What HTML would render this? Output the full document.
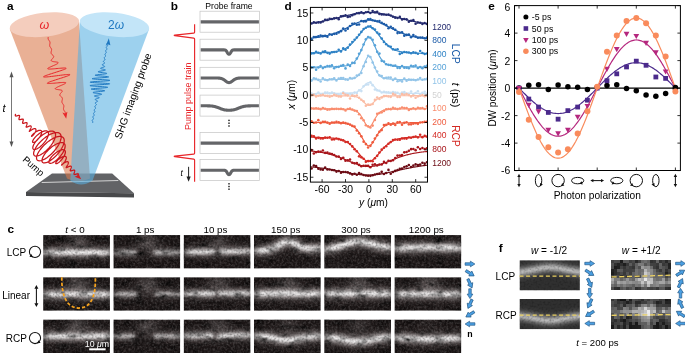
<!DOCTYPE html>
<html><head><meta charset="utf-8"><title>figure</title>
<style>html,body{margin:0;padding:0;background:#fff;font-family:"Liberation Sans",sans-serif;overflow:hidden;}svg{display:block;will-change:transform;}</style></head>
<body>
<svg width="685" height="356" viewBox="0 0 685 356" font-family="Liberation Sans, sans-serif">
<defs>
<filter id="blur2" filterUnits="userSpaceOnUse" x="0" y="200" width="685" height="156"><feGaussianBlur stdDeviation="2.2"/></filter>
<filter id="blur3" filterUnits="userSpaceOnUse" x="0" y="200" width="685" height="156"><feGaussianBlur stdDeviation="3.2"/></filter>
<filter id="blur17" filterUnits="userSpaceOnUse" x="0" y="200" width="685" height="156"><feGaussianBlur stdDeviation="1.7"/></filter>
<filter id="blur1" filterUnits="userSpaceOnUse" x="0" y="200" width="685" height="156"><feGaussianBlur stdDeviation="1.1"/></filter>
<linearGradient id="edgeg" x1="0" x2="1" y1="0" y2="0"><stop offset="0" stop-color="#120e0e" stop-opacity="0.45"/><stop offset="0.12" stop-color="#120e0e" stop-opacity="0"/><stop offset="0.9" stop-color="#120e0e" stop-opacity="0"/><stop offset="1" stop-color="#120e0e" stop-opacity="0.3"/></linearGradient>
<filter id="blur5" filterUnits="userSpaceOnUse" x="0" y="200" width="685" height="156"><feGaussianBlur stdDeviation="5"/></filter>
<filter id="noise" x="0" y="0" width="100%" height="100%">
  <feTurbulence type="fractalNoise" baseFrequency="0.45" numOctaves="2" seed="3" result="t"/>
  <feColorMatrix type="matrix" values="0 0 0 0 1  0 0 0 0 0.97  0 0 0 0 0.97  2.2 0 0 0 -0.85"/>
</filter>
<filter id="noisel" x="0" y="0" width="100%" height="100%">
  <feTurbulence type="fractalNoise" baseFrequency="0.09 0.16" numOctaves="2" seed="5" result="t"/>
  <feColorMatrix type="matrix" values="2.4 0 0 0 -0.35  2.4 0 0 0 -0.35  2.4 0 0 0 -0.35  0 0 0 0 1"/>
</filter>
<filter id="noisem" x="0" y="0" width="100%" height="100%">
  <feTurbulence type="fractalNoise" baseFrequency="0.5" numOctaves="2" seed="11" result="t"/>
  <feColorMatrix type="matrix" values="0 1.5 0 0 0.1  0 1.5 0 0 0.1  0 1.5 0 0 0.1  0 0 0 0 1"/>
</filter>
<marker id="arrR" markerWidth="6" markerHeight="6" refX="4" refY="3" orient="auto"><path d="M0,0.5 L5,3 L0,5.5 L1.2,3 Z" fill="#d7191c"/></marker>
<marker id="arrB" markerWidth="6" markerHeight="6" refX="4" refY="3" orient="auto"><path d="M0,0.5 L5,3 L0,5.5 L1.2,3 Z" fill="#1f78c1"/></marker>
</defs>
<rect width="685" height="356" fill="#fff"/>
<g id="pa">
<polygon points="52,173.6 112.2,173.6 134,193.3 26,192" fill="#626366"/>
<polygon points="26,192 134,193.3 134,197.4 26,196" fill="#48494b"/>
<line x1="41.7" y1="182.5" x2="118.3" y2="180.5" stroke="#e0e0e0" stroke-width="0.9"/>
<path d="M9.8,29.2 L67,178.5 Q78,184 90,178.5 L79,21.5 Z" fill="rgb(218,121,74)" fill-opacity="0.59"/>
<ellipse cx="44.4" cy="24.7" rx="34.9" ry="11.9" transform="rotate(-6.3 44.4 24.7)" fill="#f4cdbd"/>
<path d="M79.9,21.5 L70.3,180.5 Q81,188.5 92.6,180.5 L149,29.2 Z" fill="rgb(89,177,226)" fill-opacity="0.59"/>
<ellipse cx="114.5" cy="24.7" rx="34.9" ry="11.9" transform="rotate(6.3 114.5 24.7)" fill="#c3e5f8"/>
<path d="M48.30,37.00 L48.27,37.17 L48.23,37.34 L48.20,37.51 L48.18,37.68 L48.16,37.84 L48.14,38.01 L48.13,38.17 L48.13,38.34 L48.14,38.50 L48.16,38.65 L48.18,38.81 L48.22,38.97 L48.26,39.12 L48.32,39.27 L48.38,39.42 L48.45,39.57 L48.53,39.71 L48.61,39.85 L48.70,40.00 L48.80,40.14 L48.89,40.28 L48.99,40.42 L49.10,40.56 L49.20,40.70 L49.30,40.84 L49.39,40.98 L49.48,41.13 L49.57,41.27 L49.65,41.41 L49.73,41.56 L49.79,41.71 L49.85,41.86 L49.90,42.01 L49.94,42.16 L49.97,42.32 L49.99,42.48 L50.00,42.64 L50.00,42.80 L50.00,42.96 L49.99,43.13 L49.97,43.29 L49.95,43.46 L49.92,43.63 L49.89,43.80 L49.85,43.97 L49.82,44.14 L49.78,44.31 L49.75,44.48 L49.72,44.65 L49.70,44.81 L49.68,44.98 L49.67,45.14 L49.66,45.31 L49.67,45.47 L49.68,45.63 L49.70,45.79 L49.73,45.94 L49.77,46.10 L49.82,46.25 L49.88,46.40 L49.94,46.55 L50.02,46.69 L50.10,46.84 L50.19,46.98 L50.28,47.12 L50.38,47.26 L50.48,47.40 L50.59,47.54 L50.69,47.68 L50.79,47.82 L50.89,47.96 L50.99,48.10 L51.08,48.25 L51.17,48.39 L51.25,48.53 L51.33,48.68 L51.39,48.83 L51.45,48.98 L51.49,49.13 L51.53,49.29 L51.56,49.44 L51.57,49.60 L51.58,49.76 L51.58,49.92 L51.57,50.09 L51.55,50.26 L51.52,50.42 L51.49,50.59 L51.45,50.76 L51.41,50.93 L51.37,51.11 L51.32,51.28 L51.28,51.45 L51.23,51.62 L51.19,51.79 L51.16,51.96 L51.13,52.13 L51.10,52.30 L51.09,52.47 L51.08,52.63 L51.09,52.79 L51.10,52.95 L51.13,53.11 L51.17,53.26 L51.22,53.41 L51.28,53.56 L51.36,53.71 L51.45,53.85 L51.55,53.99 L51.66,54.13 L51.78,54.26 L51.91,54.40 L52.05,54.53 L52.19,54.66 L52.34,54.79 L52.49,54.92 L52.64,55.05 L52.79,55.18 L52.93,55.31 L53.07,55.45 L53.19,55.58 L53.31,55.72 L53.41,55.86 L53.50,56.00 L53.57,56.15 L53.62,56.30 L53.66,56.45 L53.67,56.61 L53.65,56.78 L53.62,56.95 L53.56,57.12 L53.48,57.30 L53.38,57.49 L53.26,57.68 L53.12,57.87 L52.97,58.06 L52.80,58.26 L52.62,58.46 L52.44,58.67 L52.25,58.87 L52.07,59.07 L51.89,59.27 L51.72,59.47 L51.57,59.67 L51.44,59.86 L51.34,60.04 L51.27,60.22 L51.23,60.39 L51.23,60.55 L51.27,60.71 L51.36,60.85 L51.49,60.99 L51.66,61.11 L51.89,61.22 L52.16,61.33 L52.47,61.42 L52.83,61.51 L53.22,61.58 L53.64,61.65 L54.08,61.72 L54.55,61.78 L55.02,61.84 L55.50,61.90 L55.97,61.96 L56.42,62.02 L56.84,62.09 L57.22,62.17 L57.56,62.26 L57.84,62.36 L58.06,62.48 L58.20,62.61 L58.27,62.75 L58.25,62.92 L58.14,63.11 L57.95,63.31 L57.66,63.54 L57.29,63.78 L56.83,64.04 L56.30,64.32 L55.69,64.61 L55.03,64.92 L54.31,65.24 L53.56,65.57 L52.80,65.90 L52.02,66.23 L51.26,66.56 L50.53,66.88 L49.84,67.19 L49.22,67.49 L48.69,67.77 L48.24,68.03 L47.91,68.26 L47.71,68.47 L47.63,68.65 L47.70,68.79 L47.92,68.91 L48.28,68.99 L48.79,69.04 L49.45,69.06 L50.24,69.05 L51.17,69.01 L52.20,68.95 L53.33,68.87 L54.53,68.76 L55.79,68.65 L57.08,68.53 L58.38,68.41 L59.66,68.30 L60.89,68.19 L62.05,68.10 L63.11,68.03 L64.04,67.99 L64.84,67.98 L65.47,68.00 L65.91,68.07 L66.17,68.18 L66.22,68.33 L66.06,68.52 L65.69,68.77 L65.11,69.06 L64.33,69.39 L63.36,69.76 L62.22,70.17 L60.93,70.62 L59.52,71.09 L58.01,71.58 L56.42,72.09 L54.80,72.60 L53.17,73.12 L51.58,73.63 L50.04,74.13 L48.61,74.60 L47.30,75.05 L46.14,75.46 L45.17,75.84 L44.41,76.17 L43.87,76.45 L43.56,76.68 L43.51,76.85 L43.70,76.97 L44.15,77.04 L44.83,77.05 L45.75,77.01 L46.89,76.93 L48.21,76.80 L49.71,76.64 L51.34,76.44 L53.08,76.22 L54.90,75.99 L56.75,75.75 L58.60,75.51 L60.42,75.28 L62.16,75.06 L63.79,74.86 L65.29,74.70 L66.61,74.57 L67.75,74.49 L68.67,74.45 L69.35,74.46 L69.80,74.53 L69.99,74.65 L69.94,74.82 L69.63,75.05 L69.09,75.33 L68.33,75.66 L67.36,76.04 L66.20,76.45 L64.89,76.90 L63.46,77.37 L61.92,77.87 L60.33,78.38 L58.70,78.90 L57.08,79.41 L55.49,79.92 L53.98,80.41 L52.57,80.88 L51.28,81.33 L50.14,81.74 L49.17,82.11 L48.39,82.44 L47.81,82.73 L47.44,82.98 L47.28,83.17 L47.33,83.32 L47.59,83.43 L48.03,83.50 L48.66,83.52 L49.46,83.51 L50.39,83.47 L51.45,83.40 L52.61,83.31 L53.84,83.20 L55.12,83.09 L56.42,82.97 L57.71,82.85 L58.97,82.74 L60.17,82.63 L61.30,82.55 L62.33,82.49 L63.26,82.45 L64.05,82.44 L64.71,82.46 L65.22,82.51 L65.58,82.59 L65.80,82.71 L65.87,82.85 L65.79,83.03 L65.59,83.24 L65.26,83.47 L64.81,83.73 L64.28,84.01 L63.66,84.31 L62.97,84.62 L62.24,84.94 L61.48,85.27 L60.70,85.60 L59.94,85.93 L59.19,86.26 L58.47,86.58 L57.81,86.89 L57.20,87.18 L56.67,87.46 L56.21,87.72 L55.84,87.96 L55.55,88.19 L55.36,88.39 L55.25,88.58 L55.23,88.75 L55.30,88.89 L55.44,89.02 L55.66,89.14 L55.94,89.24 L56.28,89.33 L56.66,89.41 L57.08,89.48 L57.53,89.54 L58.00,89.60 L58.48,89.66 L58.95,89.72 L59.42,89.78 L59.86,89.85 L60.28,89.92 L60.67,89.99 L61.03,90.08 L61.34,90.17 L61.61,90.28 L61.84,90.39 L62.01,90.51 L62.14,90.65 L62.23,90.79 L62.27,90.95 L62.27,91.11 L62.23,91.28 L62.16,91.46 L62.06,91.64 L61.93,91.83 L61.78,92.03 L61.61,92.23 L61.43,92.43 L61.25,92.63 L61.06,92.83 L60.88,93.04 L60.70,93.24 L60.53,93.44 L60.38,93.63 L60.24,93.82 L60.12,94.01 L60.02,94.20 L59.94,94.38 L59.88,94.55 L59.85,94.72 L59.83,94.89 L59.84,95.05 L59.88,95.20 L59.93,95.35 L60.00,95.50 L60.09,95.64 L60.19,95.78 L60.31,95.92 L60.43,96.05 L60.57,96.19 L60.71,96.32 L60.86,96.45 L61.01,96.58 L61.16,96.71 L61.31,96.84 L61.45,96.97 L61.59,97.10 L61.72,97.24 L61.84,97.37 L61.95,97.51 L62.05,97.65 L62.14,97.79 L62.22,97.94 L62.28,98.09 L62.33,98.24 L62.37,98.39 L62.40,98.55 L62.41,98.71 L62.42,98.87 L62.41,99.03 L62.40,99.20 L62.37,99.37 L62.34,99.54 L62.31,99.71 L62.27,99.88 L62.22,100.05 L62.18,100.22 L62.13,100.39 L62.09,100.57 L62.05,100.74 L62.01,100.91 L61.98,101.08 L61.95,101.24 L61.93,101.41 L61.92,101.58 L61.92,101.74 L61.93,101.90 L61.94,102.06 L61.97,102.21 L62.01,102.37 L62.05,102.52 L62.11,102.67 L62.17,102.82 L62.25,102.97 L62.33,103.11 L62.42,103.25 L62.51,103.40 L62.61,103.54 L62.71,103.68 L62.81,103.82 L62.91,103.96 L63.02,104.10 L63.12,104.24 L63.22,104.38 L63.31,104.52 L63.40,104.66 L63.48,104.81 L63.56,104.95 L63.62,105.10 L63.68,105.25 L63.73,105.40 L63.77,105.56 L63.80,105.71 L63.82,105.87 L63.83,106.03 L63.84,106.19 L63.83,106.36 L63.82,106.52 L63.80,106.69 L63.78,106.85 L63.75,107.02 L63.72,107.19 L63.68,107.36 L63.65,107.53 L63.61,107.70 L63.58,107.87 L63.55,108.04 L63.53,108.21 L63.51,108.37 L63.50,108.54 L63.50,108.70 L63.50,108.86 L63.51,109.02 L63.53,109.18 L63.56,109.34 L63.60,109.49 L63.65,109.64 L63.71,109.79 L63.77,109.94 L63.85,110.09 L63.93,110.23 L64.02,110.37 L64.11,110.52 L64.20,110.66 L64.30,110.80 L64.40,110.94 L64.51,111.08 L64.61,111.22 L64.70,111.36 L64.80,111.50 L64.89,111.65 L64.97,111.79 L65.05,111.93 L65.12,112.08 L65.18,112.23 L65.24,112.38 L65.28,112.53 L65.32,112.69 L65.34,112.85 L65.36,113.00 L65.37,113.16 L65.37,113.33 L65.36,113.49 L65.34,113.66 L65.32,113.82 L65.30,113.99 L65.27,114.16 L65.23,114.33 L65.20,114.50" fill="none" stroke="#e8262a" stroke-width="1.0" stroke-linejoin="round"/>
<path d="M66.2,118.8 L62.4,112.6 L65,113.6 L67.4,111.8 Z" fill="#e8262a"/>
<path d="M92.20,123.00 L92.36,122.84 L92.51,122.68 L92.64,122.52 L92.74,122.36 L92.80,122.20 L92.83,122.04 L92.82,121.88 L92.78,121.72 L92.71,121.56 L92.62,121.40 L92.52,121.24 L92.43,121.08 L92.34,120.92 L92.28,120.76 L92.24,120.60 L92.24,120.44 L92.28,120.28 L92.36,120.12 L92.46,119.96 L92.60,119.80 L92.75,119.64 L92.91,119.48 L93.07,119.32 L93.21,119.16 L93.33,119.00 L93.43,118.84 L93.48,118.68 L93.50,118.52 L93.48,118.36 L93.43,118.20 L93.36,118.04 L93.26,117.88 L93.17,117.72 L93.07,117.56 L92.99,117.40 L92.93,117.24 L92.91,117.08 L92.92,116.92 L92.97,116.76 L93.05,116.60 L93.17,116.44 L93.31,116.28 L93.46,116.12 L93.62,115.96 L93.78,115.80 L93.92,115.64 L94.03,115.48 L94.12,115.32 L94.16,115.16 L94.17,115.00 L94.14,114.84 L94.09,114.68 L94.00,114.52 L93.91,114.36 L93.81,114.20 L93.72,114.04 L93.64,113.88 L93.59,113.72 L93.57,113.56 L93.59,113.40 L93.65,113.24 L93.74,113.08 L93.87,112.92 L94.01,112.76 L94.17,112.60 L94.34,112.44 L94.49,112.28 L94.63,112.12 L94.74,111.96 L94.81,111.80 L94.85,111.64 L94.85,111.48 L94.81,111.32 L94.75,111.16 L94.66,111.00 L94.55,110.84 L94.45,110.68 L94.35,110.52 L94.28,110.36 L94.23,110.20 L94.22,110.04 L94.25,109.88 L94.31,109.72 L94.42,109.56 L94.55,109.40 L94.71,109.24 L94.89,109.08 L95.06,108.92 L95.22,108.76 L95.36,108.60 L95.47,108.44 L95.55,108.28 L95.58,108.12 L95.56,107.96 L95.51,107.80 L95.43,107.64 L95.31,107.48 L95.19,107.32 L95.07,107.16 L94.95,107.00 L94.86,106.84 L94.81,106.68 L94.80,106.52 L94.83,106.36 L94.91,106.20 L95.04,106.04 L95.21,105.88 L95.40,105.72 L95.61,105.56 L95.82,105.40 L96.02,105.24 L96.19,105.08 L96.32,104.92 L96.40,104.76 L96.42,104.60 L96.38,104.44 L96.30,104.28 L96.16,104.12 L95.99,103.96 L95.80,103.80 L95.61,103.64 L95.43,103.48 L95.29,103.32 L95.21,103.16 L95.18,103.00 L95.23,102.84 L95.35,102.68 L95.54,102.52 L95.79,102.36 L96.08,102.20 L96.40,102.04 L96.72,101.88 L97.02,101.72 L97.27,101.56 L97.45,101.40 L97.55,101.24 L97.55,101.08 L97.45,100.92 L97.26,100.76 L96.99,100.60 L96.66,100.44 L96.30,100.28 L95.94,100.12 L95.61,99.96 L95.35,99.80 L95.18,99.64 L95.14,99.48 L95.22,99.32 L95.45,99.16 L95.80,99.00 L96.25,98.84 L96.79,98.68 L97.36,98.52 L97.93,98.36 L98.45,98.20 L98.87,98.04 L99.15,97.88 L99.26,97.72 L99.19,97.56 L98.93,97.40 L98.50,97.24 L97.93,97.08 L97.25,96.92 L96.53,96.76 L95.83,96.60 L95.22,96.44 L94.74,96.28 L94.46,96.12 L94.42,95.96 L94.63,95.80 L95.09,95.64 L95.78,95.48 L96.65,95.32 L97.65,95.16 L98.69,95.00 L99.69,94.84 L100.56,94.68 L101.23,94.52 L101.63,94.36 L101.71,94.20 L101.45,94.04 L100.86,93.88 L99.98,93.72 L98.86,93.56 L97.61,93.40 L96.32,93.24 L95.11,93.08 L94.08,92.92 L93.34,92.76 L92.96,92.60 L93.01,92.44 L93.48,92.28 L94.37,92.12 L95.62,91.96 L97.14,91.80 L98.82,91.64 L100.51,91.48 L102.07,91.32 L103.37,91.16 L104.30,91.00 L104.75,90.84 L104.67,90.68 L104.06,90.52 L102.95,90.36 L101.42,90.20 L99.59,90.04 L97.60,89.88 L95.64,89.72 L93.86,89.56 L92.43,89.40 L91.49,89.24 L91.13,89.08 L91.40,88.92 L92.30,88.76 L93.77,88.60 L95.71,88.44 L97.97,88.28 L100.36,88.12 L102.68,87.96 L104.74,87.80 L106.37,87.64 L107.41,87.48 L107.76,87.32 L107.39,87.16 L106.31,87.00 L104.61,86.84 L102.41,86.68 L99.91,86.52 L97.30,86.36 L94.82,86.20 L92.67,86.04 L91.05,85.88 L90.10,85.72 L89.92,85.56 L90.53,85.40 L91.89,85.24 L93.91,85.08 L96.41,84.92 L99.19,84.76 L102.03,84.60 L104.69,84.44 L106.94,84.28 L108.59,84.12 L109.51,83.96 L109.62,83.80 L108.90,83.64 L107.42,83.48 L105.30,83.32 L102.72,83.16 L99.90,83.00 L97.08,82.84 L94.50,82.68 L92.38,82.52 L90.90,82.36 L90.18,82.20 L90.29,82.04 L91.21,81.88 L92.86,81.72 L95.11,81.56 L97.77,81.40 L100.61,81.24 L103.39,81.08 L105.89,80.92 L107.91,80.76 L109.27,80.60 L109.88,80.44 L109.70,80.28 L108.75,80.12 L107.13,79.96 L104.98,79.80 L102.50,79.64 L99.89,79.48 L97.39,79.32 L95.19,79.16 L93.49,79.00 L92.41,78.84 L92.04,78.68 L92.39,78.52 L93.43,78.36 L95.06,78.20 L97.12,78.04 L99.44,77.88 L101.83,77.72 L104.09,77.56 L106.03,77.40 L107.50,77.24 L108.40,77.08 L108.67,76.92 L108.31,76.76 L107.37,76.60 L105.94,76.44 L104.16,76.28 L102.20,76.12 L100.21,75.96 L98.38,75.80 L96.85,75.64 L95.74,75.48 L95.13,75.32 L95.05,75.16 L95.50,75.00 L96.43,74.84 L97.73,74.68 L99.29,74.52 L100.98,74.36 L102.66,74.20 L104.18,74.04 L105.43,73.88 L106.32,73.72 L106.79,73.56 L106.84,73.40 L106.46,73.24 L105.72,73.08 L104.69,72.92 L103.48,72.76 L102.19,72.60 L100.94,72.44 L99.82,72.28 L98.94,72.12 L98.35,71.96 L98.09,71.80 L98.17,71.64 L98.57,71.48 L99.24,71.32 L100.11,71.16 L101.11,71.00 L102.15,70.84 L103.15,70.68 L104.02,70.52 L104.71,70.36 L105.17,70.20 L105.38,70.04 L105.34,69.88 L105.06,69.72 L104.58,69.56 L103.97,69.40 L103.27,69.24 L102.55,69.08 L101.87,68.92 L101.30,68.76 L100.87,68.60 L100.61,68.44 L100.54,68.28 L100.65,68.12 L100.93,67.96 L101.35,67.80 L101.87,67.64 L102.44,67.48 L103.01,67.32 L103.55,67.16 L104.00,67.00 L104.35,66.84 L104.58,66.68 L104.66,66.52 L104.62,66.36 L104.45,66.20 L104.19,66.04 L103.86,65.88 L103.50,65.72 L103.14,65.56 L102.81,65.40 L102.54,65.24 L102.35,65.08 L102.25,64.92 L102.25,64.76 L102.35,64.60 L102.53,64.44 L102.78,64.28 L103.08,64.12 L103.40,63.96 L103.72,63.80 L104.01,63.64 L104.26,63.48 L104.45,63.32 L104.57,63.16 L104.62,63.00 L104.59,62.84 L104.51,62.68 L104.37,62.52 L104.19,62.36 L104.00,62.20 L103.81,62.04 L103.64,61.88 L103.50,61.72 L103.42,61.56 L103.38,61.40 L103.40,61.24 L103.48,61.08 L103.61,60.92 L103.78,60.76 L103.98,60.60 L104.19,60.44 L104.40,60.28 L104.59,60.12 L104.76,59.96 L104.89,59.80 L104.97,59.64 L105.00,59.48 L104.99,59.32 L104.94,59.16 L104.85,59.00 L104.73,58.84 L104.61,58.68 L104.49,58.52 L104.37,58.36 L104.29,58.20 L104.24,58.04 L104.22,57.88 L104.25,57.72 L104.33,57.56 L104.44,57.40 L104.58,57.24 L104.74,57.08 L104.91,56.92 L105.09,56.76 L105.25,56.60 L105.38,56.44 L105.49,56.28 L105.55,56.12 L105.58,55.96 L105.57,55.80 L105.52,55.64 L105.45,55.48 L105.35,55.32 L105.25,55.16 L105.14,55.00 L105.05,54.84 L104.99,54.68 L104.95,54.52 L104.95,54.36 L104.99,54.20 L105.06,54.04 L105.17,53.88 L105.31,53.72 L105.46,53.56 L105.63,53.40 L105.79,53.24 L105.93,53.08 L106.06,52.92 L106.15,52.76 L106.21,52.60 L106.23,52.44 L106.21,52.28 L106.16,52.12 L106.08,51.96 L105.99,51.80 L105.89,51.64 L105.80,51.48 L105.71,51.32 L105.66,51.16 L105.63,51.00 L105.64,50.84 L105.68,50.68 L105.77,50.52 L105.88,50.36 L106.02,50.20 L106.18,50.04 L106.34,49.88 L106.49,49.72 L106.63,49.56 L106.75,49.40 L106.83,49.24 L106.88,49.08 L106.89,48.92 L106.87,48.76 L106.81,48.60 L106.73,48.44 L106.63,48.28 L106.54,48.12 L106.44,47.96 L106.37,47.80 L106.32,47.64 L106.30,47.48 L106.32,47.32 L106.37,47.16 L106.47,47.00 L106.59,46.84 L106.73,46.68 L106.89,46.52 L107.05,46.36 L107.20,46.20 L107.34,46.04 L107.44,45.88 L107.52,45.72 L107.56,45.56 L107.56,45.40 L107.52,45.24 L107.46,45.08 L107.37,44.92 L107.28,44.76 L107.18,44.60 L107.09,44.44 L107.02,44.28 L106.98,44.12 L106.97,43.96 L107.00,43.80 L107.06,43.64 L107.16,43.48 L107.29,43.32 L107.44,43.16 L107.60,43.00" fill="none" stroke="#1f78c1" stroke-width="0.95" stroke-linejoin="round"/>
<path d="M108.8,38.2 L110.4,45.2 L107.6,44.2 L105.6,46.2 Z" fill="#1f78c1"/>
<path d="M15.60,113.90 L15.54,114.10 L15.49,114.29 L15.44,114.48 L15.39,114.66 L15.35,114.84 L15.32,115.01 L15.30,115.17 L15.29,115.32 L15.30,115.45 L15.31,115.58 L15.34,115.69 L15.38,115.78 L15.44,115.86 L15.51,115.93 L15.60,115.98 L15.71,116.01 L15.82,116.03 L15.95,116.04 L16.09,116.04 L16.25,116.02 L16.41,115.99 L16.59,115.96 L16.77,115.91 L16.96,115.86 L17.15,115.81 L17.34,115.75 L17.54,115.69 L17.73,115.64 L17.92,115.58 L18.11,115.53 L18.29,115.49 L18.47,115.46 L18.63,115.43 L18.78,115.41 L18.93,115.41 L19.06,115.42 L19.17,115.44 L19.28,115.48 L19.36,115.53 L19.44,115.59 L19.49,115.67 L19.54,115.77 L19.57,115.88 L19.58,116.00 L19.58,116.14 L19.57,116.29 L19.55,116.45 L19.52,116.62 L19.48,116.80 L19.43,116.99 L19.38,117.18 L19.33,117.37 L19.27,117.57 L19.21,117.76 L19.16,117.96 L19.11,118.15 L19.06,118.33 L19.02,118.51 L18.99,118.68 L18.97,118.84 L18.96,118.99 L18.96,119.13 L18.98,119.25 L19.00,119.36 L19.05,119.45 L19.11,119.53 L19.18,119.59 L19.27,119.64 L19.37,119.68 L19.49,119.70 L19.62,119.70 L19.76,119.69 L19.92,119.68 L20.08,119.65 L20.26,119.61 L20.44,119.56 L20.63,119.51 L20.82,119.45 L21.02,119.40 L21.21,119.34 L21.41,119.28 L21.60,119.22 L21.79,119.17 L21.98,119.13 L22.15,119.09 L22.32,119.06 L22.47,119.04 L22.62,119.04 L22.75,119.05 L22.87,119.07 L22.97,119.11 L23.06,119.16 L23.13,119.23 L23.19,119.31 L23.24,119.41 L23.27,119.52 L23.28,119.65 L23.28,119.79 L23.27,119.94 L23.25,120.11 L23.22,120.28 L23.17,120.46 L23.13,120.65 L23.07,120.85 L23.01,121.05 L22.95,121.25 L22.89,121.45 L22.83,121.65 L22.78,121.84 L22.73,122.03 L22.68,122.21 L22.65,122.38 L22.62,122.55 L22.60,122.70 L22.60,122.83 L22.61,122.96 L22.64,123.07 L22.68,123.16 L22.73,123.24 L22.80,123.30 L22.89,123.34 L22.99,123.37 L23.10,123.39 L23.23,123.39 L23.38,123.38 L23.53,123.35 L23.70,123.31 L23.88,123.27 L24.07,123.21 L24.26,123.15 L24.46,123.09 L24.66,123.02 L24.87,122.95 L25.07,122.88 L25.28,122.82 L25.48,122.76 L25.67,122.70 L25.85,122.66 L26.03,122.62 L26.20,122.60 L26.35,122.59 L26.50,122.60 L26.62,122.62 L26.74,122.66 L26.83,122.71 L26.91,122.78 L26.98,122.87 L27.03,122.97 L27.06,123.10 L27.08,123.23 L27.08,123.39 L27.06,123.55 L27.04,123.73 L27.00,123.92 L26.95,124.12 L26.89,124.33 L26.83,124.54 L26.75,124.76 L26.68,124.98 L26.60,125.20 L26.53,125.41 L26.45,125.62 L26.38,125.83 L26.32,126.03 L26.26,126.21 L26.21,126.38 L26.17,126.54 L26.15,126.69 L26.14,126.82 L26.15,126.93 L26.17,127.02 L26.21,127.09 L26.27,127.14 L26.34,127.18 L26.44,127.19 L26.55,127.19 L26.68,127.17 L26.83,127.13 L26.99,127.08 L27.16,127.02 L27.36,126.94 L27.56,126.86 L27.77,126.76 L27.99,126.66 L28.22,126.56 L28.46,126.46 L28.69,126.36 L28.93,126.26 L29.17,126.17 L29.40,126.09 L29.62,126.02 L29.84,125.97 L30.04,125.93 L30.23,125.90 L30.41,125.90 L30.57,125.92 L30.72,125.96 L30.84,126.01 L30.95,126.10 L31.03,126.20 L31.10,126.33 L31.14,126.48 L31.16,126.65 L31.16,126.84 L31.14,127.05 L31.10,127.28 L31.04,127.52 L30.97,127.77 L30.88,128.03 L30.77,128.30 L30.66,128.58 L30.53,128.86 L30.40,129.13 L30.27,129.40 L30.13,129.67 L30.00,129.92 L29.87,130.16 L29.75,130.39 L29.63,130.59 L29.53,130.78 L29.45,130.94 L29.38,131.08 L29.33,131.19 L29.31,131.27 L29.30,131.33 L29.32,131.36 L29.37,131.36 L29.44,131.33 L29.54,131.28 L29.67,131.20 L29.83,131.09 L30.01,130.97 L30.21,130.82 L30.44,130.66 L30.70,130.48 L30.97,130.30 L31.26,130.10 L31.56,129.91 L31.88,129.71 L32.21,129.52 L32.54,129.34 L32.88,129.17 L33.21,129.01 L33.54,128.88 L33.86,128.77 L34.17,128.68 L34.46,128.63 L34.73,128.60 L34.98,128.61 L35.21,128.66 L35.41,128.74 L35.57,128.85 L35.71,129.01 L35.81,129.20 L35.87,129.42 L35.90,129.68 L35.89,129.98 L35.85,130.30 L35.77,130.64 L35.65,131.01 L35.51,131.40 L35.33,131.81 L35.13,132.22 L34.90,132.64 L34.65,133.06 L34.39,133.47 L34.11,133.88 L33.83,134.27 L33.54,134.63 L33.25,134.98 L32.97,135.29 L32.70,135.57 L32.45,135.81 L32.22,136.01 L32.02,136.16 L31.85,136.27 L31.71,136.33 L31.61,136.35 L31.56,136.31 L31.54,136.22 L31.58,136.09 L31.66,135.91 L31.79,135.69 L31.98,135.43 L32.21,135.13 L32.49,134.80 L32.81,134.44 L33.18,134.07 L33.59,133.68 L34.04,133.28 L34.51,132.88 L35.02,132.49 L35.55,132.11 L36.09,131.74 L36.64,131.41 L37.19,131.10 L37.74,130.84 L38.28,130.62 L38.80,130.45 L39.30,130.33 L39.77,130.28 L40.19,130.28 L40.58,130.35 L40.91,130.48 L41.19,130.68 L41.41,130.94 L41.58,131.27 L41.67,131.66 L41.70,132.11 L41.67,132.61 L41.56,133.16 L41.39,133.75 L41.16,134.37 L40.86,135.03 L40.51,135.71 L40.11,136.39 L39.66,137.08 L39.16,137.77 L38.64,138.44 L38.09,139.08 L37.52,139.69 L36.94,140.27 L36.36,140.79 L35.80,141.25 L35.25,141.65 L34.73,141.97 L34.25,142.23 L33.81,142.40 L33.43,142.49 L33.10,142.49 L32.85,142.41 L32.67,142.24 L32.57,141.99 L32.56,141.66 L32.63,141.25 L32.78,140.77 L33.03,140.23 L33.37,139.63 L33.79,138.98 L34.29,138.30 L34.87,137.58 L35.52,136.85 L36.24,136.12 L37.01,135.39 L37.83,134.67 L38.69,133.99 L39.58,133.35 L40.48,132.76 L41.39,132.23 L42.29,131.77 L43.17,131.40 L44.02,131.12 L44.83,130.93 L45.58,130.84 L46.27,130.86 L46.88,130.98 L47.41,131.22 L47.84,131.56 L48.18,132.01 L48.41,132.56 L48.54,133.21 L48.55,133.95 L48.45,134.77 L48.23,135.67 L47.91,136.62 L47.48,137.63 L46.95,138.67 L46.33,139.74 L45.62,140.81 L44.84,141.89 L43.99,142.94 L43.09,143.95 L42.15,144.92 L41.19,145.83 L40.21,146.66 L39.24,147.40 L38.29,148.05 L37.37,148.59 L36.50,149.01 L35.69,149.30 L34.96,149.47 L34.32,149.50 L33.78,149.41 L33.34,149.18 L33.03,148.82 L32.84,148.33 L32.79,147.72 L32.87,147.01 L33.09,146.19 L33.44,145.28 L33.93,144.30 L34.55,143.25 L35.29,142.15 L36.15,141.03 L37.12,139.89 L38.18,138.75 L39.32,137.64 L40.52,136.56 L41.78,135.54 L43.08,134.58 L44.39,133.72 L45.70,132.96 L47.00,132.31 L48.26,131.79 L49.47,131.40 L50.61,131.16 L51.66,131.07 L52.61,131.13 L53.45,131.35 L54.16,131.73 L54.73,132.25 L55.16,132.93 L55.44,133.74 L55.56,134.69 L55.52,135.75 L55.32,136.93 L54.96,138.19 L54.45,139.53 L53.80,140.92 L53.01,142.36 L52.09,143.81 L51.06,145.27 L49.94,146.70 L48.73,148.10 L47.46,149.43 L46.15,150.69 L44.81,151.85 L43.46,152.90 L42.13,153.82 L40.83,154.60 L39.59,155.23 L38.42,155.70 L37.35,156.00 L36.38,156.13 L35.54,156.08 L34.83,155.86 L34.28,155.47 L33.89,154.92 L33.66,154.20 L33.61,153.34 L33.74,152.35 L34.04,151.23 L34.52,150.01 L35.16,148.70 L35.97,147.33 L36.93,145.91 L38.03,144.47 L39.26,143.02 L40.60,141.59 L42.03,140.20 L43.53,138.87 L45.09,137.62 L46.68,136.48 L48.29,135.45 L49.88,134.55 L51.43,133.80 L52.94,133.22 L54.37,132.80 L55.70,132.57 L56.92,132.51 L58.02,132.65 L58.96,132.96 L59.75,133.46 L60.37,134.14 L60.82,134.99 L61.08,135.99 L61.15,137.14 L61.04,138.41 L60.75,139.80 L60.27,141.29 L59.62,142.85 L58.82,144.46 L57.86,146.10 L56.76,147.74 L55.55,149.38 L54.24,150.98 L52.85,152.52 L51.39,153.97 L49.90,155.33 L48.39,156.58 L46.89,157.68 L45.42,158.64 L44.00,159.43 L42.65,160.05 L41.39,160.50 L40.25,160.75 L39.23,160.82 L38.36,160.70 L37.64,160.39 L37.10,159.90 L36.73,159.24 L36.54,158.43 L36.54,157.46 L36.73,156.36 L37.10,155.14 L37.66,153.83 L38.38,152.44 L39.28,150.99 L40.32,149.51 L41.50,148.01 L42.80,146.53 L44.20,145.07 L45.69,143.67 L47.24,142.35 L48.83,141.12 L50.44,140.00 L52.05,139.00 L53.64,138.16 L55.18,137.46 L56.65,136.94 L58.04,136.59 L59.32,136.41 L60.49,136.42 L61.51,136.61 L62.39,136.98 L63.10,137.52 L63.65,138.23 L64.02,139.10 L64.21,140.11 L64.22,141.25 L64.06,142.51 L63.72,143.86 L63.22,145.29 L62.56,146.78 L61.75,148.30 L60.82,149.84 L59.76,151.38 L58.60,152.89 L57.37,154.35 L56.07,155.75 L54.72,157.07 L53.36,158.29 L51.99,159.38 L50.64,160.35 L49.33,161.18 L48.08,161.86 L46.90,162.37 L45.82,162.72 L44.85,162.91 L44.00,162.93 L43.28,162.78 L42.71,162.47 L42.30,162.01 L42.05,161.40 L41.95,160.66 L42.02,159.80 L42.25,158.83 L42.64,157.77 L43.18,156.64 L43.87,155.45 L44.69,154.22 L45.63,152.97 L46.67,151.72 L47.81,150.49 L49.03,149.30 L50.31,148.16 L51.62,147.09 L52.96,146.10 L54.31,145.22 L55.64,144.45 L56.94,143.80 L58.20,143.28 L59.38,142.91 L60.49,142.67 L61.51,142.58 L62.41,142.64 L63.20,142.84 L63.87,143.19 L64.40,143.67 L64.79,144.27 L65.04,145.00 L65.15,145.83 L65.12,146.76 L64.96,147.78 L64.66,148.86 L64.23,149.99 L63.69,151.16 L63.04,152.35 L62.30,153.55 L61.48,154.73 L60.58,155.89 L59.64,157.01 L58.66,158.06 L57.65,159.06 L56.64,159.96 L55.64,160.78 L54.66,161.50 L53.72,162.10 L52.83,162.60 L52.01,162.97 L51.26,163.22 L50.60,163.35 L50.04,163.36 L49.58,163.25 L49.24,163.02 L49.01,162.69 L48.89,162.26 L48.89,161.73 L49.01,161.12 L49.25,160.44 L49.59,159.70 L50.04,158.92 L50.58,158.10 L51.22,157.25 L51.93,156.40 L52.72,155.56 L53.56,154.73 L54.44,153.93 L55.36,153.18 L56.30,152.47 L57.25,151.83 L58.19,151.26 L59.11,150.77 L60.01,150.37 L60.86,150.06 L61.66,149.84 L62.40,149.71 L63.08,149.69 L63.67,149.76 L64.18,149.93 L64.61,150.19 L64.94,150.54 L65.18,150.97 L65.33,151.48 L65.38,152.05 L65.34,152.68 L65.22,153.37 L65.01,154.09 L64.72,154.85 L64.36,155.63 L63.93,156.41 L63.45,157.20 L62.93,157.98 L62.36,158.74 L61.77,159.47 L61.17,160.16 L60.55,160.80 L59.94,161.40 L59.33,161.93 L58.76,162.40 L58.21,162.80 L57.70,163.13 L57.23,163.39 L56.82,163.57 L56.47,163.68 L56.18,163.71 L55.96,163.67 L55.81,163.56 L55.73,163.39 L55.72,163.16 L55.79,162.87 L55.93,162.53 L56.13,162.15 L56.40,161.74 L56.73,161.30 L57.12,160.84 L57.55,160.37 L58.03,159.89 L58.55,159.42 L59.10,158.96 L59.66,158.52 L60.25,158.10 L60.84,157.71 L61.42,157.36 L62.00,157.05 L62.57,156.79 L63.11,156.58 L63.63,156.42 L64.11,156.31 L64.55,156.26 L64.94,156.27 L65.29,156.33 L65.59,156.44 L65.84,156.61 L66.03,156.83 L66.17,157.09 L66.25,157.40 L66.28,157.75 L66.25,158.13 L66.18,158.54 L66.06,158.97 L65.90,159.42 L65.70,159.89 L65.47,160.36 L65.21,160.83 L64.92,161.30 L64.62,161.76 L64.31,162.20 L63.99,162.62 L63.67,163.02 L63.36,163.39 L63.05,163.73 L62.76,164.04 L62.50,164.30 L62.25,164.53 L62.04,164.72 L61.86,164.87 L61.71,164.98 L61.61,165.04 L61.54,165.07 L61.51,165.06 L61.52,165.01 L61.57,164.93 L61.67,164.82 L61.80,164.68 L61.97,164.51 L62.17,164.33 L62.41,164.12 L62.68,163.91 L62.97,163.69 L63.29,163.46 L63.62,163.23 L63.96,163.00 L64.32,162.79 L64.68,162.58 L65.04,162.39 L65.40,162.21 L65.75,162.06 L66.09,161.93 L66.42,161.83 L66.73,161.75 L67.01,161.70 L67.27,161.69 L67.51,161.70 L67.72,161.74 L67.90,161.81 L68.04,161.91 L68.16,162.04 L68.24,162.20 L68.30,162.38 L68.32,162.59 L68.32,162.82 L68.29,163.06 L68.23,163.32 L68.16,163.59 L68.06,163.88 L67.94,164.17 L67.81,164.46 L67.67,164.76 L67.52,165.05 L67.36,165.34 L67.20,165.61 L67.05,165.88 L66.90,166.14 L66.76,166.38 L66.63,166.60 L66.51,166.80 L66.41,166.98 L66.32,167.14 L66.26,167.28 L66.22,167.40 L66.20,167.49 L66.20,167.56 L66.23,167.60 L66.29,167.63 L66.36,167.63 L66.47,167.61 L66.59,167.57 L66.74,167.52 L66.90,167.45 L67.09,167.37 L67.29,167.28 L67.50,167.18 L67.73,167.07 L67.97,166.96 L68.22,166.85 L68.47,166.74 L68.72,166.64 L68.97,166.54 L69.22,166.44 L69.46,166.36 L69.69,166.29 L69.92,166.23 L70.13,166.19 L70.33,166.17 L70.51,166.16 L70.67,166.17 L70.82,166.20 L70.94,166.25 L71.05,166.31 L71.14,166.40 L71.20,166.51 L71.25,166.63 L71.28,166.77 L71.28,166.92 L71.28,167.09 L71.25,167.28 L71.21,167.47 L71.16,167.68 L71.10,167.89 L71.02,168.11 L70.94,168.33 L70.86,168.55 L70.77,168.77 L70.69,168.99 L70.60,169.21 L70.52,169.42 L70.45,169.62 L70.38,169.81 L70.32,169.98 L70.28,170.15 L70.25,170.30 L70.23,170.44 L70.23,170.56 L70.24,170.66 L70.28,170.75 L70.33,170.82 L70.39,170.87 L70.48,170.91 L70.58,170.93 L70.70,170.94 L70.83,170.93 L70.98,170.91 L71.15,170.87 L71.32,170.83 L71.51,170.77 L71.70,170.71 L71.90,170.65 L72.11,170.58 L72.32,170.51 L72.53,170.44 L72.74,170.37 L72.94,170.31 L73.15,170.25 L73.34,170.20 L73.53,170.16 L73.71,170.13 L73.87,170.11 L74.02,170.10 L74.16,170.11 L74.29,170.14 L74.40,170.17 L74.49,170.23 L74.57,170.30 L74.63,170.39 L74.67,170.49 L74.70,170.61 L74.71,170.74 L74.71,170.88 L74.70,171.04 L74.67,171.21 L74.64,171.38 L74.59,171.57 L74.54,171.76 L74.48,171.96 L74.42,172.16 L74.36,172.36 L74.29,172.56 L74.23,172.76 L74.18,172.95 L74.12,173.14 L74.08,173.32 L74.04,173.49 L74.01,173.65 L74.00,173.80 L74.00,173.94 L74.01,174.06 L74.03,174.17 L74.07,174.26 L74.13,174.34 L74.20,174.41 L74.29,174.45 L74.39,174.49 L74.51,174.50 L74.64,174.51 L74.78,174.50 L74.94,174.48 L75.11,174.45 L75.28,174.41 L75.47,174.36 L75.66,174.31 L75.85,174.25 L76.05,174.19 L76.25,174.13 L76.44,174.08 L76.64,174.02 L76.83,173.97 L77.01,173.92 L77.19,173.89 L77.36,173.86 L77.51,173.84 L77.66,173.84 L77.79,173.85 L77.91,173.87 L78.01,173.91 L78.10,173.96 L78.17,174.02 L78.23,174.10 L78.28,174.20 L78.30,174.31 L78.32,174.44 L78.32,174.58 L78.31,174.73 L78.29,174.89 L78.26,175.06 L78.22,175.24 L78.17,175.42 L78.12,175.61 L78.06,175.81 L78.00,176.00" fill="none" stroke="#c9161d" stroke-width="1.25" stroke-linejoin="round"/>
<path d="M81.2,179.2 L74.6,176.8 L77.4,175.6 L77.8,172.6 Z" fill="#cf1f25"/>
<line x1="11.5" y1="75" x2="11.5" y2="143.5" stroke="#555" stroke-width="0.8"/>
<path d="M11.5,71.6 L9.5,77.2 L13.5,77.2 Z" fill="#555"/><path d="M11.5,147 L9.5,141.4 L13.5,141.4 Z" fill="#555"/>
<text x="2.6" y="112.0" font-size="10.8" text-anchor="start" fill="#000" font-weight="normal" font-style="italic" >t</text>
<text x="7" y="9.9" font-size="11.8" text-anchor="start" fill="#000" font-weight="bold" font-style="normal" >a</text>
<text x="44.4" y="28.6" font-size="12.5" text-anchor="middle" fill="#e8262a" font-style="italic">ω</text>
<text x="116" y="28.8" font-size="12" text-anchor="middle" fill="#1f78c1">2<tspan font-style="italic">ω</tspan></text>
<text x="22.1" y="160.4" font-size="9.5" text-anchor="start" fill="#000" font-weight="normal" font-style="normal" transform="rotate(41.4 22.1 160.4)" >Pump</text>
<text x="120.9" y="139.8" font-size="10.3" text-anchor="start" fill="#000" font-weight="normal" font-style="normal" transform="rotate(-70 120.9 139.8)" >SHG imaging probe</text>
</g>
<g id="pb">
<text x="170.8" y="9.9" font-size="11.8" text-anchor="start" fill="#000" font-weight="bold" font-style="normal" >b</text>
<text x="229" y="9" font-size="8.6" text-anchor="middle" fill="#000" font-weight="normal" font-style="normal" >Probe frame</text>
<rect x="200" y="11.2" width="59.60000000000002" height="21" fill="#fff" stroke="#c4c4c4" stroke-width="0.7"/>
<path d="M200.70,21.90 L201.02,21.90 L201.35,21.90 L201.67,21.90 L201.99,21.90 L202.32,21.90 L202.64,21.90 L202.96,21.90 L203.29,21.90 L203.61,21.90 L203.93,21.90 L204.26,21.90 L204.58,21.90 L204.90,21.90 L205.23,21.90 L205.55,21.90 L205.87,21.90 L206.20,21.90 L206.52,21.90 L206.84,21.90 L207.17,21.90 L207.49,21.90 L207.81,21.90 L208.14,21.90 L208.46,21.90 L208.78,21.90 L209.11,21.90 L209.43,21.90 L209.75,21.90 L210.08,21.90 L210.40,21.90 L210.72,21.90 L211.05,21.90 L211.37,21.90 L211.69,21.90 L212.02,21.90 L212.34,21.90 L212.66,21.90 L212.99,21.90 L213.31,21.90 L213.63,21.90 L213.96,21.90 L214.28,21.90 L214.60,21.90 L214.93,21.90 L215.25,21.90 L215.57,21.90 L215.90,21.90 L216.22,21.90 L216.54,21.90 L216.87,21.90 L217.19,21.90 L217.51,21.90 L217.84,21.90 L218.16,21.90 L218.48,21.90 L218.81,21.90 L219.13,21.90 L219.45,21.90 L219.78,21.90 L220.10,21.90 L220.42,21.90 L220.75,21.90 L221.07,21.90 L221.39,21.90 L221.72,21.90 L222.04,21.90 L222.36,21.90 L222.69,21.90 L223.01,21.90 L223.33,21.90 L223.66,21.90 L223.98,21.90 L224.30,21.90 L224.63,21.90 L224.95,21.90 L225.27,21.90 L225.60,21.90 L225.92,21.90 L226.24,21.90 L226.57,21.90 L226.89,21.90 L227.21,21.90 L227.54,21.90 L227.86,21.90 L228.18,21.90 L228.51,21.90 L228.83,21.90 L229.15,21.90 L229.48,21.90 L229.80,21.90 L230.12,21.90 L230.45,21.90 L230.77,21.90 L231.09,21.90 L231.42,21.90 L231.74,21.90 L232.06,21.90 L232.39,21.90 L232.71,21.90 L233.03,21.90 L233.36,21.90 L233.68,21.90 L234.00,21.90 L234.33,21.90 L234.65,21.90 L234.97,21.90 L235.30,21.90 L235.62,21.90 L235.94,21.90 L236.27,21.90 L236.59,21.90 L236.91,21.90 L237.24,21.90 L237.56,21.90 L237.88,21.90 L238.21,21.90 L238.53,21.90 L238.85,21.90 L239.18,21.90 L239.50,21.90 L239.82,21.90 L240.15,21.90 L240.47,21.90 L240.79,21.90 L241.12,21.90 L241.44,21.90 L241.76,21.90 L242.09,21.90 L242.41,21.90 L242.73,21.90 L243.06,21.90 L243.38,21.90 L243.70,21.90 L244.03,21.90 L244.35,21.90 L244.67,21.90 L245.00,21.90 L245.32,21.90 L245.64,21.90 L245.97,21.90 L246.29,21.90 L246.61,21.90 L246.94,21.90 L247.26,21.90 L247.58,21.90 L247.91,21.90 L248.23,21.90 L248.55,21.90 L248.88,21.90 L249.20,21.90 L249.52,21.90 L249.85,21.90 L250.17,21.90 L250.49,21.90 L250.82,21.90 L251.14,21.90 L251.46,21.90 L251.79,21.90 L252.11,21.90 L252.43,21.90 L252.76,21.90 L253.08,21.90 L253.40,21.90 L253.73,21.90 L254.05,21.90 L254.37,21.90 L254.70,21.90 L255.02,21.90 L255.34,21.90 L255.67,21.90 L255.99,21.90 L256.31,21.90 L256.64,21.90 L256.96,21.90 L257.28,21.90 L257.61,21.90 L257.93,21.90 L258.25,21.90 L258.58,21.90 L258.90,21.90" fill="none" stroke="#646568" stroke-width="3.1" stroke-linejoin="round"/>
<rect x="200" y="39.2" width="59.60000000000002" height="21" fill="#fff" stroke="#c4c4c4" stroke-width="0.7"/>
<path d="M200.70,49.90 L201.02,49.90 L201.35,49.90 L201.67,49.90 L201.99,49.90 L202.32,49.90 L202.64,49.90 L202.96,49.90 L203.29,49.90 L203.61,49.90 L203.93,49.90 L204.26,49.90 L204.58,49.90 L204.90,49.90 L205.23,49.90 L205.55,49.90 L205.87,49.90 L206.20,49.90 L206.52,49.90 L206.84,49.90 L207.17,49.90 L207.49,49.90 L207.81,49.90 L208.14,49.90 L208.46,49.90 L208.78,49.90 L209.11,49.90 L209.43,49.90 L209.75,49.90 L210.08,49.90 L210.40,49.90 L210.72,49.90 L211.05,49.90 L211.37,49.90 L211.69,49.90 L212.02,49.90 L212.34,49.90 L212.66,49.90 L212.99,49.90 L213.31,49.90 L213.63,49.90 L213.96,49.90 L214.28,49.90 L214.60,49.90 L214.93,49.90 L215.25,49.90 L215.57,49.90 L215.90,49.90 L216.22,49.90 L216.54,49.90 L216.87,49.90 L217.19,49.90 L217.51,49.90 L217.84,49.90 L218.16,49.90 L218.48,49.90 L218.81,49.90 L219.13,49.90 L219.45,49.90 L219.78,49.90 L220.10,49.90 L220.42,49.90 L220.75,49.90 L221.07,49.90 L221.39,49.90 L221.72,49.90 L222.04,49.90 L222.36,49.90 L222.69,49.90 L223.01,49.90 L223.33,49.90 L223.66,49.90 L223.98,49.91 L224.30,49.92 L224.63,49.94 L224.95,49.99 L225.27,50.08 L225.60,50.23 L225.92,50.47 L226.24,50.82 L226.57,51.27 L226.89,51.81 L227.21,52.39 L227.54,52.97 L227.86,53.47 L228.18,53.86 L228.51,54.09 L228.83,54.19 L229.15,54.19 L229.48,54.10 L229.80,53.87 L230.12,53.49 L230.45,53.00 L230.77,52.42 L231.09,51.84 L231.42,51.29 L231.74,50.84 L232.06,50.49 L232.39,50.24 L232.71,50.08 L233.03,49.99 L233.36,49.94 L233.68,49.92 L234.00,49.91 L234.33,49.90 L234.65,49.90 L234.97,49.90 L235.30,49.90 L235.62,49.90 L235.94,49.90 L236.27,49.90 L236.59,49.90 L236.91,49.90 L237.24,49.90 L237.56,49.90 L237.88,49.90 L238.21,49.90 L238.53,49.90 L238.85,49.90 L239.18,49.90 L239.50,49.90 L239.82,49.90 L240.15,49.90 L240.47,49.90 L240.79,49.90 L241.12,49.90 L241.44,49.90 L241.76,49.90 L242.09,49.90 L242.41,49.90 L242.73,49.90 L243.06,49.90 L243.38,49.90 L243.70,49.90 L244.03,49.90 L244.35,49.90 L244.67,49.90 L245.00,49.90 L245.32,49.90 L245.64,49.90 L245.97,49.90 L246.29,49.90 L246.61,49.90 L246.94,49.90 L247.26,49.90 L247.58,49.90 L247.91,49.90 L248.23,49.90 L248.55,49.90 L248.88,49.90 L249.20,49.90 L249.52,49.90 L249.85,49.90 L250.17,49.90 L250.49,49.90 L250.82,49.90 L251.14,49.90 L251.46,49.90 L251.79,49.90 L252.11,49.90 L252.43,49.90 L252.76,49.90 L253.08,49.90 L253.40,49.90 L253.73,49.90 L254.05,49.90 L254.37,49.90 L254.70,49.90 L255.02,49.90 L255.34,49.90 L255.67,49.90 L255.99,49.90 L256.31,49.90 L256.64,49.90 L256.96,49.90 L257.28,49.90 L257.61,49.90 L257.93,49.90 L258.25,49.90 L258.58,49.90 L258.90,49.90" fill="none" stroke="#646568" stroke-width="3.1" stroke-linejoin="round"/>
<rect x="200" y="67.3" width="59.60000000000002" height="21" fill="#fff" stroke="#c4c4c4" stroke-width="0.7"/>
<path d="M200.70,78.00 L201.02,78.00 L201.35,78.00 L201.67,78.00 L201.99,78.00 L202.32,78.00 L202.64,78.00 L202.96,78.00 L203.29,78.00 L203.61,78.00 L203.93,78.00 L204.26,78.00 L204.58,78.00 L204.90,78.00 L205.23,78.00 L205.55,78.00 L205.87,78.00 L206.20,78.00 L206.52,78.00 L206.84,78.00 L207.17,78.00 L207.49,78.00 L207.81,78.00 L208.14,78.00 L208.46,78.00 L208.78,78.00 L209.11,78.00 L209.43,78.00 L209.75,78.00 L210.08,78.00 L210.40,78.00 L210.72,78.00 L211.05,78.00 L211.37,78.00 L211.69,78.00 L212.02,78.00 L212.34,78.00 L212.66,78.00 L212.99,78.00 L213.31,78.00 L213.63,78.00 L213.96,78.00 L214.28,78.00 L214.60,78.00 L214.93,78.00 L215.25,78.00 L215.57,78.01 L215.90,78.01 L216.22,78.01 L216.54,78.01 L216.87,78.02 L217.19,78.03 L217.51,78.03 L217.84,78.05 L218.16,78.06 L218.48,78.08 L218.81,78.10 L219.13,78.13 L219.45,78.16 L219.78,78.20 L220.10,78.25 L220.42,78.30 L220.75,78.37 L221.07,78.45 L221.39,78.54 L221.72,78.65 L222.04,78.77 L222.36,78.90 L222.69,79.05 L223.01,79.22 L223.33,79.40 L223.66,79.60 L223.98,79.81 L224.30,80.03 L224.63,80.27 L224.95,80.51 L225.27,80.75 L225.60,81.00 L225.92,81.24 L226.24,81.47 L226.57,81.70 L226.89,81.90 L227.21,82.09 L227.54,82.25 L227.86,82.38 L228.18,82.49 L228.51,82.56 L228.83,82.60 L229.15,82.60 L229.48,82.56 L229.80,82.49 L230.12,82.39 L230.45,82.26 L230.77,82.10 L231.09,81.91 L231.42,81.71 L231.74,81.48 L232.06,81.25 L232.39,81.01 L232.71,80.76 L233.03,80.52 L233.36,80.28 L233.68,80.05 L234.00,79.82 L234.33,79.61 L234.65,79.41 L234.97,79.23 L235.30,79.06 L235.62,78.91 L235.94,78.77 L236.27,78.65 L236.59,78.55 L236.91,78.45 L237.24,78.37 L237.56,78.31 L237.88,78.25 L238.21,78.20 L238.53,78.16 L238.85,78.13 L239.18,78.10 L239.50,78.08 L239.82,78.06 L240.15,78.05 L240.47,78.04 L240.79,78.03 L241.12,78.02 L241.44,78.02 L241.76,78.01 L242.09,78.01 L242.41,78.01 L242.73,78.00 L243.06,78.00 L243.38,78.00 L243.70,78.00 L244.03,78.00 L244.35,78.00 L244.67,78.00 L245.00,78.00 L245.32,78.00 L245.64,78.00 L245.97,78.00 L246.29,78.00 L246.61,78.00 L246.94,78.00 L247.26,78.00 L247.58,78.00 L247.91,78.00 L248.23,78.00 L248.55,78.00 L248.88,78.00 L249.20,78.00 L249.52,78.00 L249.85,78.00 L250.17,78.00 L250.49,78.00 L250.82,78.00 L251.14,78.00 L251.46,78.00 L251.79,78.00 L252.11,78.00 L252.43,78.00 L252.76,78.00 L253.08,78.00 L253.40,78.00 L253.73,78.00 L254.05,78.00 L254.37,78.00 L254.70,78.00 L255.02,78.00 L255.34,78.00 L255.67,78.00 L255.99,78.00 L256.31,78.00 L256.64,78.00 L256.96,78.00 L257.28,78.00 L257.61,78.00 L257.93,78.00 L258.25,78.00 L258.58,78.00 L258.90,78.00" fill="none" stroke="#646568" stroke-width="3.1" stroke-linejoin="round"/>
<rect x="200" y="95.1" width="59.60000000000002" height="21" fill="#fff" stroke="#c4c4c4" stroke-width="0.7"/>
<path d="M200.70,105.80 L201.02,105.80 L201.35,105.80 L201.67,105.80 L201.99,105.80 L202.32,105.80 L202.64,105.80 L202.96,105.80 L203.29,105.80 L203.61,105.80 L203.93,105.80 L204.26,105.80 L204.58,105.80 L204.90,105.80 L205.23,105.81 L205.55,105.81 L205.87,105.81 L206.20,105.81 L206.52,105.81 L206.84,105.82 L207.17,105.82 L207.49,105.83 L207.81,105.83 L208.14,105.84 L208.46,105.85 L208.78,105.86 L209.11,105.87 L209.43,105.88 L209.75,105.90 L210.08,105.91 L210.40,105.93 L210.72,105.96 L211.05,105.98 L211.37,106.01 L211.69,106.04 L212.02,106.08 L212.34,106.12 L212.66,106.16 L212.99,106.21 L213.31,106.27 L213.63,106.33 L213.96,106.39 L214.28,106.46 L214.60,106.53 L214.93,106.61 L215.25,106.70 L215.57,106.79 L215.90,106.88 L216.22,106.98 L216.54,107.08 L216.87,107.19 L217.19,107.31 L217.51,107.42 L217.84,107.54 L218.16,107.67 L218.48,107.79 L218.81,107.92 L219.13,108.05 L219.45,108.18 L219.78,108.30 L220.10,108.43 L220.42,108.56 L220.75,108.68 L221.07,108.81 L221.39,108.93 L221.72,109.04 L222.04,109.16 L222.36,109.26 L222.69,109.37 L223.01,109.46 L223.33,109.55 L223.66,109.64 L223.98,109.72 L224.30,109.79 L224.63,109.86 L224.95,109.92 L225.27,109.97 L225.60,110.02 L225.92,110.06 L226.24,110.09 L226.57,110.12 L226.89,110.15 L227.21,110.17 L227.54,110.18 L227.86,110.19 L228.18,110.20 L228.51,110.20 L228.83,110.20 L229.15,110.20 L229.48,110.20 L229.80,110.20 L230.12,110.19 L230.45,110.18 L230.77,110.17 L231.09,110.15 L231.42,110.12 L231.74,110.10 L232.06,110.06 L232.39,110.02 L232.71,109.97 L233.03,109.92 L233.36,109.86 L233.68,109.79 L234.00,109.72 L234.33,109.64 L234.65,109.56 L234.97,109.47 L235.30,109.37 L235.62,109.27 L235.94,109.16 L236.27,109.05 L236.59,108.93 L236.91,108.81 L237.24,108.69 L237.56,108.57 L237.88,108.44 L238.21,108.31 L238.53,108.18 L238.85,108.05 L239.18,107.93 L239.50,107.80 L239.82,107.67 L240.15,107.55 L240.47,107.43 L240.79,107.31 L241.12,107.20 L241.44,107.09 L241.76,106.99 L242.09,106.89 L242.41,106.79 L242.73,106.70 L243.06,106.62 L243.38,106.54 L243.70,106.46 L244.03,106.39 L244.35,106.33 L244.67,106.27 L245.00,106.22 L245.32,106.17 L245.64,106.12 L245.97,106.08 L246.29,106.05 L246.61,106.01 L246.94,105.98 L247.26,105.96 L247.58,105.94 L247.91,105.92 L248.23,105.90 L248.55,105.88 L248.88,105.87 L249.20,105.86 L249.52,105.85 L249.85,105.84 L250.17,105.83 L250.49,105.83 L250.82,105.82 L251.14,105.82 L251.46,105.81 L251.79,105.81 L252.11,105.81 L252.43,105.81 L252.76,105.81 L253.08,105.80 L253.40,105.80 L253.73,105.80 L254.05,105.80 L254.37,105.80 L254.70,105.80 L255.02,105.80 L255.34,105.80 L255.67,105.80 L255.99,105.80 L256.31,105.80 L256.64,105.80 L256.96,105.80 L257.28,105.80 L257.61,105.80 L257.93,105.80 L258.25,105.80 L258.58,105.80 L258.90,105.80" fill="none" stroke="#646568" stroke-width="3.1" stroke-linejoin="round"/>
<rect x="200" y="132.4" width="59.60000000000002" height="21" fill="#fff" stroke="#c4c4c4" stroke-width="0.7"/>
<path d="M200.70,143.10 L201.02,143.10 L201.35,143.10 L201.67,143.10 L201.99,143.10 L202.32,143.10 L202.64,143.10 L202.96,143.10 L203.29,143.10 L203.61,143.10 L203.93,143.10 L204.26,143.10 L204.58,143.10 L204.90,143.10 L205.23,143.10 L205.55,143.10 L205.87,143.10 L206.20,143.10 L206.52,143.10 L206.84,143.10 L207.17,143.10 L207.49,143.10 L207.81,143.10 L208.14,143.10 L208.46,143.10 L208.78,143.10 L209.11,143.10 L209.43,143.10 L209.75,143.10 L210.08,143.10 L210.40,143.10 L210.72,143.10 L211.05,143.10 L211.37,143.10 L211.69,143.10 L212.02,143.10 L212.34,143.10 L212.66,143.10 L212.99,143.10 L213.31,143.10 L213.63,143.10 L213.96,143.10 L214.28,143.10 L214.60,143.10 L214.93,143.10 L215.25,143.10 L215.57,143.10 L215.90,143.10 L216.22,143.10 L216.54,143.10 L216.87,143.10 L217.19,143.10 L217.51,143.10 L217.84,143.10 L218.16,143.10 L218.48,143.10 L218.81,143.10 L219.13,143.10 L219.45,143.10 L219.78,143.10 L220.10,143.10 L220.42,143.10 L220.75,143.10 L221.07,143.10 L221.39,143.10 L221.72,143.10 L222.04,143.10 L222.36,143.10 L222.69,143.10 L223.01,143.10 L223.33,143.10 L223.66,143.10 L223.98,143.10 L224.30,143.10 L224.63,143.10 L224.95,143.10 L225.27,143.10 L225.60,143.10 L225.92,143.10 L226.24,143.10 L226.57,143.10 L226.89,143.10 L227.21,143.10 L227.54,143.10 L227.86,143.10 L228.18,143.10 L228.51,143.10 L228.83,143.10 L229.15,143.10 L229.48,143.10 L229.80,143.10 L230.12,143.10 L230.45,143.10 L230.77,143.10 L231.09,143.10 L231.42,143.10 L231.74,143.10 L232.06,143.10 L232.39,143.10 L232.71,143.10 L233.03,143.10 L233.36,143.10 L233.68,143.10 L234.00,143.10 L234.33,143.10 L234.65,143.10 L234.97,143.10 L235.30,143.10 L235.62,143.10 L235.94,143.10 L236.27,143.10 L236.59,143.10 L236.91,143.10 L237.24,143.10 L237.56,143.10 L237.88,143.10 L238.21,143.10 L238.53,143.10 L238.85,143.10 L239.18,143.10 L239.50,143.10 L239.82,143.10 L240.15,143.10 L240.47,143.10 L240.79,143.10 L241.12,143.10 L241.44,143.10 L241.76,143.10 L242.09,143.10 L242.41,143.10 L242.73,143.10 L243.06,143.10 L243.38,143.10 L243.70,143.10 L244.03,143.10 L244.35,143.10 L244.67,143.10 L245.00,143.10 L245.32,143.10 L245.64,143.10 L245.97,143.10 L246.29,143.10 L246.61,143.10 L246.94,143.10 L247.26,143.10 L247.58,143.10 L247.91,143.10 L248.23,143.10 L248.55,143.10 L248.88,143.10 L249.20,143.10 L249.52,143.10 L249.85,143.10 L250.17,143.10 L250.49,143.10 L250.82,143.10 L251.14,143.10 L251.46,143.10 L251.79,143.10 L252.11,143.10 L252.43,143.10 L252.76,143.10 L253.08,143.10 L253.40,143.10 L253.73,143.10 L254.05,143.10 L254.37,143.10 L254.70,143.10 L255.02,143.10 L255.34,143.10 L255.67,143.10 L255.99,143.10 L256.31,143.10 L256.64,143.10 L256.96,143.10 L257.28,143.10 L257.61,143.10 L257.93,143.10 L258.25,143.10 L258.58,143.10 L258.90,143.10" fill="none" stroke="#646568" stroke-width="3.1" stroke-linejoin="round"/>
<rect x="200" y="159.6" width="59.60000000000002" height="21" fill="#fff" stroke="#c4c4c4" stroke-width="0.7"/>
<path d="M200.70,170.30 L201.02,170.30 L201.35,170.30 L201.67,170.30 L201.99,170.30 L202.32,170.30 L202.64,170.30 L202.96,170.30 L203.29,170.30 L203.61,170.30 L203.93,170.30 L204.26,170.30 L204.58,170.30 L204.90,170.30 L205.23,170.30 L205.55,170.30 L205.87,170.30 L206.20,170.30 L206.52,170.30 L206.84,170.30 L207.17,170.30 L207.49,170.30 L207.81,170.30 L208.14,170.30 L208.46,170.30 L208.78,170.30 L209.11,170.30 L209.43,170.30 L209.75,170.30 L210.08,170.30 L210.40,170.30 L210.72,170.30 L211.05,170.30 L211.37,170.30 L211.69,170.30 L212.02,170.30 L212.34,170.30 L212.66,170.30 L212.99,170.30 L213.31,170.30 L213.63,170.30 L213.96,170.30 L214.28,170.30 L214.60,170.30 L214.93,170.30 L215.25,170.30 L215.57,170.30 L215.90,170.30 L216.22,170.30 L216.54,170.30 L216.87,170.30 L217.19,170.30 L217.51,170.30 L217.84,170.30 L218.16,170.30 L218.48,170.30 L218.81,170.30 L219.13,170.30 L219.45,170.30 L219.78,170.30 L220.10,170.30 L220.42,170.30 L220.75,170.30 L221.07,170.30 L221.39,170.30 L221.72,170.30 L222.04,170.30 L222.36,170.30 L222.69,170.30 L223.01,170.30 L223.33,170.30 L223.66,170.30 L223.98,170.31 L224.30,170.32 L224.63,170.34 L224.95,170.39 L225.27,170.48 L225.60,170.63 L225.92,170.87 L226.24,171.22 L226.57,171.67 L226.89,172.21 L227.21,172.79 L227.54,173.37 L227.86,173.87 L228.18,174.26 L228.51,174.49 L228.83,174.59 L229.15,174.59 L229.48,174.50 L229.80,174.27 L230.12,173.89 L230.45,173.40 L230.77,172.82 L231.09,172.24 L231.42,171.69 L231.74,171.24 L232.06,170.89 L232.39,170.64 L232.71,170.48 L233.03,170.39 L233.36,170.34 L233.68,170.32 L234.00,170.31 L234.33,170.30 L234.65,170.30 L234.97,170.30 L235.30,170.30 L235.62,170.30 L235.94,170.30 L236.27,170.30 L236.59,170.30 L236.91,170.30 L237.24,170.30 L237.56,170.30 L237.88,170.30 L238.21,170.30 L238.53,170.30 L238.85,170.30 L239.18,170.30 L239.50,170.30 L239.82,170.30 L240.15,170.30 L240.47,170.30 L240.79,170.30 L241.12,170.30 L241.44,170.30 L241.76,170.30 L242.09,170.30 L242.41,170.30 L242.73,170.30 L243.06,170.30 L243.38,170.30 L243.70,170.30 L244.03,170.30 L244.35,170.30 L244.67,170.30 L245.00,170.30 L245.32,170.30 L245.64,170.30 L245.97,170.30 L246.29,170.30 L246.61,170.30 L246.94,170.30 L247.26,170.30 L247.58,170.30 L247.91,170.30 L248.23,170.30 L248.55,170.30 L248.88,170.30 L249.20,170.30 L249.52,170.30 L249.85,170.30 L250.17,170.30 L250.49,170.30 L250.82,170.30 L251.14,170.30 L251.46,170.30 L251.79,170.30 L252.11,170.30 L252.43,170.30 L252.76,170.30 L253.08,170.30 L253.40,170.30 L253.73,170.30 L254.05,170.30 L254.37,170.30 L254.70,170.30 L255.02,170.30 L255.34,170.30 L255.67,170.30 L255.99,170.30 L256.31,170.30 L256.64,170.30 L256.96,170.30 L257.28,170.30 L257.61,170.30 L257.93,170.30 L258.25,170.30 L258.58,170.30 L258.90,170.30" fill="none" stroke="#646568" stroke-width="3.1" stroke-linejoin="round"/>
<rect x="228.3" y="119.7" width="1.4" height="1.4" fill="#111"/>
<rect x="228.3" y="122.5" width="1.4" height="1.4" fill="#111"/>
<rect x="228.3" y="125.3" width="1.4" height="1.4" fill="#111"/>
<rect x="228.3" y="183.10000000000002" width="1.4" height="1.4" fill="#111"/>
<rect x="228.3" y="185.8" width="1.4" height="1.4" fill="#111"/>
<rect x="228.3" y="188.5" width="1.4" height="1.4" fill="#111"/>
<path d="M194.6,24.2 L194.6,32.3 Q194.6,33.0 193.7,33.1 L174.8,35.15 Q173.6,35.4 174.8,35.65 L193.7,38.1 Q194.6,38.199999999999996 194.6,39.0  L194.6,153.3 Q194.6,154.0 193.7,154.1 L174.8,156.15 Q173.6,156.4 174.8,156.65 L193.7,159.1 Q194.6,159.20000000000002 194.6,160.0  L194.6,181.8" fill="none" stroke="#e8262a" stroke-width="1.15" stroke-linejoin="round"/>
<text x="191.2" y="96.3" font-size="9.0" text-anchor="middle" fill="#e8262a" font-weight="normal" font-style="normal" transform="rotate(-90 191.2 96.3)" >Pump pulse train</text>
<text x="180.6" y="176.2" font-size="8.5" text-anchor="start" fill="#000" font-weight="normal" font-style="italic" >t</text>
<line x1="188.6" y1="166.8" x2="188.6" y2="178" stroke="#222" stroke-width="1.0"/><path d="M188.6,181.8 L186.5,176.4 L190.7,176.4 Z" fill="#222"/>
</g>
<g id="pd">
<text x="284.6" y="9.9" font-size="11.8" text-anchor="start" fill="#000" font-weight="bold" font-style="normal" >d</text>
<clipPath id="cd"><rect x="310.4" y="7.4" width="117.10000000000002" height="174.7"/></clipPath>
<g clip-path="url(#cd)">
<path d="M309.62,23.48 L310.40,23.38 L311.18,23.27 L311.96,23.15 L312.74,23.04 L313.52,22.92 L314.30,22.80 L315.08,22.67 L315.86,22.54 L316.64,22.41 L317.42,22.27 L318.20,22.14 L318.98,22.00 L319.76,21.85 L320.54,21.70 L321.32,21.55 L322.10,21.40 L322.88,21.25 L323.66,21.09 L324.44,20.92 L325.22,20.76 L326.00,20.59 L326.78,20.42 L327.56,20.25 L328.34,20.08 L329.12,19.90 L329.90,19.72 L330.68,19.54 L331.46,19.35 L332.24,19.17 L333.02,18.98 L333.80,18.79 L334.58,18.60 L335.36,18.41 L336.14,18.22 L336.92,18.02 L337.70,17.83 L338.48,17.63 L339.26,17.44 L340.04,17.24 L340.82,17.05 L341.60,16.85 L342.38,16.65 L343.16,16.46 L343.94,16.27 L344.72,16.07 L345.50,15.88 L346.28,15.69 L347.06,15.51 L347.84,15.32 L348.62,15.14 L349.40,14.96 L350.18,14.78 L350.96,14.61 L351.74,14.44 L352.52,14.28 L353.30,14.12 L354.08,13.97 L354.86,13.82 L355.64,13.68 L356.42,13.54 L357.20,13.41 L357.98,13.29 L358.76,13.17 L359.54,13.06 L360.32,12.96 L361.10,12.87 L361.88,12.78 L362.66,12.71 L363.44,12.64 L364.22,12.58 L365.00,12.53 L365.78,12.49 L366.56,12.46 L367.34,12.44 L368.12,12.43 L368.90,12.43 L369.68,12.44 L370.46,12.45 L371.24,12.48 L372.02,12.52 L372.80,12.57 L373.58,12.62 L374.36,12.69 L375.14,12.76 L375.92,12.85 L376.70,12.94 L377.48,13.04 L378.26,13.15 L379.04,13.26 L379.82,13.39 L380.60,13.52 L381.38,13.66 L382.16,13.80 L382.94,13.95 L383.72,14.11 L384.50,14.27 L385.28,14.43 L386.06,14.60 L386.84,14.78 L387.62,14.96 L388.40,15.14 L389.18,15.33 L389.96,15.52 L390.74,15.71 L391.52,15.90 L392.30,16.10 L393.08,16.30 L393.86,16.50 L394.64,16.70 L395.42,16.90 L396.20,17.10 L396.98,17.31 L397.76,17.51 L398.54,17.71 L399.32,17.92 L400.10,18.12 L400.88,18.32 L401.66,18.52 L402.44,18.72 L403.22,18.92 L404.00,19.12 L404.78,19.32 L405.56,19.51 L406.34,19.71 L407.12,19.90 L407.90,20.08 L408.68,20.27 L409.46,20.46 L410.24,20.64 L411.02,20.82 L411.80,20.99 L412.58,21.17 L413.36,21.34 L414.14,21.51 L414.92,21.68 L415.70,21.84 L416.48,22.00 L417.26,22.16 L418.04,22.31 L418.82,22.46 L419.60,22.61 L420.38,22.76 L421.16,22.90 L421.94,23.04 L422.72,23.17 L423.50,23.31 L424.28,23.44 L425.06,23.56 L425.84,23.69 L426.62,23.81 L427.40,23.92 L428.18,24.04" fill="none" stroke="#232a6e" stroke-width="1.15"/>
<circle cx="311.57" cy="23.45" r="1.3" fill="#232a6e"/>
<circle cx="313.83" cy="22.39" r="1.3" fill="#232a6e"/>
<circle cx="316.09" cy="22.71" r="1.3" fill="#232a6e"/>
<circle cx="318.36" cy="22.40" r="1.3" fill="#232a6e"/>
<circle cx="320.62" cy="22.56" r="1.3" fill="#232a6e"/>
<circle cx="322.88" cy="21.44" r="1.3" fill="#232a6e"/>
<circle cx="325.14" cy="19.74" r="1.3" fill="#232a6e"/>
<circle cx="327.40" cy="19.89" r="1.3" fill="#232a6e"/>
<circle cx="329.67" cy="18.81" r="1.3" fill="#232a6e"/>
<circle cx="331.93" cy="19.01" r="1.3" fill="#232a6e"/>
<circle cx="334.19" cy="18.33" r="1.3" fill="#232a6e"/>
<circle cx="336.45" cy="17.97" r="1.3" fill="#232a6e"/>
<circle cx="338.71" cy="19.13" r="1.3" fill="#232a6e"/>
<circle cx="340.98" cy="16.21" r="1.3" fill="#232a6e"/>
<circle cx="343.24" cy="15.97" r="1.3" fill="#232a6e"/>
<circle cx="345.50" cy="15.42" r="1.3" fill="#232a6e"/>
<circle cx="347.76" cy="16.91" r="1.3" fill="#232a6e"/>
<circle cx="350.02" cy="16.44" r="1.3" fill="#232a6e"/>
<circle cx="352.29" cy="15.16" r="1.3" fill="#232a6e"/>
<circle cx="354.55" cy="14.31" r="1.3" fill="#232a6e"/>
<circle cx="356.81" cy="13.19" r="1.3" fill="#232a6e"/>
<circle cx="359.07" cy="13.17" r="1.3" fill="#232a6e"/>
<circle cx="361.33" cy="12.36" r="1.3" fill="#232a6e"/>
<circle cx="363.60" cy="13.22" r="1.3" fill="#232a6e"/>
<circle cx="365.86" cy="12.20" r="1.3" fill="#232a6e"/>
<circle cx="368.12" cy="12.06" r="1.3" fill="#232a6e"/>
<circle cx="370.38" cy="13.07" r="1.3" fill="#232a6e"/>
<circle cx="372.64" cy="10.96" r="1.3" fill="#232a6e"/>
<circle cx="374.91" cy="12.22" r="1.3" fill="#232a6e"/>
<circle cx="377.17" cy="11.88" r="1.3" fill="#232a6e"/>
<circle cx="379.43" cy="13.90" r="1.3" fill="#232a6e"/>
<circle cx="381.69" cy="14.40" r="1.3" fill="#232a6e"/>
<circle cx="383.95" cy="14.47" r="1.3" fill="#232a6e"/>
<circle cx="386.22" cy="14.74" r="1.3" fill="#232a6e"/>
<circle cx="388.48" cy="14.57" r="1.3" fill="#232a6e"/>
<circle cx="390.74" cy="15.48" r="1.3" fill="#232a6e"/>
<circle cx="393.00" cy="16.70" r="1.3" fill="#232a6e"/>
<circle cx="395.26" cy="17.75" r="1.3" fill="#232a6e"/>
<circle cx="397.53" cy="17.94" r="1.3" fill="#232a6e"/>
<circle cx="399.79" cy="16.90" r="1.3" fill="#232a6e"/>
<circle cx="402.05" cy="19.38" r="1.3" fill="#232a6e"/>
<circle cx="404.31" cy="18.97" r="1.3" fill="#232a6e"/>
<circle cx="406.57" cy="19.37" r="1.3" fill="#232a6e"/>
<circle cx="408.84" cy="21.70" r="1.3" fill="#232a6e"/>
<circle cx="411.10" cy="20.79" r="1.3" fill="#232a6e"/>
<circle cx="413.36" cy="20.13" r="1.3" fill="#232a6e"/>
<circle cx="415.62" cy="23.70" r="1.3" fill="#232a6e"/>
<circle cx="417.88" cy="22.58" r="1.3" fill="#232a6e"/>
<circle cx="420.15" cy="22.81" r="1.3" fill="#232a6e"/>
<circle cx="422.41" cy="23.88" r="1.3" fill="#232a6e"/>
<circle cx="424.67" cy="23.04" r="1.3" fill="#232a6e"/>
<circle cx="426.93" cy="23.91" r="1.3" fill="#232a6e"/>
<path d="M309.62,38.22 L310.40,38.16 L311.18,38.09 L311.96,38.02 L312.74,37.95 L313.52,37.87 L314.30,37.79 L315.08,37.70 L315.86,37.61 L316.64,37.51 L317.42,37.40 L318.20,37.29 L318.98,37.18 L319.76,37.06 L320.54,36.93 L321.32,36.79 L322.10,36.65 L322.88,36.50 L323.66,36.34 L324.44,36.18 L325.22,36.01 L326.00,35.83 L326.78,35.64 L327.56,35.44 L328.34,35.23 L329.12,35.02 L329.90,34.80 L330.68,34.56 L331.46,34.32 L332.24,34.07 L333.02,33.81 L333.80,33.54 L334.58,33.27 L335.36,32.98 L336.14,32.69 L336.92,32.38 L337.70,32.07 L338.48,31.75 L339.26,31.42 L340.04,31.09 L340.82,30.74 L341.60,30.39 L342.38,30.03 L343.16,29.67 L343.94,29.30 L344.72,28.92 L345.50,28.54 L346.28,28.16 L347.06,27.77 L347.84,27.38 L348.62,26.99 L349.40,26.60 L350.18,26.21 L350.96,25.82 L351.74,25.43 L352.52,25.05 L353.30,24.66 L354.08,24.29 L354.86,23.92 L355.64,23.56 L356.42,23.21 L357.20,22.87 L357.98,22.55 L358.76,22.24 L359.54,21.94 L360.32,21.66 L361.10,21.40 L361.88,21.16 L362.66,20.94 L363.44,20.74 L364.22,20.57 L365.00,20.42 L365.78,20.30 L366.56,20.21 L367.34,20.14 L368.12,20.10 L368.90,20.09 L369.68,20.11 L370.46,20.16 L371.24,20.23 L372.02,20.33 L372.80,20.46 L373.58,20.62 L374.36,20.80 L375.14,21.00 L375.92,21.23 L376.70,21.47 L377.48,21.74 L378.26,22.03 L379.04,22.33 L379.82,22.65 L380.60,22.98 L381.38,23.33 L382.16,23.69 L382.94,24.05 L383.72,24.43 L384.50,24.81 L385.28,25.20 L386.06,25.59 L386.84,25.99 L387.62,26.38 L388.40,26.78 L389.18,27.18 L389.96,27.58 L390.74,27.98 L391.52,28.37 L392.30,28.76 L393.08,29.15 L393.86,29.53 L394.64,29.91 L395.42,30.28 L396.20,30.65 L396.98,31.00 L397.76,31.36 L398.54,31.70 L399.32,32.04 L400.10,32.36 L400.88,32.68 L401.66,32.99 L402.44,33.30 L403.22,33.59 L404.00,33.87 L404.78,34.15 L405.56,34.42 L406.34,34.67 L407.12,34.92 L407.90,35.16 L408.68,35.39 L409.46,35.61 L410.24,35.83 L411.02,36.03 L411.80,36.23 L412.58,36.41 L413.36,36.59 L414.14,36.77 L414.92,36.93 L415.70,37.09 L416.48,37.24 L417.26,37.38 L418.04,37.52 L418.82,37.65 L419.60,37.77 L420.38,37.89 L421.16,38.00 L421.94,38.10 L422.72,38.20 L423.50,38.30 L424.28,38.39 L425.06,38.48 L425.84,38.56 L426.62,38.63 L427.40,38.71 L428.18,38.78" fill="none" stroke="#1b5ba8" stroke-width="1.15"/>
<circle cx="311.57" cy="39.42" r="1.3" fill="#1b5ba8"/>
<circle cx="313.83" cy="37.07" r="1.3" fill="#1b5ba8"/>
<circle cx="316.09" cy="36.96" r="1.3" fill="#1b5ba8"/>
<circle cx="318.36" cy="36.39" r="1.3" fill="#1b5ba8"/>
<circle cx="320.62" cy="35.57" r="1.3" fill="#1b5ba8"/>
<circle cx="322.88" cy="36.16" r="1.3" fill="#1b5ba8"/>
<circle cx="325.14" cy="35.91" r="1.3" fill="#1b5ba8"/>
<circle cx="327.40" cy="36.69" r="1.3" fill="#1b5ba8"/>
<circle cx="329.67" cy="34.29" r="1.3" fill="#1b5ba8"/>
<circle cx="331.93" cy="34.74" r="1.3" fill="#1b5ba8"/>
<circle cx="334.19" cy="33.83" r="1.3" fill="#1b5ba8"/>
<circle cx="336.45" cy="33.74" r="1.3" fill="#1b5ba8"/>
<circle cx="338.71" cy="32.55" r="1.3" fill="#1b5ba8"/>
<circle cx="340.98" cy="31.17" r="1.3" fill="#1b5ba8"/>
<circle cx="343.24" cy="28.43" r="1.3" fill="#1b5ba8"/>
<circle cx="345.50" cy="30.44" r="1.3" fill="#1b5ba8"/>
<circle cx="347.76" cy="28.78" r="1.3" fill="#1b5ba8"/>
<circle cx="350.02" cy="26.07" r="1.3" fill="#1b5ba8"/>
<circle cx="352.29" cy="23.82" r="1.3" fill="#1b5ba8"/>
<circle cx="354.55" cy="23.53" r="1.3" fill="#1b5ba8"/>
<circle cx="356.81" cy="24.81" r="1.3" fill="#1b5ba8"/>
<circle cx="359.07" cy="24.46" r="1.3" fill="#1b5ba8"/>
<circle cx="361.33" cy="20.99" r="1.3" fill="#1b5ba8"/>
<circle cx="363.60" cy="21.39" r="1.3" fill="#1b5ba8"/>
<circle cx="365.86" cy="21.33" r="1.3" fill="#1b5ba8"/>
<circle cx="368.12" cy="19.19" r="1.3" fill="#1b5ba8"/>
<circle cx="370.38" cy="19.13" r="1.3" fill="#1b5ba8"/>
<circle cx="372.64" cy="20.29" r="1.3" fill="#1b5ba8"/>
<circle cx="374.91" cy="20.71" r="1.3" fill="#1b5ba8"/>
<circle cx="377.17" cy="21.23" r="1.3" fill="#1b5ba8"/>
<circle cx="379.43" cy="21.00" r="1.3" fill="#1b5ba8"/>
<circle cx="381.69" cy="22.89" r="1.3" fill="#1b5ba8"/>
<circle cx="383.95" cy="24.06" r="1.3" fill="#1b5ba8"/>
<circle cx="386.22" cy="25.16" r="1.3" fill="#1b5ba8"/>
<circle cx="388.48" cy="28.28" r="1.3" fill="#1b5ba8"/>
<circle cx="390.74" cy="26.79" r="1.3" fill="#1b5ba8"/>
<circle cx="393.00" cy="28.22" r="1.3" fill="#1b5ba8"/>
<circle cx="395.26" cy="29.71" r="1.3" fill="#1b5ba8"/>
<circle cx="397.53" cy="33.09" r="1.3" fill="#1b5ba8"/>
<circle cx="399.79" cy="32.82" r="1.3" fill="#1b5ba8"/>
<circle cx="402.05" cy="32.36" r="1.3" fill="#1b5ba8"/>
<circle cx="404.31" cy="35.67" r="1.3" fill="#1b5ba8"/>
<circle cx="406.57" cy="34.92" r="1.3" fill="#1b5ba8"/>
<circle cx="408.84" cy="34.49" r="1.3" fill="#1b5ba8"/>
<circle cx="411.10" cy="37.27" r="1.3" fill="#1b5ba8"/>
<circle cx="413.36" cy="35.10" r="1.3" fill="#1b5ba8"/>
<circle cx="415.62" cy="36.56" r="1.3" fill="#1b5ba8"/>
<circle cx="417.88" cy="37.63" r="1.3" fill="#1b5ba8"/>
<circle cx="420.15" cy="37.55" r="1.3" fill="#1b5ba8"/>
<circle cx="422.41" cy="37.56" r="1.3" fill="#1b5ba8"/>
<circle cx="424.67" cy="38.32" r="1.3" fill="#1b5ba8"/>
<circle cx="426.93" cy="37.60" r="1.3" fill="#1b5ba8"/>
<path d="M309.62,52.95 L310.40,52.94 L311.18,52.93 L311.96,52.92 L312.74,52.91 L313.52,52.89 L314.30,52.88 L315.08,52.86 L315.86,52.85 L316.64,52.83 L317.42,52.81 L318.20,52.80 L318.98,52.78 L319.76,52.75 L320.54,52.73 L321.32,52.71 L322.10,52.68 L322.88,52.66 L323.66,52.63 L324.44,52.60 L325.22,52.57 L326.00,52.53 L326.78,52.49 L327.56,52.45 L328.34,52.41 L329.12,52.36 L329.90,52.30 L330.68,52.24 L331.46,52.18 L332.24,52.10 L333.02,52.02 L333.80,51.93 L334.58,51.83 L335.36,51.72 L336.14,51.60 L336.92,51.46 L337.70,51.30 L338.48,51.13 L339.26,50.94 L340.04,50.72 L340.82,50.49 L341.60,50.22 L342.38,49.93 L343.16,49.61 L343.94,49.26 L344.72,48.87 L345.50,48.45 L346.28,47.99 L347.06,47.49 L347.84,46.95 L348.62,46.36 L349.40,45.73 L350.18,45.06 L350.96,44.35 L351.74,43.59 L352.52,42.79 L353.30,41.95 L354.08,41.08 L354.86,40.17 L355.64,39.23 L356.42,38.27 L357.20,37.28 L357.98,36.28 L358.76,35.28 L359.54,34.28 L360.32,33.29 L361.10,32.32 L361.88,31.39 L362.66,30.51 L363.44,29.68 L364.22,28.93 L365.00,28.27 L365.78,27.71 L366.56,27.26 L367.34,26.93 L368.12,26.73 L368.90,26.66 L369.68,26.73 L370.46,26.94 L371.24,27.28 L372.02,27.74 L372.80,28.31 L373.58,28.98 L374.36,29.74 L375.14,30.57 L375.92,31.46 L376.70,32.40 L377.48,33.37 L378.26,34.37 L379.04,35.37 L379.82,36.39 L380.60,37.39 L381.38,38.38 L382.16,39.35 L382.94,40.30 L383.72,41.22 L384.50,42.10 L385.28,42.95 L386.06,43.75 L386.84,44.52 L387.62,45.24 L388.40,45.92 L389.18,46.55 L389.96,47.14 L390.74,47.69 L391.52,48.20 L392.30,48.67 L393.08,49.10 L393.86,49.49 L394.64,49.85 L395.42,50.18 L396.20,50.48 L396.98,50.75 L397.76,50.99 L398.54,51.22 L399.32,51.41 L400.10,51.59 L400.88,51.76 L401.66,51.90 L402.44,52.03 L403.22,52.15 L404.00,52.26 L404.78,52.36 L405.56,52.45 L406.34,52.53 L407.12,52.60 L407.90,52.67 L408.68,52.73 L409.46,52.79 L410.24,52.84 L411.02,52.89 L411.80,52.93 L412.58,52.98 L413.36,53.02 L414.14,53.05 L414.92,53.09 L415.70,53.12 L416.48,53.15 L417.26,53.19 L418.04,53.21 L418.82,53.24 L419.60,53.27 L420.38,53.30 L421.16,53.32 L421.94,53.34 L422.72,53.37 L423.50,53.39 L424.28,53.41 L425.06,53.43 L425.84,53.45 L426.62,53.47 L427.40,53.49 L428.18,53.51" fill="none" stroke="#2e82c5" stroke-width="1.15"/>
<circle cx="311.57" cy="53.54" r="1.3" fill="#2e82c5"/>
<circle cx="313.83" cy="53.27" r="1.3" fill="#2e82c5"/>
<circle cx="316.09" cy="51.87" r="1.3" fill="#2e82c5"/>
<circle cx="318.36" cy="52.77" r="1.3" fill="#2e82c5"/>
<circle cx="320.62" cy="53.55" r="1.3" fill="#2e82c5"/>
<circle cx="322.88" cy="51.78" r="1.3" fill="#2e82c5"/>
<circle cx="325.14" cy="51.21" r="1.3" fill="#2e82c5"/>
<circle cx="327.40" cy="52.87" r="1.3" fill="#2e82c5"/>
<circle cx="329.67" cy="53.60" r="1.3" fill="#2e82c5"/>
<circle cx="331.93" cy="52.26" r="1.3" fill="#2e82c5"/>
<circle cx="334.19" cy="52.02" r="1.3" fill="#2e82c5"/>
<circle cx="336.45" cy="51.82" r="1.3" fill="#2e82c5"/>
<circle cx="338.71" cy="49.77" r="1.3" fill="#2e82c5"/>
<circle cx="340.98" cy="51.39" r="1.3" fill="#2e82c5"/>
<circle cx="343.24" cy="48.41" r="1.3" fill="#2e82c5"/>
<circle cx="345.50" cy="49.63" r="1.3" fill="#2e82c5"/>
<circle cx="347.76" cy="47.73" r="1.3" fill="#2e82c5"/>
<circle cx="350.02" cy="44.61" r="1.3" fill="#2e82c5"/>
<circle cx="352.29" cy="41.99" r="1.3" fill="#2e82c5"/>
<circle cx="354.55" cy="39.74" r="1.3" fill="#2e82c5"/>
<circle cx="356.81" cy="37.45" r="1.3" fill="#2e82c5"/>
<circle cx="359.07" cy="34.75" r="1.3" fill="#2e82c5"/>
<circle cx="361.33" cy="31.90" r="1.3" fill="#2e82c5"/>
<circle cx="363.60" cy="28.99" r="1.3" fill="#2e82c5"/>
<circle cx="365.86" cy="27.82" r="1.3" fill="#2e82c5"/>
<circle cx="368.12" cy="26.47" r="1.3" fill="#2e82c5"/>
<circle cx="370.38" cy="26.38" r="1.3" fill="#2e82c5"/>
<circle cx="372.64" cy="28.18" r="1.3" fill="#2e82c5"/>
<circle cx="374.91" cy="29.60" r="1.3" fill="#2e82c5"/>
<circle cx="377.17" cy="32.45" r="1.3" fill="#2e82c5"/>
<circle cx="379.43" cy="34.01" r="1.3" fill="#2e82c5"/>
<circle cx="381.69" cy="38.47" r="1.3" fill="#2e82c5"/>
<circle cx="383.95" cy="41.88" r="1.3" fill="#2e82c5"/>
<circle cx="386.22" cy="44.25" r="1.3" fill="#2e82c5"/>
<circle cx="388.48" cy="45.99" r="1.3" fill="#2e82c5"/>
<circle cx="390.74" cy="46.83" r="1.3" fill="#2e82c5"/>
<circle cx="393.00" cy="49.37" r="1.3" fill="#2e82c5"/>
<circle cx="395.26" cy="49.76" r="1.3" fill="#2e82c5"/>
<circle cx="397.53" cy="49.21" r="1.3" fill="#2e82c5"/>
<circle cx="399.79" cy="53.91" r="1.3" fill="#2e82c5"/>
<circle cx="402.05" cy="53.02" r="1.3" fill="#2e82c5"/>
<circle cx="404.31" cy="52.07" r="1.3" fill="#2e82c5"/>
<circle cx="406.57" cy="52.18" r="1.3" fill="#2e82c5"/>
<circle cx="408.84" cy="52.52" r="1.3" fill="#2e82c5"/>
<circle cx="411.10" cy="53.29" r="1.3" fill="#2e82c5"/>
<circle cx="413.36" cy="52.41" r="1.3" fill="#2e82c5"/>
<circle cx="415.62" cy="52.86" r="1.3" fill="#2e82c5"/>
<circle cx="417.88" cy="53.69" r="1.3" fill="#2e82c5"/>
<circle cx="420.15" cy="51.03" r="1.3" fill="#2e82c5"/>
<circle cx="422.41" cy="53.03" r="1.3" fill="#2e82c5"/>
<circle cx="424.67" cy="53.94" r="1.3" fill="#2e82c5"/>
<circle cx="426.93" cy="53.57" r="1.3" fill="#2e82c5"/>
<path d="M309.62,67.18 L310.40,67.18 L311.18,67.17 L311.96,67.16 L312.74,67.16 L313.52,67.15 L314.30,67.14 L315.08,67.13 L315.86,67.12 L316.64,67.11 L317.42,67.10 L318.20,67.10 L318.98,67.08 L319.76,67.07 L320.54,67.06 L321.32,67.05 L322.10,67.04 L322.88,67.03 L323.66,67.01 L324.44,67.00 L325.22,66.98 L326.00,66.97 L326.78,66.95 L327.56,66.93 L328.34,66.91 L329.12,66.89 L329.90,66.87 L330.68,66.85 L331.46,66.83 L332.24,66.80 L333.02,66.78 L333.80,66.75 L334.58,66.72 L335.36,66.69 L336.14,66.65 L336.92,66.62 L337.70,66.58 L338.48,66.54 L339.26,66.49 L340.04,66.44 L340.82,66.39 L341.60,66.32 L342.38,66.26 L343.16,66.18 L343.94,66.10 L344.72,66.00 L345.50,65.89 L346.28,65.76 L347.06,65.61 L347.84,65.42 L348.62,65.21 L349.40,64.96 L350.18,64.65 L350.96,64.29 L351.74,63.87 L352.52,63.36 L353.30,62.77 L354.08,62.08 L354.86,61.28 L355.64,60.37 L356.42,59.33 L357.20,58.17 L357.98,56.87 L358.76,55.45 L359.54,53.90 L360.32,52.25 L361.10,50.51 L361.88,48.70 L362.66,46.86 L363.44,45.03 L364.22,43.25 L365.00,41.58 L365.78,40.08 L366.56,38.82 L367.34,37.87 L368.12,37.27 L368.90,37.07 L369.68,37.27 L370.46,37.87 L371.24,38.82 L372.02,40.08 L372.80,41.58 L373.58,43.25 L374.36,45.03 L375.14,46.86 L375.92,48.70 L376.70,50.51 L377.48,52.25 L378.26,53.90 L379.04,55.45 L379.82,56.87 L380.60,58.17 L381.38,59.33 L382.16,60.37 L382.94,61.28 L383.72,62.08 L384.50,62.77 L385.28,63.36 L386.06,63.87 L386.84,64.29 L387.62,64.65 L388.40,64.96 L389.18,65.21 L389.96,65.42 L390.74,65.61 L391.52,65.76 L392.30,65.89 L393.08,66.00 L393.86,66.10 L394.64,66.18 L395.42,66.26 L396.20,66.32 L396.98,66.39 L397.76,66.44 L398.54,66.49 L399.32,66.54 L400.10,66.58 L400.88,66.62 L401.66,66.65 L402.44,66.69 L403.22,66.72 L404.00,66.75 L404.78,66.78 L405.56,66.80 L406.34,66.83 L407.12,66.85 L407.90,66.87 L408.68,66.89 L409.46,66.91 L410.24,66.93 L411.02,66.95 L411.80,66.97 L412.58,66.98 L413.36,67.00 L414.14,67.01 L414.92,67.03 L415.70,67.04 L416.48,67.05 L417.26,67.06 L418.04,67.07 L418.82,67.08 L419.60,67.10 L420.38,67.10 L421.16,67.11 L421.94,67.12 L422.72,67.13 L423.50,67.14 L424.28,67.15 L425.06,67.16 L425.84,67.16 L426.62,67.17 L427.40,67.18 L428.18,67.18" fill="none" stroke="#56a2d8" stroke-width="1.15"/>
<circle cx="311.57" cy="67.38" r="1.3" fill="#56a2d8"/>
<circle cx="313.83" cy="67.20" r="1.3" fill="#56a2d8"/>
<circle cx="316.09" cy="69.66" r="1.3" fill="#56a2d8"/>
<circle cx="318.36" cy="67.55" r="1.3" fill="#56a2d8"/>
<circle cx="320.62" cy="66.12" r="1.3" fill="#56a2d8"/>
<circle cx="322.88" cy="68.11" r="1.3" fill="#56a2d8"/>
<circle cx="325.14" cy="67.05" r="1.3" fill="#56a2d8"/>
<circle cx="327.40" cy="66.05" r="1.3" fill="#56a2d8"/>
<circle cx="329.67" cy="66.08" r="1.3" fill="#56a2d8"/>
<circle cx="331.93" cy="65.42" r="1.3" fill="#56a2d8"/>
<circle cx="334.19" cy="68.32" r="1.3" fill="#56a2d8"/>
<circle cx="336.45" cy="66.97" r="1.3" fill="#56a2d8"/>
<circle cx="338.71" cy="66.84" r="1.3" fill="#56a2d8"/>
<circle cx="340.98" cy="65.79" r="1.3" fill="#56a2d8"/>
<circle cx="343.24" cy="65.16" r="1.3" fill="#56a2d8"/>
<circle cx="345.50" cy="68.39" r="1.3" fill="#56a2d8"/>
<circle cx="347.76" cy="64.43" r="1.3" fill="#56a2d8"/>
<circle cx="350.02" cy="66.06" r="1.3" fill="#56a2d8"/>
<circle cx="352.29" cy="62.89" r="1.3" fill="#56a2d8"/>
<circle cx="354.55" cy="63.00" r="1.3" fill="#56a2d8"/>
<circle cx="356.81" cy="58.60" r="1.3" fill="#56a2d8"/>
<circle cx="359.07" cy="53.73" r="1.3" fill="#56a2d8"/>
<circle cx="361.33" cy="50.11" r="1.3" fill="#56a2d8"/>
<circle cx="363.60" cy="44.49" r="1.3" fill="#56a2d8"/>
<circle cx="365.86" cy="39.20" r="1.3" fill="#56a2d8"/>
<circle cx="368.12" cy="37.14" r="1.3" fill="#56a2d8"/>
<circle cx="370.38" cy="37.87" r="1.3" fill="#56a2d8"/>
<circle cx="372.64" cy="39.83" r="1.3" fill="#56a2d8"/>
<circle cx="374.91" cy="45.33" r="1.3" fill="#56a2d8"/>
<circle cx="377.17" cy="51.84" r="1.3" fill="#56a2d8"/>
<circle cx="379.43" cy="53.62" r="1.3" fill="#56a2d8"/>
<circle cx="381.69" cy="60.83" r="1.3" fill="#56a2d8"/>
<circle cx="383.95" cy="61.45" r="1.3" fill="#56a2d8"/>
<circle cx="386.22" cy="64.20" r="1.3" fill="#56a2d8"/>
<circle cx="388.48" cy="64.86" r="1.3" fill="#56a2d8"/>
<circle cx="390.74" cy="64.95" r="1.3" fill="#56a2d8"/>
<circle cx="393.00" cy="65.78" r="1.3" fill="#56a2d8"/>
<circle cx="395.26" cy="65.65" r="1.3" fill="#56a2d8"/>
<circle cx="397.53" cy="67.85" r="1.3" fill="#56a2d8"/>
<circle cx="399.79" cy="67.97" r="1.3" fill="#56a2d8"/>
<circle cx="402.05" cy="66.10" r="1.3" fill="#56a2d8"/>
<circle cx="404.31" cy="67.66" r="1.3" fill="#56a2d8"/>
<circle cx="406.57" cy="67.79" r="1.3" fill="#56a2d8"/>
<circle cx="408.84" cy="68.27" r="1.3" fill="#56a2d8"/>
<circle cx="411.10" cy="65.77" r="1.3" fill="#56a2d8"/>
<circle cx="413.36" cy="66.30" r="1.3" fill="#56a2d8"/>
<circle cx="415.62" cy="65.67" r="1.3" fill="#56a2d8"/>
<circle cx="417.88" cy="67.94" r="1.3" fill="#56a2d8"/>
<circle cx="420.15" cy="67.10" r="1.3" fill="#56a2d8"/>
<circle cx="422.41" cy="68.19" r="1.3" fill="#56a2d8"/>
<circle cx="424.67" cy="66.44" r="1.3" fill="#56a2d8"/>
<circle cx="426.93" cy="65.69" r="1.3" fill="#56a2d8"/>
<path d="M309.62,79.77 L310.40,79.77 L311.18,79.77 L311.96,79.76 L312.74,79.76 L313.52,79.76 L314.30,79.75 L315.08,79.75 L315.86,79.75 L316.64,79.74 L317.42,79.74 L318.20,79.74 L318.98,79.73 L319.76,79.73 L320.54,79.72 L321.32,79.72 L322.10,79.71 L322.88,79.71 L323.66,79.70 L324.44,79.69 L325.22,79.69 L326.00,79.68 L326.78,79.67 L327.56,79.67 L328.34,79.66 L329.12,79.65 L329.90,79.64 L330.68,79.63 L331.46,79.62 L332.24,79.61 L333.02,79.60 L333.80,79.59 L334.58,79.57 L335.36,79.56 L336.14,79.55 L336.92,79.53 L337.70,79.51 L338.48,79.49 L339.26,79.47 L340.04,79.45 L340.82,79.43 L341.60,79.41 L342.38,79.38 L343.16,79.35 L343.94,79.32 L344.72,79.29 L345.50,79.25 L346.28,79.21 L347.06,79.16 L347.84,79.11 L348.62,79.05 L349.40,78.98 L350.18,78.90 L350.96,78.81 L351.74,78.70 L352.52,78.56 L353.30,78.39 L354.08,78.17 L354.86,77.89 L355.64,77.54 L356.42,77.10 L357.20,76.54 L357.98,75.85 L358.76,75.00 L359.54,73.98 L360.32,72.78 L361.10,71.38 L361.88,69.80 L362.66,68.05 L363.44,66.17 L364.22,64.21 L365.00,62.25 L365.78,60.38 L366.56,58.71 L367.34,57.39 L368.12,56.53 L368.90,56.23 L369.68,56.53 L370.46,57.39 L371.24,58.71 L372.02,60.38 L372.80,62.25 L373.58,64.21 L374.36,66.17 L375.14,68.05 L375.92,69.80 L376.70,71.38 L377.48,72.78 L378.26,73.98 L379.04,75.00 L379.82,75.85 L380.60,76.54 L381.38,77.10 L382.16,77.54 L382.94,77.89 L383.72,78.17 L384.50,78.39 L385.28,78.56 L386.06,78.70 L386.84,78.81 L387.62,78.90 L388.40,78.98 L389.18,79.05 L389.96,79.11 L390.74,79.16 L391.52,79.21 L392.30,79.25 L393.08,79.29 L393.86,79.32 L394.64,79.35 L395.42,79.38 L396.20,79.41 L396.98,79.43 L397.76,79.45 L398.54,79.47 L399.32,79.49 L400.10,79.51 L400.88,79.53 L401.66,79.55 L402.44,79.56 L403.22,79.57 L404.00,79.59 L404.78,79.60 L405.56,79.61 L406.34,79.62 L407.12,79.63 L407.90,79.64 L408.68,79.65 L409.46,79.66 L410.24,79.67 L411.02,79.67 L411.80,79.68 L412.58,79.69 L413.36,79.69 L414.14,79.70 L414.92,79.71 L415.70,79.71 L416.48,79.72 L417.26,79.72 L418.04,79.73 L418.82,79.73 L419.60,79.74 L420.38,79.74 L421.16,79.74 L421.94,79.75 L422.72,79.75 L423.50,79.75 L424.28,79.76 L425.06,79.76 L425.84,79.76 L426.62,79.77 L427.40,79.77 L428.18,79.77" fill="none" stroke="#92c4e8" stroke-width="1.15"/>
<circle cx="311.57" cy="80.59" r="1.3" fill="#92c4e8"/>
<circle cx="313.83" cy="78.30" r="1.3" fill="#92c4e8"/>
<circle cx="316.09" cy="78.83" r="1.3" fill="#92c4e8"/>
<circle cx="318.36" cy="79.90" r="1.3" fill="#92c4e8"/>
<circle cx="320.62" cy="81.56" r="1.3" fill="#92c4e8"/>
<circle cx="322.88" cy="78.40" r="1.3" fill="#92c4e8"/>
<circle cx="325.14" cy="79.78" r="1.3" fill="#92c4e8"/>
<circle cx="327.40" cy="80.23" r="1.3" fill="#92c4e8"/>
<circle cx="329.67" cy="79.27" r="1.3" fill="#92c4e8"/>
<circle cx="331.93" cy="79.23" r="1.3" fill="#92c4e8"/>
<circle cx="334.19" cy="78.19" r="1.3" fill="#92c4e8"/>
<circle cx="336.45" cy="80.49" r="1.3" fill="#92c4e8"/>
<circle cx="338.71" cy="78.43" r="1.3" fill="#92c4e8"/>
<circle cx="340.98" cy="78.04" r="1.3" fill="#92c4e8"/>
<circle cx="343.24" cy="78.00" r="1.3" fill="#92c4e8"/>
<circle cx="345.50" cy="79.42" r="1.3" fill="#92c4e8"/>
<circle cx="347.76" cy="79.81" r="1.3" fill="#92c4e8"/>
<circle cx="350.02" cy="77.97" r="1.3" fill="#92c4e8"/>
<circle cx="352.29" cy="78.50" r="1.3" fill="#92c4e8"/>
<circle cx="354.55" cy="77.89" r="1.3" fill="#92c4e8"/>
<circle cx="356.81" cy="75.51" r="1.3" fill="#92c4e8"/>
<circle cx="359.07" cy="74.86" r="1.3" fill="#92c4e8"/>
<circle cx="361.33" cy="73.06" r="1.3" fill="#92c4e8"/>
<circle cx="363.60" cy="66.15" r="1.3" fill="#92c4e8"/>
<circle cx="365.86" cy="61.92" r="1.3" fill="#92c4e8"/>
<circle cx="368.12" cy="55.76" r="1.3" fill="#92c4e8"/>
<circle cx="370.38" cy="56.98" r="1.3" fill="#92c4e8"/>
<circle cx="372.64" cy="62.43" r="1.3" fill="#92c4e8"/>
<circle cx="374.91" cy="67.51" r="1.3" fill="#92c4e8"/>
<circle cx="377.17" cy="71.47" r="1.3" fill="#92c4e8"/>
<circle cx="379.43" cy="75.37" r="1.3" fill="#92c4e8"/>
<circle cx="381.69" cy="76.05" r="1.3" fill="#92c4e8"/>
<circle cx="383.95" cy="78.30" r="1.3" fill="#92c4e8"/>
<circle cx="386.22" cy="77.75" r="1.3" fill="#92c4e8"/>
<circle cx="388.48" cy="77.60" r="1.3" fill="#92c4e8"/>
<circle cx="390.74" cy="77.66" r="1.3" fill="#92c4e8"/>
<circle cx="393.00" cy="79.91" r="1.3" fill="#92c4e8"/>
<circle cx="395.26" cy="78.56" r="1.3" fill="#92c4e8"/>
<circle cx="397.53" cy="81.19" r="1.3" fill="#92c4e8"/>
<circle cx="399.79" cy="80.51" r="1.3" fill="#92c4e8"/>
<circle cx="402.05" cy="81.38" r="1.3" fill="#92c4e8"/>
<circle cx="404.31" cy="78.60" r="1.3" fill="#92c4e8"/>
<circle cx="406.57" cy="80.77" r="1.3" fill="#92c4e8"/>
<circle cx="408.84" cy="79.66" r="1.3" fill="#92c4e8"/>
<circle cx="411.10" cy="79.85" r="1.3" fill="#92c4e8"/>
<circle cx="413.36" cy="79.72" r="1.3" fill="#92c4e8"/>
<circle cx="415.62" cy="80.26" r="1.3" fill="#92c4e8"/>
<circle cx="417.88" cy="79.51" r="1.3" fill="#92c4e8"/>
<circle cx="420.15" cy="78.07" r="1.3" fill="#92c4e8"/>
<circle cx="422.41" cy="79.71" r="1.3" fill="#92c4e8"/>
<circle cx="424.67" cy="79.27" r="1.3" fill="#92c4e8"/>
<circle cx="426.93" cy="78.84" r="1.3" fill="#92c4e8"/>
<path d="M309.62,93.46 L310.40,93.46 L311.18,93.46 L311.96,93.45 L312.74,93.45 L313.52,93.45 L314.30,93.45 L315.08,93.45 L315.86,93.45 L316.64,93.44 L317.42,93.44 L318.20,93.44 L318.98,93.44 L319.76,93.43 L320.54,93.43 L321.32,93.43 L322.10,93.43 L322.88,93.42 L323.66,93.42 L324.44,93.42 L325.22,93.41 L326.00,93.41 L326.78,93.41 L327.56,93.40 L328.34,93.40 L329.12,93.39 L329.90,93.39 L330.68,93.38 L331.46,93.38 L332.24,93.37 L333.02,93.37 L333.80,93.36 L334.58,93.35 L335.36,93.35 L336.14,93.34 L336.92,93.33 L337.70,93.32 L338.48,93.31 L339.26,93.30 L340.04,93.29 L340.82,93.28 L341.60,93.27 L342.38,93.25 L343.16,93.24 L343.94,93.22 L344.72,93.20 L345.50,93.19 L346.28,93.16 L347.06,93.14 L347.84,93.11 L348.62,93.08 L349.40,93.04 L350.18,93.00 L350.96,92.94 L351.74,92.88 L352.52,92.80 L353.30,92.70 L354.08,92.57 L354.86,92.42 L355.64,92.22 L356.42,91.98 L357.20,91.68 L357.98,91.32 L358.76,90.89 L359.54,90.38 L360.32,89.80 L361.10,89.14 L361.88,88.40 L362.66,87.61 L363.44,86.76 L364.22,85.90 L365.00,85.05 L365.78,84.25 L366.56,83.54 L367.34,82.99 L368.12,82.63 L368.90,82.51 L369.68,82.63 L370.46,82.99 L371.24,83.54 L372.02,84.25 L372.80,85.05 L373.58,85.90 L374.36,86.76 L375.14,87.61 L375.92,88.40 L376.70,89.14 L377.48,89.80 L378.26,90.38 L379.04,90.89 L379.82,91.32 L380.60,91.68 L381.38,91.98 L382.16,92.22 L382.94,92.42 L383.72,92.57 L384.50,92.70 L385.28,92.80 L386.06,92.88 L386.84,92.94 L387.62,93.00 L388.40,93.04 L389.18,93.08 L389.96,93.11 L390.74,93.14 L391.52,93.16 L392.30,93.19 L393.08,93.20 L393.86,93.22 L394.64,93.24 L395.42,93.25 L396.20,93.27 L396.98,93.28 L397.76,93.29 L398.54,93.30 L399.32,93.31 L400.10,93.32 L400.88,93.33 L401.66,93.34 L402.44,93.35 L403.22,93.35 L404.00,93.36 L404.78,93.37 L405.56,93.37 L406.34,93.38 L407.12,93.38 L407.90,93.39 L408.68,93.39 L409.46,93.40 L410.24,93.40 L411.02,93.41 L411.80,93.41 L412.58,93.41 L413.36,93.42 L414.14,93.42 L414.92,93.42 L415.70,93.43 L416.48,93.43 L417.26,93.43 L418.04,93.43 L418.82,93.44 L419.60,93.44 L420.38,93.44 L421.16,93.44 L421.94,93.45 L422.72,93.45 L423.50,93.45 L424.28,93.45 L425.06,93.45 L425.84,93.45 L426.62,93.46 L427.40,93.46 L428.18,93.46" fill="none" stroke="#c9e0f3" stroke-width="1.15"/>
<circle cx="311.57" cy="93.64" r="1.3" fill="#c9e0f3"/>
<circle cx="313.83" cy="94.62" r="1.3" fill="#c9e0f3"/>
<circle cx="316.09" cy="93.96" r="1.3" fill="#c9e0f3"/>
<circle cx="318.36" cy="92.44" r="1.3" fill="#c9e0f3"/>
<circle cx="320.62" cy="94.96" r="1.3" fill="#c9e0f3"/>
<circle cx="322.88" cy="93.98" r="1.3" fill="#c9e0f3"/>
<circle cx="325.14" cy="92.48" r="1.3" fill="#c9e0f3"/>
<circle cx="327.40" cy="92.67" r="1.3" fill="#c9e0f3"/>
<circle cx="329.67" cy="93.38" r="1.3" fill="#c9e0f3"/>
<circle cx="331.93" cy="92.63" r="1.3" fill="#c9e0f3"/>
<circle cx="334.19" cy="93.20" r="1.3" fill="#c9e0f3"/>
<circle cx="336.45" cy="94.43" r="1.3" fill="#c9e0f3"/>
<circle cx="338.71" cy="94.77" r="1.3" fill="#c9e0f3"/>
<circle cx="340.98" cy="93.87" r="1.3" fill="#c9e0f3"/>
<circle cx="343.24" cy="92.38" r="1.3" fill="#c9e0f3"/>
<circle cx="345.50" cy="93.71" r="1.3" fill="#c9e0f3"/>
<circle cx="347.76" cy="93.95" r="1.3" fill="#c9e0f3"/>
<circle cx="350.02" cy="93.72" r="1.3" fill="#c9e0f3"/>
<circle cx="352.29" cy="94.25" r="1.3" fill="#c9e0f3"/>
<circle cx="354.55" cy="92.59" r="1.3" fill="#c9e0f3"/>
<circle cx="356.81" cy="92.93" r="1.3" fill="#c9e0f3"/>
<circle cx="359.07" cy="90.36" r="1.3" fill="#c9e0f3"/>
<circle cx="361.33" cy="91.12" r="1.3" fill="#c9e0f3"/>
<circle cx="363.60" cy="86.29" r="1.3" fill="#c9e0f3"/>
<circle cx="365.86" cy="84.77" r="1.3" fill="#c9e0f3"/>
<circle cx="368.12" cy="84.44" r="1.3" fill="#c9e0f3"/>
<circle cx="370.38" cy="82.27" r="1.3" fill="#c9e0f3"/>
<circle cx="372.64" cy="85.14" r="1.3" fill="#c9e0f3"/>
<circle cx="374.91" cy="89.43" r="1.3" fill="#c9e0f3"/>
<circle cx="377.17" cy="90.36" r="1.3" fill="#c9e0f3"/>
<circle cx="379.43" cy="90.84" r="1.3" fill="#c9e0f3"/>
<circle cx="381.69" cy="92.51" r="1.3" fill="#c9e0f3"/>
<circle cx="383.95" cy="91.89" r="1.3" fill="#c9e0f3"/>
<circle cx="386.22" cy="92.20" r="1.3" fill="#c9e0f3"/>
<circle cx="388.48" cy="92.42" r="1.3" fill="#c9e0f3"/>
<circle cx="390.74" cy="92.83" r="1.3" fill="#c9e0f3"/>
<circle cx="393.00" cy="91.96" r="1.3" fill="#c9e0f3"/>
<circle cx="395.26" cy="92.64" r="1.3" fill="#c9e0f3"/>
<circle cx="397.53" cy="92.87" r="1.3" fill="#c9e0f3"/>
<circle cx="399.79" cy="95.26" r="1.3" fill="#c9e0f3"/>
<circle cx="402.05" cy="92.51" r="1.3" fill="#c9e0f3"/>
<circle cx="404.31" cy="92.15" r="1.3" fill="#c9e0f3"/>
<circle cx="406.57" cy="93.66" r="1.3" fill="#c9e0f3"/>
<circle cx="408.84" cy="93.83" r="1.3" fill="#c9e0f3"/>
<circle cx="411.10" cy="91.60" r="1.3" fill="#c9e0f3"/>
<circle cx="413.36" cy="95.05" r="1.3" fill="#c9e0f3"/>
<circle cx="415.62" cy="92.99" r="1.3" fill="#c9e0f3"/>
<circle cx="417.88" cy="91.18" r="1.3" fill="#c9e0f3"/>
<circle cx="420.15" cy="94.30" r="1.3" fill="#c9e0f3"/>
<circle cx="422.41" cy="92.80" r="1.3" fill="#c9e0f3"/>
<circle cx="424.67" cy="91.70" r="1.3" fill="#c9e0f3"/>
<circle cx="426.93" cy="93.57" r="1.3" fill="#c9e0f3"/>
<path d="M309.62,95.65 L310.40,95.65 L311.18,95.65 L311.96,95.65 L312.74,95.65 L313.52,95.65 L314.30,95.65 L315.08,95.66 L315.86,95.66 L316.64,95.66 L317.42,95.66 L318.20,95.66 L318.98,95.67 L319.76,95.67 L320.54,95.67 L321.32,95.67 L322.10,95.68 L322.88,95.68 L323.66,95.68 L324.44,95.68 L325.22,95.69 L326.00,95.69 L326.78,95.69 L327.56,95.70 L328.34,95.70 L329.12,95.70 L329.90,95.71 L330.68,95.71 L331.46,95.72 L332.24,95.72 L333.02,95.73 L333.80,95.73 L334.58,95.74 L335.36,95.75 L336.14,95.75 L336.92,95.76 L337.70,95.77 L338.48,95.78 L339.26,95.79 L340.04,95.80 L340.82,95.81 L341.60,95.82 L342.38,95.83 L343.16,95.84 L343.94,95.86 L344.72,95.87 L345.50,95.89 L346.28,95.91 L347.06,95.93 L347.84,95.96 L348.62,95.99 L349.40,96.02 L350.18,96.06 L350.96,96.11 L351.74,96.17 L352.52,96.24 L353.30,96.33 L354.08,96.44 L354.86,96.59 L355.64,96.76 L356.42,96.98 L357.20,97.25 L357.98,97.57 L358.76,97.96 L359.54,98.41 L360.32,98.94 L361.10,99.54 L361.88,100.20 L362.66,100.91 L363.44,101.67 L364.22,102.45 L365.00,103.22 L365.78,103.94 L366.56,104.57 L367.34,105.07 L368.12,105.39 L368.90,105.50 L369.68,105.39 L370.46,105.07 L371.24,104.57 L372.02,103.94 L372.80,103.22 L373.58,102.45 L374.36,101.67 L375.14,100.91 L375.92,100.20 L376.70,99.54 L377.48,98.94 L378.26,98.41 L379.04,97.96 L379.82,97.57 L380.60,97.25 L381.38,96.98 L382.16,96.76 L382.94,96.59 L383.72,96.44 L384.50,96.33 L385.28,96.24 L386.06,96.17 L386.84,96.11 L387.62,96.06 L388.40,96.02 L389.18,95.99 L389.96,95.96 L390.74,95.93 L391.52,95.91 L392.30,95.89 L393.08,95.87 L393.86,95.86 L394.64,95.84 L395.42,95.83 L396.20,95.82 L396.98,95.81 L397.76,95.80 L398.54,95.79 L399.32,95.78 L400.10,95.77 L400.88,95.76 L401.66,95.75 L402.44,95.75 L403.22,95.74 L404.00,95.73 L404.78,95.73 L405.56,95.72 L406.34,95.72 L407.12,95.71 L407.90,95.71 L408.68,95.70 L409.46,95.70 L410.24,95.70 L411.02,95.69 L411.80,95.69 L412.58,95.69 L413.36,95.68 L414.14,95.68 L414.92,95.68 L415.70,95.68 L416.48,95.67 L417.26,95.67 L418.04,95.67 L418.82,95.67 L419.60,95.66 L420.38,95.66 L421.16,95.66 L421.94,95.66 L422.72,95.66 L423.50,95.65 L424.28,95.65 L425.06,95.65 L425.84,95.65 L426.62,95.65 L427.40,95.65 L428.18,95.65" fill="none" stroke="#fbbda5" stroke-width="1.15"/>
<circle cx="311.57" cy="95.13" r="1.3" fill="#fbbda5"/>
<circle cx="313.83" cy="94.81" r="1.3" fill="#fbbda5"/>
<circle cx="316.09" cy="96.50" r="1.3" fill="#fbbda5"/>
<circle cx="318.36" cy="95.75" r="1.3" fill="#fbbda5"/>
<circle cx="320.62" cy="95.40" r="1.3" fill="#fbbda5"/>
<circle cx="322.88" cy="94.91" r="1.3" fill="#fbbda5"/>
<circle cx="325.14" cy="95.72" r="1.3" fill="#fbbda5"/>
<circle cx="327.40" cy="95.88" r="1.3" fill="#fbbda5"/>
<circle cx="329.67" cy="96.65" r="1.3" fill="#fbbda5"/>
<circle cx="331.93" cy="96.05" r="1.3" fill="#fbbda5"/>
<circle cx="334.19" cy="94.91" r="1.3" fill="#fbbda5"/>
<circle cx="336.45" cy="95.66" r="1.3" fill="#fbbda5"/>
<circle cx="338.71" cy="96.57" r="1.3" fill="#fbbda5"/>
<circle cx="340.98" cy="96.59" r="1.3" fill="#fbbda5"/>
<circle cx="343.24" cy="93.36" r="1.3" fill="#fbbda5"/>
<circle cx="345.50" cy="94.83" r="1.3" fill="#fbbda5"/>
<circle cx="347.76" cy="95.36" r="1.3" fill="#fbbda5"/>
<circle cx="350.02" cy="98.47" r="1.3" fill="#fbbda5"/>
<circle cx="352.29" cy="95.64" r="1.3" fill="#fbbda5"/>
<circle cx="354.55" cy="96.08" r="1.3" fill="#fbbda5"/>
<circle cx="356.81" cy="95.54" r="1.3" fill="#fbbda5"/>
<circle cx="359.07" cy="97.73" r="1.3" fill="#fbbda5"/>
<circle cx="361.33" cy="99.79" r="1.3" fill="#fbbda5"/>
<circle cx="363.60" cy="101.34" r="1.3" fill="#fbbda5"/>
<circle cx="365.86" cy="105.82" r="1.3" fill="#fbbda5"/>
<circle cx="368.12" cy="104.43" r="1.3" fill="#fbbda5"/>
<circle cx="370.38" cy="104.81" r="1.3" fill="#fbbda5"/>
<circle cx="372.64" cy="104.02" r="1.3" fill="#fbbda5"/>
<circle cx="374.91" cy="99.90" r="1.3" fill="#fbbda5"/>
<circle cx="377.17" cy="97.49" r="1.3" fill="#fbbda5"/>
<circle cx="379.43" cy="99.06" r="1.3" fill="#fbbda5"/>
<circle cx="381.69" cy="97.51" r="1.3" fill="#fbbda5"/>
<circle cx="383.95" cy="96.14" r="1.3" fill="#fbbda5"/>
<circle cx="386.22" cy="95.99" r="1.3" fill="#fbbda5"/>
<circle cx="388.48" cy="96.39" r="1.3" fill="#fbbda5"/>
<circle cx="390.74" cy="96.84" r="1.3" fill="#fbbda5"/>
<circle cx="393.00" cy="93.90" r="1.3" fill="#fbbda5"/>
<circle cx="395.26" cy="94.87" r="1.3" fill="#fbbda5"/>
<circle cx="397.53" cy="96.91" r="1.3" fill="#fbbda5"/>
<circle cx="399.79" cy="97.02" r="1.3" fill="#fbbda5"/>
<circle cx="402.05" cy="94.16" r="1.3" fill="#fbbda5"/>
<circle cx="404.31" cy="94.81" r="1.3" fill="#fbbda5"/>
<circle cx="406.57" cy="94.02" r="1.3" fill="#fbbda5"/>
<circle cx="408.84" cy="94.95" r="1.3" fill="#fbbda5"/>
<circle cx="411.10" cy="96.50" r="1.3" fill="#fbbda5"/>
<circle cx="413.36" cy="95.44" r="1.3" fill="#fbbda5"/>
<circle cx="415.62" cy="97.69" r="1.3" fill="#fbbda5"/>
<circle cx="417.88" cy="96.36" r="1.3" fill="#fbbda5"/>
<circle cx="420.15" cy="95.72" r="1.3" fill="#fbbda5"/>
<circle cx="422.41" cy="95.17" r="1.3" fill="#fbbda5"/>
<circle cx="424.67" cy="96.33" r="1.3" fill="#fbbda5"/>
<circle cx="426.93" cy="95.76" r="1.3" fill="#fbbda5"/>
<path d="M309.62,108.79 L310.40,108.79 L311.18,108.79 L311.96,108.79 L312.74,108.80 L313.52,108.80 L314.30,108.80 L315.08,108.80 L315.86,108.81 L316.64,108.81 L317.42,108.81 L318.20,108.82 L318.98,108.82 L319.76,108.83 L320.54,108.83 L321.32,108.83 L322.10,108.84 L322.88,108.84 L323.66,108.85 L324.44,108.85 L325.22,108.86 L326.00,108.87 L326.78,108.87 L327.56,108.88 L328.34,108.89 L329.12,108.89 L329.90,108.90 L330.68,108.91 L331.46,108.92 L332.24,108.93 L333.02,108.94 L333.80,108.95 L334.58,108.96 L335.36,108.97 L336.14,108.98 L336.92,109.00 L337.70,109.01 L338.48,109.03 L339.26,109.05 L340.04,109.06 L340.82,109.08 L341.60,109.10 L342.38,109.13 L343.16,109.15 L343.94,109.18 L344.72,109.21 L345.50,109.24 L346.28,109.28 L347.06,109.32 L347.84,109.37 L348.62,109.42 L349.40,109.49 L350.18,109.56 L350.96,109.65 L351.74,109.76 L352.52,109.89 L353.30,110.06 L354.08,110.27 L354.86,110.53 L355.64,110.86 L356.42,111.27 L357.20,111.76 L357.98,112.37 L358.76,113.09 L359.54,113.94 L360.32,114.91 L361.10,116.02 L361.88,117.25 L362.66,118.59 L363.44,120.00 L364.22,121.45 L365.00,122.87 L365.78,124.22 L366.56,125.40 L367.34,126.33 L368.12,126.92 L368.90,127.13 L369.68,126.92 L370.46,126.33 L371.24,125.40 L372.02,124.22 L372.80,122.87 L373.58,121.45 L374.36,120.00 L375.14,118.59 L375.92,117.25 L376.70,116.02 L377.48,114.91 L378.26,113.94 L379.04,113.09 L379.82,112.37 L380.60,111.76 L381.38,111.27 L382.16,110.86 L382.94,110.53 L383.72,110.27 L384.50,110.06 L385.28,109.89 L386.06,109.76 L386.84,109.65 L387.62,109.56 L388.40,109.49 L389.18,109.42 L389.96,109.37 L390.74,109.32 L391.52,109.28 L392.30,109.24 L393.08,109.21 L393.86,109.18 L394.64,109.15 L395.42,109.13 L396.20,109.10 L396.98,109.08 L397.76,109.06 L398.54,109.05 L399.32,109.03 L400.10,109.01 L400.88,109.00 L401.66,108.98 L402.44,108.97 L403.22,108.96 L404.00,108.95 L404.78,108.94 L405.56,108.93 L406.34,108.92 L407.12,108.91 L407.90,108.90 L408.68,108.89 L409.46,108.89 L410.24,108.88 L411.02,108.87 L411.80,108.87 L412.58,108.86 L413.36,108.85 L414.14,108.85 L414.92,108.84 L415.70,108.84 L416.48,108.83 L417.26,108.83 L418.04,108.83 L418.82,108.82 L419.60,108.82 L420.38,108.81 L421.16,108.81 L421.94,108.81 L422.72,108.80 L423.50,108.80 L424.28,108.80 L425.06,108.80 L425.84,108.79 L426.62,108.79 L427.40,108.79 L428.18,108.79" fill="none" stroke="#f98d6e" stroke-width="1.15"/>
<circle cx="311.57" cy="108.36" r="1.3" fill="#f98d6e"/>
<circle cx="313.83" cy="108.45" r="1.3" fill="#f98d6e"/>
<circle cx="316.09" cy="108.21" r="1.3" fill="#f98d6e"/>
<circle cx="318.36" cy="108.62" r="1.3" fill="#f98d6e"/>
<circle cx="320.62" cy="109.13" r="1.3" fill="#f98d6e"/>
<circle cx="322.88" cy="108.11" r="1.3" fill="#f98d6e"/>
<circle cx="325.14" cy="108.81" r="1.3" fill="#f98d6e"/>
<circle cx="327.40" cy="109.65" r="1.3" fill="#f98d6e"/>
<circle cx="329.67" cy="109.48" r="1.3" fill="#f98d6e"/>
<circle cx="331.93" cy="108.92" r="1.3" fill="#f98d6e"/>
<circle cx="334.19" cy="109.06" r="1.3" fill="#f98d6e"/>
<circle cx="336.45" cy="108.84" r="1.3" fill="#f98d6e"/>
<circle cx="338.71" cy="109.03" r="1.3" fill="#f98d6e"/>
<circle cx="340.98" cy="108.92" r="1.3" fill="#f98d6e"/>
<circle cx="343.24" cy="109.28" r="1.3" fill="#f98d6e"/>
<circle cx="345.50" cy="110.42" r="1.3" fill="#f98d6e"/>
<circle cx="347.76" cy="108.97" r="1.3" fill="#f98d6e"/>
<circle cx="350.02" cy="108.56" r="1.3" fill="#f98d6e"/>
<circle cx="352.29" cy="109.44" r="1.3" fill="#f98d6e"/>
<circle cx="354.55" cy="110.60" r="1.3" fill="#f98d6e"/>
<circle cx="356.81" cy="111.09" r="1.3" fill="#f98d6e"/>
<circle cx="359.07" cy="114.31" r="1.3" fill="#f98d6e"/>
<circle cx="361.33" cy="118.15" r="1.3" fill="#f98d6e"/>
<circle cx="363.60" cy="120.23" r="1.3" fill="#f98d6e"/>
<circle cx="365.86" cy="125.21" r="1.3" fill="#f98d6e"/>
<circle cx="368.12" cy="126.23" r="1.3" fill="#f98d6e"/>
<circle cx="370.38" cy="127.41" r="1.3" fill="#f98d6e"/>
<circle cx="372.64" cy="125.60" r="1.3" fill="#f98d6e"/>
<circle cx="374.91" cy="119.97" r="1.3" fill="#f98d6e"/>
<circle cx="377.17" cy="113.87" r="1.3" fill="#f98d6e"/>
<circle cx="379.43" cy="113.07" r="1.3" fill="#f98d6e"/>
<circle cx="381.69" cy="112.37" r="1.3" fill="#f98d6e"/>
<circle cx="383.95" cy="110.91" r="1.3" fill="#f98d6e"/>
<circle cx="386.22" cy="109.25" r="1.3" fill="#f98d6e"/>
<circle cx="388.48" cy="109.02" r="1.3" fill="#f98d6e"/>
<circle cx="390.74" cy="109.16" r="1.3" fill="#f98d6e"/>
<circle cx="393.00" cy="107.83" r="1.3" fill="#f98d6e"/>
<circle cx="395.26" cy="108.48" r="1.3" fill="#f98d6e"/>
<circle cx="397.53" cy="109.09" r="1.3" fill="#f98d6e"/>
<circle cx="399.79" cy="108.46" r="1.3" fill="#f98d6e"/>
<circle cx="402.05" cy="107.44" r="1.3" fill="#f98d6e"/>
<circle cx="404.31" cy="108.04" r="1.3" fill="#f98d6e"/>
<circle cx="406.57" cy="107.96" r="1.3" fill="#f98d6e"/>
<circle cx="408.84" cy="109.90" r="1.3" fill="#f98d6e"/>
<circle cx="411.10" cy="109.01" r="1.3" fill="#f98d6e"/>
<circle cx="413.36" cy="108.18" r="1.3" fill="#f98d6e"/>
<circle cx="415.62" cy="109.12" r="1.3" fill="#f98d6e"/>
<circle cx="417.88" cy="107.83" r="1.3" fill="#f98d6e"/>
<circle cx="420.15" cy="108.26" r="1.3" fill="#f98d6e"/>
<circle cx="422.41" cy="107.96" r="1.3" fill="#f98d6e"/>
<circle cx="424.67" cy="108.99" r="1.3" fill="#f98d6e"/>
<circle cx="426.93" cy="106.42" r="1.3" fill="#f98d6e"/>
<path d="M309.62,122.47 L310.40,122.47 L311.18,122.48 L311.96,122.49 L312.74,122.49 L313.52,122.50 L314.30,122.51 L315.08,122.51 L315.86,122.52 L316.64,122.53 L317.42,122.54 L318.20,122.54 L318.98,122.55 L319.76,122.56 L320.54,122.57 L321.32,122.58 L322.10,122.59 L322.88,122.60 L323.66,122.61 L324.44,122.63 L325.22,122.64 L326.00,122.65 L326.78,122.67 L327.56,122.68 L328.34,122.70 L329.12,122.71 L329.90,122.73 L330.68,122.75 L331.46,122.77 L332.24,122.79 L333.02,122.81 L333.80,122.84 L334.58,122.86 L335.36,122.89 L336.14,122.92 L336.92,122.95 L337.70,122.98 L338.48,123.02 L339.26,123.05 L340.04,123.10 L340.82,123.14 L341.60,123.20 L342.38,123.26 L343.16,123.32 L343.94,123.40 L344.72,123.49 L345.50,123.59 L346.28,123.71 L347.06,123.85 L347.84,124.01 L348.62,124.20 L349.40,124.43 L350.18,124.70 L350.96,125.02 L351.74,125.39 L352.52,125.82 L353.30,126.32 L354.08,126.90 L354.86,127.56 L355.64,128.31 L356.42,129.14 L357.20,130.07 L357.98,131.09 L358.76,132.19 L359.54,133.38 L360.32,134.64 L361.10,135.95 L361.88,137.30 L362.66,138.66 L363.44,140.01 L364.22,141.31 L365.00,142.52 L365.78,143.60 L366.56,144.50 L367.34,145.18 L368.12,145.60 L368.90,145.74 L369.68,145.60 L370.46,145.18 L371.24,144.50 L372.02,143.60 L372.80,142.52 L373.58,141.31 L374.36,140.01 L375.14,138.66 L375.92,137.30 L376.70,135.95 L377.48,134.64 L378.26,133.38 L379.04,132.19 L379.82,131.09 L380.60,130.07 L381.38,129.14 L382.16,128.31 L382.94,127.56 L383.72,126.90 L384.50,126.32 L385.28,125.82 L386.06,125.39 L386.84,125.02 L387.62,124.70 L388.40,124.43 L389.18,124.20 L389.96,124.01 L390.74,123.85 L391.52,123.71 L392.30,123.59 L393.08,123.49 L393.86,123.40 L394.64,123.32 L395.42,123.26 L396.20,123.20 L396.98,123.14 L397.76,123.10 L398.54,123.05 L399.32,123.02 L400.10,122.98 L400.88,122.95 L401.66,122.92 L402.44,122.89 L403.22,122.86 L404.00,122.84 L404.78,122.81 L405.56,122.79 L406.34,122.77 L407.12,122.75 L407.90,122.73 L408.68,122.71 L409.46,122.70 L410.24,122.68 L411.02,122.67 L411.80,122.65 L412.58,122.64 L413.36,122.63 L414.14,122.61 L414.92,122.60 L415.70,122.59 L416.48,122.58 L417.26,122.57 L418.04,122.56 L418.82,122.55 L419.60,122.54 L420.38,122.54 L421.16,122.53 L421.94,122.52 L422.72,122.51 L423.50,122.51 L424.28,122.50 L425.06,122.49 L425.84,122.49 L426.62,122.48 L427.40,122.47 L428.18,122.47" fill="none" stroke="#ef5b3e" stroke-width="1.15"/>
<circle cx="311.57" cy="121.33" r="1.3" fill="#ef5b3e"/>
<circle cx="313.83" cy="122.70" r="1.3" fill="#ef5b3e"/>
<circle cx="316.09" cy="122.44" r="1.3" fill="#ef5b3e"/>
<circle cx="318.36" cy="120.13" r="1.3" fill="#ef5b3e"/>
<circle cx="320.62" cy="122.89" r="1.3" fill="#ef5b3e"/>
<circle cx="322.88" cy="121.79" r="1.3" fill="#ef5b3e"/>
<circle cx="325.14" cy="121.73" r="1.3" fill="#ef5b3e"/>
<circle cx="327.40" cy="122.67" r="1.3" fill="#ef5b3e"/>
<circle cx="329.67" cy="123.81" r="1.3" fill="#ef5b3e"/>
<circle cx="331.93" cy="122.61" r="1.3" fill="#ef5b3e"/>
<circle cx="334.19" cy="122.51" r="1.3" fill="#ef5b3e"/>
<circle cx="336.45" cy="121.88" r="1.3" fill="#ef5b3e"/>
<circle cx="338.71" cy="122.30" r="1.3" fill="#ef5b3e"/>
<circle cx="340.98" cy="123.13" r="1.3" fill="#ef5b3e"/>
<circle cx="343.24" cy="122.54" r="1.3" fill="#ef5b3e"/>
<circle cx="345.50" cy="123.09" r="1.3" fill="#ef5b3e"/>
<circle cx="347.76" cy="123.80" r="1.3" fill="#ef5b3e"/>
<circle cx="350.02" cy="124.59" r="1.3" fill="#ef5b3e"/>
<circle cx="352.29" cy="125.91" r="1.3" fill="#ef5b3e"/>
<circle cx="354.55" cy="126.65" r="1.3" fill="#ef5b3e"/>
<circle cx="356.81" cy="130.57" r="1.3" fill="#ef5b3e"/>
<circle cx="359.07" cy="133.24" r="1.3" fill="#ef5b3e"/>
<circle cx="361.33" cy="136.35" r="1.3" fill="#ef5b3e"/>
<circle cx="363.60" cy="141.64" r="1.3" fill="#ef5b3e"/>
<circle cx="365.86" cy="144.10" r="1.3" fill="#ef5b3e"/>
<circle cx="368.12" cy="147.47" r="1.3" fill="#ef5b3e"/>
<circle cx="370.38" cy="145.87" r="1.3" fill="#ef5b3e"/>
<circle cx="372.64" cy="142.22" r="1.3" fill="#ef5b3e"/>
<circle cx="374.91" cy="138.54" r="1.3" fill="#ef5b3e"/>
<circle cx="377.17" cy="135.21" r="1.3" fill="#ef5b3e"/>
<circle cx="379.43" cy="131.85" r="1.3" fill="#ef5b3e"/>
<circle cx="381.69" cy="130.11" r="1.3" fill="#ef5b3e"/>
<circle cx="383.95" cy="125.02" r="1.3" fill="#ef5b3e"/>
<circle cx="386.22" cy="124.83" r="1.3" fill="#ef5b3e"/>
<circle cx="388.48" cy="123.39" r="1.3" fill="#ef5b3e"/>
<circle cx="390.74" cy="124.67" r="1.3" fill="#ef5b3e"/>
<circle cx="393.00" cy="123.67" r="1.3" fill="#ef5b3e"/>
<circle cx="395.26" cy="124.96" r="1.3" fill="#ef5b3e"/>
<circle cx="397.53" cy="122.38" r="1.3" fill="#ef5b3e"/>
<circle cx="399.79" cy="122.12" r="1.3" fill="#ef5b3e"/>
<circle cx="402.05" cy="124.67" r="1.3" fill="#ef5b3e"/>
<circle cx="404.31" cy="122.87" r="1.3" fill="#ef5b3e"/>
<circle cx="406.57" cy="122.18" r="1.3" fill="#ef5b3e"/>
<circle cx="408.84" cy="124.35" r="1.3" fill="#ef5b3e"/>
<circle cx="411.10" cy="124.36" r="1.3" fill="#ef5b3e"/>
<circle cx="413.36" cy="123.62" r="1.3" fill="#ef5b3e"/>
<circle cx="415.62" cy="123.18" r="1.3" fill="#ef5b3e"/>
<circle cx="417.88" cy="123.87" r="1.3" fill="#ef5b3e"/>
<circle cx="420.15" cy="122.51" r="1.3" fill="#ef5b3e"/>
<circle cx="422.41" cy="122.28" r="1.3" fill="#ef5b3e"/>
<circle cx="424.67" cy="121.91" r="1.3" fill="#ef5b3e"/>
<circle cx="426.93" cy="121.83" r="1.3" fill="#ef5b3e"/>
<path d="M309.62,137.25 L310.40,137.26 L311.18,137.27 L311.96,137.28 L312.74,137.29 L313.52,137.30 L314.30,137.31 L315.08,137.33 L315.86,137.34 L316.64,137.36 L317.42,137.37 L318.20,137.39 L318.98,137.41 L319.76,137.43 L320.54,137.45 L321.32,137.47 L322.10,137.49 L322.88,137.51 L323.66,137.54 L324.44,137.57 L325.22,137.60 L326.00,137.63 L326.78,137.66 L327.56,137.70 L328.34,137.74 L329.12,137.79 L329.90,137.84 L330.68,137.89 L331.46,137.95 L332.24,138.02 L333.02,138.09 L333.80,138.18 L334.58,138.27 L335.36,138.37 L336.14,138.48 L336.92,138.61 L337.70,138.75 L338.48,138.91 L339.26,139.09 L340.04,139.28 L340.82,139.50 L341.60,139.74 L342.38,140.01 L343.16,140.30 L343.94,140.62 L344.72,140.98 L345.50,141.37 L346.28,141.79 L347.06,142.25 L347.84,142.75 L348.62,143.28 L349.40,143.86 L350.18,144.47 L350.96,145.13 L351.74,145.82 L352.52,146.55 L353.30,147.32 L354.08,148.13 L354.86,148.96 L355.64,149.82 L356.42,150.71 L357.20,151.61 L357.98,152.52 L358.76,153.45 L359.54,154.36 L360.32,155.27 L361.10,156.16 L361.88,157.01 L362.66,157.82 L363.44,158.58 L364.22,159.27 L365.00,159.87 L365.78,160.39 L366.56,160.80 L367.34,161.11 L368.12,161.29 L368.90,161.35 L369.68,161.28 L370.46,161.09 L371.24,160.78 L372.02,160.36 L372.80,159.84 L373.58,159.22 L374.36,158.53 L375.14,157.76 L375.92,156.94 L376.70,156.08 L377.48,155.19 L378.26,154.28 L379.04,153.35 L379.82,152.42 L380.60,151.50 L381.38,150.59 L382.16,149.70 L382.94,148.83 L383.72,147.99 L384.50,147.18 L385.28,146.40 L386.06,145.66 L386.84,144.96 L387.62,144.30 L388.40,143.67 L389.18,143.09 L389.96,142.55 L390.74,142.04 L391.52,141.58 L392.30,141.15 L393.08,140.75 L393.86,140.39 L394.64,140.06 L395.42,139.76 L396.20,139.48 L396.98,139.24 L397.76,139.01 L398.54,138.81 L399.32,138.63 L400.10,138.46 L400.88,138.31 L401.66,138.18 L402.44,138.06 L403.22,137.95 L404.00,137.85 L404.78,137.76 L405.56,137.68 L406.34,137.60 L407.12,137.53 L407.90,137.47 L408.68,137.42 L409.46,137.36 L410.24,137.31 L411.02,137.27 L411.80,137.23 L412.58,137.19 L413.36,137.15 L414.14,137.12 L414.92,137.08 L415.70,137.05 L416.48,137.02 L417.26,136.99 L418.04,136.97 L418.82,136.94 L419.60,136.92 L420.38,136.89 L421.16,136.87 L421.94,136.85 L422.72,136.82 L423.50,136.80 L424.28,136.78 L425.06,136.76 L425.84,136.75 L426.62,136.73 L427.40,136.71 L428.18,136.69" fill="none" stroke="#d42a24" stroke-width="1.15"/>
<circle cx="311.57" cy="135.87" r="1.3" fill="#d42a24"/>
<circle cx="313.83" cy="136.22" r="1.3" fill="#d42a24"/>
<circle cx="316.09" cy="138.57" r="1.3" fill="#d42a24"/>
<circle cx="318.36" cy="137.86" r="1.3" fill="#d42a24"/>
<circle cx="320.62" cy="138.43" r="1.3" fill="#d42a24"/>
<circle cx="322.88" cy="138.52" r="1.3" fill="#d42a24"/>
<circle cx="325.14" cy="137.67" r="1.3" fill="#d42a24"/>
<circle cx="327.40" cy="137.69" r="1.3" fill="#d42a24"/>
<circle cx="329.67" cy="137.37" r="1.3" fill="#d42a24"/>
<circle cx="331.93" cy="139.47" r="1.3" fill="#d42a24"/>
<circle cx="334.19" cy="139.37" r="1.3" fill="#d42a24"/>
<circle cx="336.45" cy="138.55" r="1.3" fill="#d42a24"/>
<circle cx="338.71" cy="139.15" r="1.3" fill="#d42a24"/>
<circle cx="340.98" cy="139.83" r="1.3" fill="#d42a24"/>
<circle cx="343.24" cy="140.39" r="1.3" fill="#d42a24"/>
<circle cx="345.50" cy="142.07" r="1.3" fill="#d42a24"/>
<circle cx="347.76" cy="142.04" r="1.3" fill="#d42a24"/>
<circle cx="350.02" cy="144.02" r="1.3" fill="#d42a24"/>
<circle cx="352.29" cy="146.41" r="1.3" fill="#d42a24"/>
<circle cx="354.55" cy="149.25" r="1.3" fill="#d42a24"/>
<circle cx="356.81" cy="151.32" r="1.3" fill="#d42a24"/>
<circle cx="359.07" cy="156.35" r="1.3" fill="#d42a24"/>
<circle cx="361.33" cy="157.33" r="1.3" fill="#d42a24"/>
<circle cx="363.60" cy="158.69" r="1.3" fill="#d42a24"/>
<circle cx="365.86" cy="161.84" r="1.3" fill="#d42a24"/>
<circle cx="368.12" cy="161.10" r="1.3" fill="#d42a24"/>
<circle cx="370.38" cy="160.98" r="1.3" fill="#d42a24"/>
<circle cx="372.64" cy="161.23" r="1.3" fill="#d42a24"/>
<circle cx="374.91" cy="158.23" r="1.3" fill="#d42a24"/>
<circle cx="377.17" cy="155.84" r="1.3" fill="#d42a24"/>
<circle cx="379.43" cy="152.46" r="1.3" fill="#d42a24"/>
<circle cx="381.69" cy="149.66" r="1.3" fill="#d42a24"/>
<circle cx="383.95" cy="147.77" r="1.3" fill="#d42a24"/>
<circle cx="386.22" cy="146.31" r="1.3" fill="#d42a24"/>
<circle cx="388.48" cy="143.75" r="1.3" fill="#d42a24"/>
<circle cx="390.74" cy="142.11" r="1.3" fill="#d42a24"/>
<circle cx="393.00" cy="140.11" r="1.3" fill="#d42a24"/>
<circle cx="395.26" cy="139.54" r="1.3" fill="#d42a24"/>
<circle cx="397.53" cy="139.75" r="1.3" fill="#d42a24"/>
<circle cx="399.79" cy="139.78" r="1.3" fill="#d42a24"/>
<circle cx="402.05" cy="138.46" r="1.3" fill="#d42a24"/>
<circle cx="404.31" cy="138.50" r="1.3" fill="#d42a24"/>
<circle cx="406.57" cy="138.62" r="1.3" fill="#d42a24"/>
<circle cx="408.84" cy="137.51" r="1.3" fill="#d42a24"/>
<circle cx="411.10" cy="137.72" r="1.3" fill="#d42a24"/>
<circle cx="413.36" cy="137.05" r="1.3" fill="#d42a24"/>
<circle cx="415.62" cy="136.57" r="1.3" fill="#d42a24"/>
<circle cx="417.88" cy="137.36" r="1.3" fill="#d42a24"/>
<circle cx="420.15" cy="134.73" r="1.3" fill="#d42a24"/>
<circle cx="422.41" cy="137.13" r="1.3" fill="#d42a24"/>
<circle cx="424.67" cy="135.75" r="1.3" fill="#d42a24"/>
<circle cx="426.93" cy="136.61" r="1.3" fill="#d42a24"/>
<path d="M309.62,150.87 L310.40,150.94 L311.18,151.02 L311.96,151.10 L312.74,151.18 L313.52,151.26 L314.30,151.35 L315.08,151.45 L315.86,151.55 L316.64,151.65 L317.42,151.76 L318.20,151.87 L318.98,151.99 L319.76,152.11 L320.54,152.24 L321.32,152.38 L322.10,152.52 L322.88,152.67 L323.66,152.82 L324.44,152.98 L325.22,153.15 L326.00,153.32 L326.78,153.50 L327.56,153.68 L328.34,153.88 L329.12,154.08 L329.90,154.28 L330.68,154.49 L331.46,154.71 L332.24,154.94 L333.02,155.17 L333.80,155.41 L334.58,155.66 L335.36,155.91 L336.14,156.17 L336.92,156.44 L337.70,156.71 L338.48,156.99 L339.26,157.27 L340.04,157.56 L340.82,157.86 L341.60,158.16 L342.38,158.46 L343.16,158.77 L343.94,159.08 L344.72,159.39 L345.50,159.71 L346.28,160.03 L347.06,160.35 L347.84,160.67 L348.62,160.99 L349.40,161.31 L350.18,161.63 L350.96,161.95 L351.74,162.26 L352.52,162.58 L353.30,162.88 L354.08,163.18 L354.86,163.48 L355.64,163.77 L356.42,164.05 L357.20,164.32 L357.98,164.58 L358.76,164.82 L359.54,165.06 L360.32,165.28 L361.10,165.49 L361.88,165.68 L362.66,165.85 L363.44,166.01 L364.22,166.15 L365.00,166.26 L365.78,166.36 L366.56,166.44 L367.34,166.50 L368.12,166.53 L368.90,166.55 L369.68,166.54 L370.46,166.51 L371.24,166.46 L372.02,166.39 L372.80,166.30 L373.58,166.19 L374.36,166.06 L375.14,165.91 L375.92,165.74 L376.70,165.56 L377.48,165.36 L378.26,165.15 L379.04,164.92 L379.82,164.68 L380.60,164.43 L381.38,164.16 L382.16,163.89 L382.94,163.61 L383.72,163.32 L384.50,163.03 L385.28,162.73 L386.06,162.42 L386.84,162.12 L387.62,161.81 L388.40,161.49 L389.18,161.18 L389.96,160.87 L390.74,160.55 L391.52,160.24 L392.30,159.93 L393.08,159.62 L393.86,159.31 L394.64,159.01 L395.42,158.71 L396.20,158.41 L396.98,158.12 L397.76,157.83 L398.54,157.55 L399.32,157.28 L400.10,157.00 L400.88,156.74 L401.66,156.48 L402.44,156.23 L403.22,155.98 L404.00,155.74 L404.78,155.51 L405.56,155.28 L406.34,155.06 L407.12,154.85 L407.90,154.65 L408.68,154.45 L409.46,154.26 L410.24,154.07 L411.02,153.89 L411.80,153.72 L412.58,153.56 L413.36,153.40 L414.14,153.24 L414.92,153.10 L415.70,152.96 L416.48,152.82 L417.26,152.70 L418.04,152.57 L418.82,152.46 L419.60,152.35 L420.38,152.24 L421.16,152.14 L421.94,152.04 L422.72,151.95 L423.50,151.86 L424.28,151.78 L425.06,151.70 L425.84,151.63 L426.62,151.56 L427.40,151.49 L428.18,151.43" fill="none" stroke="#a7151b" stroke-width="1.15"/>
<circle cx="311.57" cy="150.02" r="1.3" fill="#a7151b"/>
<circle cx="313.83" cy="153.51" r="1.3" fill="#a7151b"/>
<circle cx="316.09" cy="152.28" r="1.3" fill="#a7151b"/>
<circle cx="318.36" cy="151.66" r="1.3" fill="#a7151b"/>
<circle cx="320.62" cy="151.70" r="1.3" fill="#a7151b"/>
<circle cx="322.88" cy="150.49" r="1.3" fill="#a7151b"/>
<circle cx="325.14" cy="152.83" r="1.3" fill="#a7151b"/>
<circle cx="327.40" cy="152.46" r="1.3" fill="#a7151b"/>
<circle cx="329.67" cy="153.51" r="1.3" fill="#a7151b"/>
<circle cx="331.93" cy="153.97" r="1.3" fill="#a7151b"/>
<circle cx="334.19" cy="155.06" r="1.3" fill="#a7151b"/>
<circle cx="336.45" cy="156.43" r="1.3" fill="#a7151b"/>
<circle cx="338.71" cy="156.60" r="1.3" fill="#a7151b"/>
<circle cx="340.98" cy="158.92" r="1.3" fill="#a7151b"/>
<circle cx="343.24" cy="157.70" r="1.3" fill="#a7151b"/>
<circle cx="345.50" cy="160.65" r="1.3" fill="#a7151b"/>
<circle cx="347.76" cy="160.40" r="1.3" fill="#a7151b"/>
<circle cx="350.02" cy="159.59" r="1.3" fill="#a7151b"/>
<circle cx="352.29" cy="162.69" r="1.3" fill="#a7151b"/>
<circle cx="354.55" cy="163.34" r="1.3" fill="#a7151b"/>
<circle cx="356.81" cy="163.10" r="1.3" fill="#a7151b"/>
<circle cx="359.07" cy="164.89" r="1.3" fill="#a7151b"/>
<circle cx="361.33" cy="166.30" r="1.3" fill="#a7151b"/>
<circle cx="363.60" cy="165.80" r="1.3" fill="#a7151b"/>
<circle cx="365.86" cy="165.83" r="1.3" fill="#a7151b"/>
<circle cx="368.12" cy="165.87" r="1.3" fill="#a7151b"/>
<circle cx="370.38" cy="167.24" r="1.3" fill="#a7151b"/>
<circle cx="372.64" cy="164.69" r="1.3" fill="#a7151b"/>
<circle cx="374.91" cy="164.41" r="1.3" fill="#a7151b"/>
<circle cx="377.17" cy="165.42" r="1.3" fill="#a7151b"/>
<circle cx="379.43" cy="164.55" r="1.3" fill="#a7151b"/>
<circle cx="381.69" cy="164.45" r="1.3" fill="#a7151b"/>
<circle cx="383.95" cy="161.92" r="1.3" fill="#a7151b"/>
<circle cx="386.22" cy="163.02" r="1.3" fill="#a7151b"/>
<circle cx="388.48" cy="160.83" r="1.3" fill="#a7151b"/>
<circle cx="390.74" cy="161.00" r="1.3" fill="#a7151b"/>
<circle cx="393.00" cy="160.29" r="1.3" fill="#a7151b"/>
<circle cx="395.26" cy="158.10" r="1.3" fill="#a7151b"/>
<circle cx="397.53" cy="155.58" r="1.3" fill="#a7151b"/>
<circle cx="399.79" cy="155.54" r="1.3" fill="#a7151b"/>
<circle cx="402.05" cy="154.93" r="1.3" fill="#a7151b"/>
<circle cx="404.31" cy="152.36" r="1.3" fill="#a7151b"/>
<circle cx="406.57" cy="152.04" r="1.3" fill="#a7151b"/>
<circle cx="408.84" cy="150.83" r="1.3" fill="#a7151b"/>
<circle cx="411.10" cy="149.17" r="1.3" fill="#a7151b"/>
<circle cx="413.36" cy="149.06" r="1.3" fill="#a7151b"/>
<circle cx="415.62" cy="150.17" r="1.3" fill="#a7151b"/>
<circle cx="417.88" cy="147.19" r="1.3" fill="#a7151b"/>
<circle cx="420.15" cy="148.98" r="1.3" fill="#a7151b"/>
<circle cx="422.41" cy="147.97" r="1.3" fill="#a7151b"/>
<circle cx="424.67" cy="149.06" r="1.3" fill="#a7151b"/>
<circle cx="426.93" cy="148.29" r="1.3" fill="#a7151b"/>
<path d="M309.62,166.75 L310.40,166.82 L311.18,166.90 L311.96,166.97 L312.74,167.05 L313.52,167.13 L314.30,167.21 L315.08,167.30 L315.86,167.38 L316.64,167.47 L317.42,167.57 L318.20,167.66 L318.98,167.76 L319.76,167.86 L320.54,167.97 L321.32,168.07 L322.10,168.18 L322.88,168.30 L323.66,168.41 L324.44,168.53 L325.22,168.65 L326.00,168.77 L326.78,168.89 L327.56,169.02 L328.34,169.15 L329.12,169.28 L329.90,169.41 L330.68,169.55 L331.46,169.69 L332.24,169.83 L333.02,169.97 L333.80,170.11 L334.58,170.25 L335.36,170.40 L336.14,170.55 L336.92,170.70 L337.70,170.85 L338.48,171.00 L339.26,171.15 L340.04,171.30 L340.82,171.45 L341.60,171.60 L342.38,171.76 L343.16,171.91 L343.94,172.06 L344.72,172.21 L345.50,172.36 L346.28,172.51 L347.06,172.66 L347.84,172.80 L348.62,172.95 L349.40,173.09 L350.18,173.23 L350.96,173.36 L351.74,173.49 L352.52,173.62 L353.30,173.75 L354.08,173.87 L354.86,173.99 L355.64,174.10 L356.42,174.21 L357.20,174.31 L357.98,174.41 L358.76,174.50 L359.54,174.59 L360.32,174.67 L361.10,174.74 L361.88,174.80 L362.66,174.86 L363.44,174.91 L364.22,174.95 L365.00,174.99 L365.78,175.01 L366.56,175.03 L367.34,175.04 L368.12,175.04 L368.90,175.03 L369.68,175.02 L370.46,175.00 L371.24,174.96 L372.02,174.92 L372.80,174.88 L373.58,174.82 L374.36,174.76 L375.14,174.68 L375.92,174.60 L376.70,174.52 L377.48,174.42 L378.26,174.32 L379.04,174.22 L379.82,174.10 L380.60,173.99 L381.38,173.86 L382.16,173.73 L382.94,173.60 L383.72,173.46 L384.50,173.31 L385.28,173.16 L386.06,173.01 L386.84,172.86 L387.62,172.70 L388.40,172.54 L389.18,172.38 L389.96,172.21 L390.74,172.04 L391.52,171.87 L392.30,171.70 L393.08,171.53 L393.86,171.36 L394.64,171.18 L395.42,171.01 L396.20,170.84 L396.98,170.66 L397.76,170.49 L398.54,170.32 L399.32,170.14 L400.10,169.97 L400.88,169.80 L401.66,169.63 L402.44,169.46 L403.22,169.29 L404.00,169.12 L404.78,168.96 L405.56,168.80 L406.34,168.64 L407.12,168.48 L407.90,168.32 L408.68,168.16 L409.46,168.01 L410.24,167.86 L411.02,167.71 L411.80,167.56 L412.58,167.42 L413.36,167.28 L414.14,167.14 L414.92,167.00 L415.70,166.87 L416.48,166.74 L417.26,166.61 L418.04,166.48 L418.82,166.36 L419.60,166.24 L420.38,166.12 L421.16,166.01 L421.94,165.89 L422.72,165.78 L423.50,165.68 L424.28,165.57 L425.06,165.47 L425.84,165.37 L426.62,165.27 L427.40,165.18 L428.18,165.09" fill="none" stroke="#6c0b14" stroke-width="1.15"/>
<circle cx="311.57" cy="168.56" r="1.3" fill="#6c0b14"/>
<circle cx="313.83" cy="165.50" r="1.3" fill="#6c0b14"/>
<circle cx="316.09" cy="166.14" r="1.3" fill="#6c0b14"/>
<circle cx="318.36" cy="168.81" r="1.3" fill="#6c0b14"/>
<circle cx="320.62" cy="169.38" r="1.3" fill="#6c0b14"/>
<circle cx="322.88" cy="169.80" r="1.3" fill="#6c0b14"/>
<circle cx="325.14" cy="167.54" r="1.3" fill="#6c0b14"/>
<circle cx="327.40" cy="169.42" r="1.3" fill="#6c0b14"/>
<circle cx="329.67" cy="169.43" r="1.3" fill="#6c0b14"/>
<circle cx="331.93" cy="170.06" r="1.3" fill="#6c0b14"/>
<circle cx="334.19" cy="170.29" r="1.3" fill="#6c0b14"/>
<circle cx="336.45" cy="171.62" r="1.3" fill="#6c0b14"/>
<circle cx="338.71" cy="171.02" r="1.3" fill="#6c0b14"/>
<circle cx="340.98" cy="172.82" r="1.3" fill="#6c0b14"/>
<circle cx="343.24" cy="171.99" r="1.3" fill="#6c0b14"/>
<circle cx="345.50" cy="172.07" r="1.3" fill="#6c0b14"/>
<circle cx="347.76" cy="172.35" r="1.3" fill="#6c0b14"/>
<circle cx="350.02" cy="173.41" r="1.3" fill="#6c0b14"/>
<circle cx="352.29" cy="174.43" r="1.3" fill="#6c0b14"/>
<circle cx="354.55" cy="173.80" r="1.3" fill="#6c0b14"/>
<circle cx="356.81" cy="174.71" r="1.3" fill="#6c0b14"/>
<circle cx="359.07" cy="173.08" r="1.3" fill="#6c0b14"/>
<circle cx="361.33" cy="174.04" r="1.3" fill="#6c0b14"/>
<circle cx="363.60" cy="175.03" r="1.3" fill="#6c0b14"/>
<circle cx="365.86" cy="175.45" r="1.3" fill="#6c0b14"/>
<circle cx="368.12" cy="175.70" r="1.3" fill="#6c0b14"/>
<circle cx="370.38" cy="175.87" r="1.3" fill="#6c0b14"/>
<circle cx="372.64" cy="175.21" r="1.3" fill="#6c0b14"/>
<circle cx="374.91" cy="174.43" r="1.3" fill="#6c0b14"/>
<circle cx="377.17" cy="173.98" r="1.3" fill="#6c0b14"/>
<circle cx="379.43" cy="173.63" r="1.3" fill="#6c0b14"/>
<circle cx="381.69" cy="171.86" r="1.3" fill="#6c0b14"/>
<circle cx="383.95" cy="174.07" r="1.3" fill="#6c0b14"/>
<circle cx="386.22" cy="172.97" r="1.3" fill="#6c0b14"/>
<circle cx="388.48" cy="169.92" r="1.3" fill="#6c0b14"/>
<circle cx="390.74" cy="173.78" r="1.3" fill="#6c0b14"/>
<circle cx="393.00" cy="172.03" r="1.3" fill="#6c0b14"/>
<circle cx="395.26" cy="170.89" r="1.3" fill="#6c0b14"/>
<circle cx="397.53" cy="170.12" r="1.3" fill="#6c0b14"/>
<circle cx="399.79" cy="168.90" r="1.3" fill="#6c0b14"/>
<circle cx="402.05" cy="168.53" r="1.3" fill="#6c0b14"/>
<circle cx="404.31" cy="167.01" r="1.3" fill="#6c0b14"/>
<circle cx="406.57" cy="166.35" r="1.3" fill="#6c0b14"/>
<circle cx="408.84" cy="164.95" r="1.3" fill="#6c0b14"/>
<circle cx="411.10" cy="166.99" r="1.3" fill="#6c0b14"/>
<circle cx="413.36" cy="165.64" r="1.3" fill="#6c0b14"/>
<circle cx="415.62" cy="164.42" r="1.3" fill="#6c0b14"/>
<circle cx="417.88" cy="165.01" r="1.3" fill="#6c0b14"/>
<circle cx="420.15" cy="164.67" r="1.3" fill="#6c0b14"/>
<circle cx="422.41" cy="162.78" r="1.3" fill="#6c0b14"/>
<circle cx="424.67" cy="163.66" r="1.3" fill="#6c0b14"/>
<circle cx="426.93" cy="162.18" r="1.3" fill="#6c0b14"/>
</g>
<rect x="310.4" y="7.4" width="117.10000000000002" height="174.7" fill="none" stroke="#000" stroke-width="1.0"/>
<line x1="310.4" y1="12.97" x2="313.4" y2="12.97" stroke="#000" stroke-width="0.8"/>
<line x1="427.5" y1="12.97" x2="424.5" y2="12.97" stroke="#000" stroke-width="0.8"/>
<text x="308.2" y="16.574999999999996" font-size="10.4" text-anchor="end" fill="#000" font-weight="normal" font-style="normal" >15</text>
<line x1="310.4" y1="40.35" x2="313.4" y2="40.35" stroke="#000" stroke-width="0.8"/>
<line x1="427.5" y1="40.35" x2="424.5" y2="40.35" stroke="#000" stroke-width="0.8"/>
<text x="308.2" y="43.949999999999996" font-size="10.4" text-anchor="end" fill="#000" font-weight="normal" font-style="normal" >10</text>
<line x1="310.4" y1="67.72" x2="313.4" y2="67.72" stroke="#000" stroke-width="0.8"/>
<line x1="427.5" y1="67.72" x2="424.5" y2="67.72" stroke="#000" stroke-width="0.8"/>
<text x="308.2" y="71.32499999999999" font-size="10.4" text-anchor="end" fill="#000" font-weight="normal" font-style="normal" >5</text>
<line x1="310.4" y1="95.10" x2="313.4" y2="95.10" stroke="#000" stroke-width="0.8"/>
<line x1="427.5" y1="95.10" x2="424.5" y2="95.10" stroke="#000" stroke-width="0.8"/>
<text x="308.2" y="98.69999999999999" font-size="10.4" text-anchor="end" fill="#000" font-weight="normal" font-style="normal" >0</text>
<line x1="310.4" y1="122.47" x2="313.4" y2="122.47" stroke="#000" stroke-width="0.8"/>
<line x1="427.5" y1="122.47" x2="424.5" y2="122.47" stroke="#000" stroke-width="0.8"/>
<text x="308.2" y="126.07499999999999" font-size="10.4" text-anchor="end" fill="#000" font-weight="normal" font-style="normal" >-5</text>
<line x1="310.4" y1="149.85" x2="313.4" y2="149.85" stroke="#000" stroke-width="0.8"/>
<line x1="427.5" y1="149.85" x2="424.5" y2="149.85" stroke="#000" stroke-width="0.8"/>
<text x="308.2" y="153.45" font-size="10.4" text-anchor="end" fill="#000" font-weight="normal" font-style="normal" >-10</text>
<line x1="310.4" y1="177.22" x2="313.4" y2="177.22" stroke="#000" stroke-width="0.8"/>
<line x1="427.5" y1="177.22" x2="424.5" y2="177.22" stroke="#000" stroke-width="0.8"/>
<text x="308.2" y="180.825" font-size="10.4" text-anchor="end" fill="#000" font-weight="normal" font-style="normal" >-15</text>
<line x1="322.10" y1="182.1" x2="322.10" y2="179.1" stroke="#000" stroke-width="0.8"/>
<line x1="322.10" y1="7.4" x2="322.10" y2="10.4" stroke="#000" stroke-width="0.8"/>
<text x="322.09999999999997" y="192.6" font-size="10.4" text-anchor="middle" fill="#000" font-weight="normal" font-style="normal" >-60</text>
<line x1="345.50" y1="182.1" x2="345.50" y2="179.1" stroke="#000" stroke-width="0.8"/>
<line x1="345.50" y1="7.4" x2="345.50" y2="10.4" stroke="#000" stroke-width="0.8"/>
<text x="345.5" y="192.6" font-size="10.4" text-anchor="middle" fill="#000" font-weight="normal" font-style="normal" >-30</text>
<line x1="368.90" y1="182.1" x2="368.90" y2="179.1" stroke="#000" stroke-width="0.8"/>
<line x1="368.90" y1="7.4" x2="368.90" y2="10.4" stroke="#000" stroke-width="0.8"/>
<text x="368.9" y="192.6" font-size="10.4" text-anchor="middle" fill="#000" font-weight="normal" font-style="normal" >0</text>
<line x1="392.30" y1="182.1" x2="392.30" y2="179.1" stroke="#000" stroke-width="0.8"/>
<line x1="392.30" y1="7.4" x2="392.30" y2="10.4" stroke="#000" stroke-width="0.8"/>
<text x="392.29999999999995" y="192.6" font-size="10.4" text-anchor="middle" fill="#000" font-weight="normal" font-style="normal" >30</text>
<line x1="415.70" y1="182.1" x2="415.70" y2="179.1" stroke="#000" stroke-width="0.8"/>
<line x1="415.70" y1="7.4" x2="415.70" y2="10.4" stroke="#000" stroke-width="0.8"/>
<text x="415.7" y="192.6" font-size="10.4" text-anchor="middle" fill="#000" font-weight="normal" font-style="normal" >60</text>
<text x="373.5" y="206.3" font-size="10.2" text-anchor="middle"><tspan font-style="italic">y</tspan> (<tspan font-style="italic">μ</tspan>m)</text>
<text x="294.6" y="94.5" font-size="10.5" text-anchor="middle" transform="rotate(-90 294.6 94.5)"><tspan font-style="italic">x</tspan> (<tspan font-style="italic">μ</tspan>m)</text>
<text x="432.2" y="29.5" font-size="8.5" text-anchor="start" fill="#232a6e" font-weight="normal" font-style="normal" >1200</text>
<text x="432.2" y="43.1" font-size="8.5" text-anchor="start" fill="#1b5ba8" font-weight="normal" font-style="normal" >800</text>
<text x="432.2" y="56.699999999999996" font-size="8.5" text-anchor="start" fill="#2e82c5" font-weight="normal" font-style="normal" >400</text>
<text x="432.2" y="70.29999999999998" font-size="8.5" text-anchor="start" fill="#56a2d8" font-weight="normal" font-style="normal" >200</text>
<text x="432.2" y="83.89999999999999" font-size="8.5" text-anchor="start" fill="#92c4e8" font-weight="normal" font-style="normal" >100</text>
<text x="432.2" y="97.5" font-size="8.5" text-anchor="start" fill="#d2d2d2" font-weight="normal" font-style="normal" >50</text>
<text x="432.2" y="111.1" font-size="8.5" text-anchor="start" fill="#f98d6e" font-weight="normal" font-style="normal" >100</text>
<text x="432.2" y="124.69999999999999" font-size="8.5" text-anchor="start" fill="#ef5b3e" font-weight="normal" font-style="normal" >200</text>
<text x="432.2" y="138.29999999999998" font-size="8.5" text-anchor="start" fill="#d42a24" font-weight="normal" font-style="normal" >400</text>
<text x="432.2" y="151.89999999999998" font-size="8.5" text-anchor="start" fill="#a7151b" font-weight="normal" font-style="normal" >800</text>
<text x="432.2" y="165.5" font-size="8.5" text-anchor="start" fill="#6c0b14" font-weight="normal" font-style="normal" >1200</text>
<text x="451.6" y="53.8" font-size="10.2" text-anchor="middle" fill="#1b5ba8" font-weight="normal" font-style="normal" transform="rotate(90 451.6 53.8)" >LCP</text>
<text x="451.6" y="95" font-size="10.8" text-anchor="middle" fill="#000" font-weight="normal" font-style="normal" transform="rotate(90 451.6 95)" ><tspan font-style="italic">t</tspan> (ps)</text>
<text x="451.6" y="136" font-size="10.2" text-anchor="middle" fill="#d42a24" font-weight="normal" font-style="normal" transform="rotate(90 451.6 136)" >RCP</text>
</g>
<g id="pe">
<text x="488.3" y="10.1" font-size="11.8" text-anchor="start" fill="#000" font-weight="bold" font-style="normal" >e</text>
<line x1="514.5" y1="88.1" x2="680.4" y2="88.1" stroke="#000" stroke-width="1.2"/>
<circle cx="519.00" cy="88.10" r="2.75" fill="#000"/>
<circle cx="528.77" cy="85.35" r="2.75" fill="#000"/>
<circle cx="538.55" cy="84.66" r="2.75" fill="#000"/>
<circle cx="548.33" cy="89.47" r="2.75" fill="#000"/>
<circle cx="558.10" cy="85.07" r="2.75" fill="#000"/>
<circle cx="567.88" cy="86.72" r="2.75" fill="#000"/>
<circle cx="577.65" cy="87.14" r="2.75" fill="#000"/>
<circle cx="587.42" cy="89.47" r="2.75" fill="#000"/>
<circle cx="597.20" cy="87.14" r="2.75" fill="#000"/>
<circle cx="606.98" cy="85.62" r="2.75" fill="#000"/>
<circle cx="616.75" cy="84.66" r="2.75" fill="#000"/>
<circle cx="626.52" cy="88.38" r="2.75" fill="#000"/>
<circle cx="636.30" cy="90.85" r="2.75" fill="#000"/>
<circle cx="646.08" cy="94.97" r="2.75" fill="#000"/>
<circle cx="655.85" cy="96.35" r="2.75" fill="#000"/>
<circle cx="665.62" cy="93.60" r="2.75" fill="#000"/>
<circle cx="675.40" cy="88.79" r="2.75" fill="#000"/>
<path d="M519.00,88.10 L519.98,89.10 L520.96,90.10 L521.93,91.09 L522.91,92.08 L523.89,93.06 L524.87,94.04 L525.84,95.00 L526.82,95.96 L527.80,96.90 L528.77,97.83 L529.75,98.75 L530.73,99.65 L531.71,100.53 L532.68,101.39 L533.66,102.23 L534.64,103.05 L535.62,103.85 L536.60,104.62 L537.57,105.37 L538.55,106.09 L539.53,106.78 L540.50,107.44 L541.48,108.08 L542.46,108.68 L543.44,109.25 L544.41,109.79 L545.39,110.29 L546.37,110.76 L547.35,111.20 L548.33,111.60 L549.30,111.97 L550.28,112.29 L551.26,112.58 L552.24,112.83 L553.21,113.05 L554.19,113.22 L555.17,113.36 L556.14,113.46 L557.12,113.52 L558.10,113.54 L559.08,113.52 L560.05,113.46 L561.03,113.36 L562.01,113.22 L562.99,113.05 L563.97,112.83 L564.94,112.58 L565.92,112.29 L566.90,111.97 L567.88,111.60 L568.85,111.20 L569.83,110.76 L570.81,110.29 L571.78,109.79 L572.76,109.25 L573.74,108.68 L574.72,108.08 L575.70,107.44 L576.67,106.78 L577.65,106.09 L578.63,105.37 L579.61,104.62 L580.58,103.85 L581.56,103.05 L582.54,102.23 L583.51,101.39 L584.49,100.53 L585.47,99.65 L586.45,98.75 L587.42,97.83 L588.40,96.90 L589.38,95.96 L590.36,95.00 L591.34,94.04 L592.31,93.06 L593.29,92.08 L594.27,91.09 L595.25,90.10 L596.22,89.10 L597.20,88.10 L598.18,87.10 L599.15,86.10 L600.13,85.11 L601.11,84.12 L602.09,83.14 L603.07,82.16 L604.04,81.20 L605.02,80.24 L606.00,79.30 L606.98,78.37 L607.95,77.45 L608.93,76.55 L609.91,75.67 L610.88,74.81 L611.86,73.97 L612.84,73.15 L613.82,72.35 L614.80,71.58 L615.77,70.83 L616.75,70.11 L617.73,69.42 L618.71,68.76 L619.68,68.12 L620.66,67.52 L621.64,66.95 L622.62,66.41 L623.59,65.91 L624.57,65.44 L625.55,65.00 L626.52,64.60 L627.50,64.23 L628.48,63.91 L629.46,63.62 L630.43,63.37 L631.41,63.15 L632.39,62.98 L633.37,62.84 L634.35,62.74 L635.32,62.68 L636.30,62.66 L637.28,62.68 L638.25,62.74 L639.23,62.84 L640.21,62.98 L641.19,63.15 L642.16,63.37 L643.14,63.62 L644.12,63.91 L645.10,64.23 L646.08,64.60 L647.05,65.00 L648.03,65.44 L649.01,65.91 L649.99,66.41 L650.96,66.95 L651.94,67.52 L652.92,68.12 L653.89,68.76 L654.87,69.42 L655.85,70.11 L656.83,70.83 L657.81,71.58 L658.78,72.35 L659.76,73.15 L660.74,73.97 L661.72,74.81 L662.69,75.67 L663.67,76.55 L664.65,77.45 L665.62,78.37 L666.60,79.30 L667.58,80.24 L668.56,81.20 L669.53,82.16 L670.51,83.14 L671.49,84.12 L672.47,85.11 L673.45,86.10 L674.42,87.10 L675.40,88.10" fill="none" stroke="#4b2a8c" stroke-width="1.2"/>
<rect x="516.60" y="85.70" width="4.8" height="4.8" fill="#4b2a8c"/>
<rect x="526.38" y="96.67" width="4.8" height="4.8" fill="#4b2a8c"/>
<rect x="536.15" y="104.65" width="4.8" height="4.8" fill="#4b2a8c"/>
<rect x="545.93" y="110.03" width="4.8" height="4.8" fill="#4b2a8c"/>
<rect x="555.70" y="116.77" width="4.8" height="4.8" fill="#4b2a8c"/>
<rect x="565.48" y="108.24" width="4.8" height="4.8" fill="#4b2a8c"/>
<rect x="575.25" y="104.65" width="4.8" height="4.8" fill="#4b2a8c"/>
<rect x="585.02" y="97.77" width="4.8" height="4.8" fill="#4b2a8c"/>
<rect x="594.80" y="85.70" width="4.8" height="4.8" fill="#4b2a8c"/>
<rect x="604.58" y="78.30" width="4.8" height="4.8" fill="#4b2a8c"/>
<rect x="614.35" y="71.43" width="4.8" height="4.8" fill="#4b2a8c"/>
<rect x="624.12" y="64.54" width="4.8" height="4.8" fill="#4b2a8c"/>
<rect x="633.90" y="58.75" width="4.8" height="4.8" fill="#4b2a8c"/>
<rect x="643.68" y="62.89" width="4.8" height="4.8" fill="#4b2a8c"/>
<rect x="653.45" y="74.59" width="4.8" height="4.8" fill="#4b2a8c"/>
<rect x="663.23" y="75.97" width="4.8" height="4.8" fill="#4b2a8c"/>
<rect x="673.00" y="86.39" width="4.8" height="4.8" fill="#4b2a8c"/>
<path d="M519.00,88.10 L519.98,89.99 L520.96,91.88 L521.93,93.76 L522.91,95.63 L523.89,97.49 L524.87,99.33 L525.84,101.16 L526.82,102.97 L527.80,104.76 L528.77,106.52 L529.75,108.25 L530.73,109.95 L531.71,111.61 L532.68,113.25 L533.66,114.84 L534.64,116.39 L535.62,117.89 L536.60,119.35 L537.57,120.77 L538.55,122.13 L539.53,123.44 L540.50,124.69 L541.48,125.89 L542.46,127.03 L543.44,128.11 L544.41,129.13 L545.39,130.09 L546.37,130.98 L547.35,131.80 L548.33,132.56 L549.30,133.25 L550.28,133.87 L551.26,134.42 L552.24,134.90 L553.21,135.30 L554.19,135.63 L555.17,135.89 L556.14,136.08 L557.12,136.19 L558.10,136.22 L559.08,136.19 L560.05,136.08 L561.03,135.89 L562.01,135.63 L562.99,135.30 L563.97,134.90 L564.94,134.42 L565.92,133.87 L566.90,133.25 L567.88,132.56 L568.85,131.80 L569.83,130.98 L570.81,130.09 L571.78,129.13 L572.76,128.11 L573.74,127.03 L574.72,125.89 L575.70,124.69 L576.67,123.44 L577.65,122.13 L578.63,120.77 L579.61,119.35 L580.58,117.89 L581.56,116.39 L582.54,114.84 L583.51,113.25 L584.49,111.61 L585.47,109.95 L586.45,108.25 L587.42,106.52 L588.40,104.76 L589.38,102.97 L590.36,101.16 L591.34,99.33 L592.31,97.49 L593.29,95.63 L594.27,93.76 L595.25,91.88 L596.22,89.99 L597.20,88.10 L598.18,86.21 L599.15,84.32 L600.13,82.44 L601.11,80.57 L602.09,78.71 L603.07,76.87 L604.04,75.04 L605.02,73.23 L606.00,71.44 L606.98,69.68 L607.95,67.95 L608.93,66.25 L609.91,64.59 L610.88,62.95 L611.86,61.36 L612.84,59.81 L613.82,58.31 L614.80,56.85 L615.77,55.43 L616.75,54.07 L617.73,52.76 L618.71,51.51 L619.68,50.31 L620.66,49.17 L621.64,48.09 L622.62,47.07 L623.59,46.11 L624.57,45.22 L625.55,44.40 L626.52,43.64 L627.50,42.95 L628.48,42.33 L629.46,41.78 L630.43,41.30 L631.41,40.90 L632.39,40.57 L633.37,40.31 L634.35,40.12 L635.32,40.01 L636.30,39.97 L637.28,40.01 L638.25,40.12 L639.23,40.31 L640.21,40.57 L641.19,40.90 L642.16,41.30 L643.14,41.78 L644.12,42.33 L645.10,42.95 L646.08,43.64 L647.05,44.40 L648.03,45.22 L649.01,46.11 L649.99,47.07 L650.96,48.09 L651.94,49.17 L652.92,50.31 L653.89,51.51 L654.87,52.76 L655.85,54.07 L656.83,55.43 L657.81,56.85 L658.78,58.31 L659.76,59.81 L660.74,61.36 L661.72,62.95 L662.69,64.59 L663.67,66.25 L664.65,67.95 L665.62,69.68 L666.60,71.44 L667.58,73.23 L668.56,75.04 L669.53,76.87 L670.51,78.71 L671.49,80.57 L672.47,82.44 L673.45,84.32 L674.42,86.21 L675.40,88.10" fill="none" stroke="#b5277e" stroke-width="1.2"/>
<path d="M516.10,85.90 L521.90,85.90 L519.00,91.10 Z" fill="#b5277e"/>
<path d="M525.88,102.80 L531.67,102.80 L528.77,108.00 Z" fill="#b5277e"/>
<path d="M535.65,109.20 L541.45,109.20 L538.55,114.40 Z" fill="#b5277e"/>
<path d="M545.43,127.75 L551.23,127.75 L548.33,132.95 Z" fill="#b5277e"/>
<path d="M555.20,131.28 L561.00,131.28 L558.10,136.47 Z" fill="#b5277e"/>
<path d="M564.98,127.75 L570.77,127.75 L567.88,132.95 Z" fill="#b5277e"/>
<path d="M574.75,114.84 L580.55,114.84 L577.65,120.04 Z" fill="#b5277e"/>
<path d="M584.52,103.90 L590.32,103.90 L587.42,109.10 Z" fill="#b5277e"/>
<path d="M594.30,85.90 L600.10,85.90 L597.20,91.10 Z" fill="#b5277e"/>
<path d="M604.08,66.80 L609.88,66.80 L606.98,72.00 Z" fill="#b5277e"/>
<path d="M613.85,47.06 L619.65,47.06 L616.75,52.26 Z" fill="#b5277e"/>
<path d="M623.62,31.81 L629.42,31.81 L626.52,37.01 Z" fill="#b5277e"/>
<path d="M633.40,33.92 L639.20,33.92 L636.30,39.12 Z" fill="#b5277e"/>
<path d="M643.18,40.75 L648.98,40.75 L646.08,45.95 Z" fill="#b5277e"/>
<path d="M652.95,50.22 L658.75,50.22 L655.85,55.42 Z" fill="#b5277e"/>
<path d="M662.73,69.41 L668.52,69.41 L665.62,74.61 Z" fill="#b5277e"/>
<path d="M672.50,85.90 L678.30,85.90 L675.40,91.10 Z" fill="#b5277e"/>
<path d="M519.00,88.10 L519.98,90.85 L520.96,93.60 L521.93,96.34 L522.91,99.07 L523.89,101.78 L524.87,104.47 L525.84,107.13 L526.82,109.77 L527.80,112.37 L528.77,114.94 L529.75,117.46 L530.73,119.94 L531.71,122.36 L532.68,124.74 L533.66,127.06 L534.64,129.32 L535.62,131.51 L536.60,133.64 L537.57,135.70 L538.55,137.69 L539.53,139.59 L540.50,141.42 L541.48,143.17 L542.46,144.83 L543.44,146.41 L544.41,147.89 L545.39,149.28 L546.37,150.58 L547.35,151.78 L548.33,152.89 L549.30,153.89 L550.28,154.79 L551.26,155.59 L552.24,156.29 L553.21,156.88 L554.19,157.36 L555.17,157.74 L556.14,158.01 L557.12,158.17 L558.10,158.22 L559.08,158.17 L560.05,158.01 L561.03,157.74 L562.01,157.36 L562.99,156.88 L563.97,156.29 L564.94,155.59 L565.92,154.79 L566.90,153.89 L567.88,152.89 L568.85,151.78 L569.83,150.58 L570.81,149.28 L571.78,147.89 L572.76,146.41 L573.74,144.83 L574.72,143.17 L575.70,141.42 L576.67,139.59 L577.65,137.69 L578.63,135.70 L579.61,133.64 L580.58,131.51 L581.56,129.32 L582.54,127.06 L583.51,124.74 L584.49,122.36 L585.47,119.94 L586.45,117.46 L587.42,114.94 L588.40,112.37 L589.38,109.77 L590.36,107.13 L591.34,104.47 L592.31,101.78 L593.29,99.07 L594.27,96.34 L595.25,93.60 L596.22,90.85 L597.20,88.10 L598.18,85.35 L599.15,82.60 L600.13,79.86 L601.11,77.13 L602.09,74.42 L603.07,71.73 L604.04,69.07 L605.02,66.43 L606.00,63.83 L606.98,61.26 L607.95,58.74 L608.93,56.26 L609.91,53.84 L610.88,51.46 L611.86,49.14 L612.84,46.88 L613.82,44.69 L614.80,42.56 L615.77,40.50 L616.75,38.51 L617.73,36.61 L618.71,34.78 L619.68,33.03 L620.66,31.37 L621.64,29.79 L622.62,28.31 L623.59,26.92 L624.57,25.62 L625.55,24.42 L626.52,23.31 L627.50,22.31 L628.48,21.41 L629.46,20.61 L630.43,19.91 L631.41,19.32 L632.39,18.84 L633.37,18.46 L634.35,18.19 L635.32,18.03 L636.30,17.97 L637.28,18.03 L638.25,18.19 L639.23,18.46 L640.21,18.84 L641.19,19.32 L642.16,19.91 L643.14,20.61 L644.12,21.41 L645.10,22.31 L646.08,23.31 L647.05,24.42 L648.03,25.62 L649.01,26.92 L649.99,28.31 L650.96,29.79 L651.94,31.37 L652.92,33.03 L653.89,34.78 L654.87,36.61 L655.85,38.51 L656.83,40.50 L657.81,42.56 L658.78,44.69 L659.76,46.88 L660.74,49.14 L661.72,51.46 L662.69,53.84 L663.67,56.26 L664.65,58.74 L665.62,61.26 L666.60,63.83 L667.58,66.43 L668.56,69.07 L669.53,71.73 L670.51,74.42 L671.49,77.13 L672.47,79.86 L673.45,82.60 L674.42,85.35 L675.40,88.10" fill="none" stroke="#f98b5c" stroke-width="1.2"/>
<circle cx="519.00" cy="91.95" r="3.0" fill="#f98b5c"/>
<circle cx="528.77" cy="119.75" r="3.0" fill="#f98b5c"/>
<circle cx="538.55" cy="137.00" r="3.0" fill="#f98b5c"/>
<circle cx="548.33" cy="147.25" r="3.0" fill="#f98b5c"/>
<circle cx="558.10" cy="152.45" r="3.0" fill="#f98b5c"/>
<circle cx="567.88" cy="149.31" r="3.0" fill="#f98b5c"/>
<circle cx="577.65" cy="133.56" r="3.0" fill="#f98b5c"/>
<circle cx="587.42" cy="111.36" r="3.0" fill="#f98b5c"/>
<circle cx="597.20" cy="86.73" r="3.0" fill="#f98b5c"/>
<circle cx="606.98" cy="51.78" r="3.0" fill="#f98b5c"/>
<circle cx="616.75" cy="35.49" r="3.0" fill="#f98b5c"/>
<circle cx="626.52" cy="20.98" r="3.0" fill="#f98b5c"/>
<circle cx="636.30" cy="17.97" r="3.0" fill="#f98b5c"/>
<circle cx="646.08" cy="23.31" r="3.0" fill="#f98b5c"/>
<circle cx="655.85" cy="35.49" r="3.0" fill="#f98b5c"/>
<circle cx="665.62" cy="56.45" r="3.0" fill="#f98b5c"/>
<circle cx="675.40" cy="87.41" r="2.75" fill="#000"/>
<circle cx="675.40" cy="91.54" r="3.0" fill="#f98b5c"/>
<rect x="514.5" y="5.6" width="165.89999999999998" height="164.9" fill="none" stroke="#000" stroke-width="1.0"/>
<line x1="514.5" y1="5.60" x2="517.5" y2="5.60" stroke="#000" stroke-width="0.8"/>
<line x1="680.4" y1="5.60" x2="677.4" y2="5.60" stroke="#000" stroke-width="0.8"/>
<text x="510.3" y="10.599999999999994" font-size="10.4" text-anchor="end" fill="#000" font-weight="normal" font-style="normal" >6</text>
<line x1="514.5" y1="33.10" x2="517.5" y2="33.10" stroke="#000" stroke-width="0.8"/>
<line x1="680.4" y1="33.10" x2="677.4" y2="33.10" stroke="#000" stroke-width="0.8"/>
<text x="510.3" y="37.099999999999994" font-size="10.4" text-anchor="end" fill="#000" font-weight="normal" font-style="normal" >4</text>
<line x1="514.5" y1="60.60" x2="517.5" y2="60.60" stroke="#000" stroke-width="0.8"/>
<line x1="680.4" y1="60.60" x2="677.4" y2="60.60" stroke="#000" stroke-width="0.8"/>
<text x="510.3" y="64.6" font-size="10.4" text-anchor="end" fill="#000" font-weight="normal" font-style="normal" >2</text>
<line x1="514.5" y1="88.10" x2="517.5" y2="88.10" stroke="#000" stroke-width="0.8"/>
<line x1="680.4" y1="88.10" x2="677.4" y2="88.10" stroke="#000" stroke-width="0.8"/>
<text x="510.3" y="92.1" font-size="10.4" text-anchor="end" fill="#000" font-weight="normal" font-style="normal" >0</text>
<line x1="514.5" y1="115.60" x2="517.5" y2="115.60" stroke="#000" stroke-width="0.8"/>
<line x1="680.4" y1="115.60" x2="677.4" y2="115.60" stroke="#000" stroke-width="0.8"/>
<text x="510.3" y="119.6" font-size="10.4" text-anchor="end" fill="#000" font-weight="normal" font-style="normal" >-2</text>
<line x1="514.5" y1="143.10" x2="517.5" y2="143.10" stroke="#000" stroke-width="0.8"/>
<line x1="680.4" y1="143.10" x2="677.4" y2="143.10" stroke="#000" stroke-width="0.8"/>
<text x="510.3" y="147.1" font-size="10.4" text-anchor="end" fill="#000" font-weight="normal" font-style="normal" >-4</text>
<line x1="514.5" y1="170.60" x2="517.5" y2="170.60" stroke="#000" stroke-width="0.8"/>
<line x1="680.4" y1="170.60" x2="677.4" y2="170.60" stroke="#000" stroke-width="0.8"/>
<text x="510.3" y="173.6" font-size="10.4" text-anchor="end" fill="#000" font-weight="normal" font-style="normal" >-6</text>
<line x1="519.00" y1="170.5" x2="519.00" y2="167.5" stroke="#000" stroke-width="0.8"/>
<line x1="519.00" y1="5.6" x2="519.00" y2="8.6" stroke="#000" stroke-width="0.8"/>
<line x1="558.10" y1="170.5" x2="558.10" y2="167.5" stroke="#000" stroke-width="0.8"/>
<line x1="558.10" y1="5.6" x2="558.10" y2="8.6" stroke="#000" stroke-width="0.8"/>
<line x1="597.20" y1="170.5" x2="597.20" y2="167.5" stroke="#000" stroke-width="0.8"/>
<line x1="597.20" y1="5.6" x2="597.20" y2="8.6" stroke="#000" stroke-width="0.8"/>
<line x1="636.30" y1="170.5" x2="636.30" y2="167.5" stroke="#000" stroke-width="0.8"/>
<line x1="636.30" y1="5.6" x2="636.30" y2="8.6" stroke="#000" stroke-width="0.8"/>
<line x1="675.40" y1="170.5" x2="675.40" y2="167.5" stroke="#000" stroke-width="0.8"/>
<line x1="675.40" y1="5.6" x2="675.40" y2="8.6" stroke="#000" stroke-width="0.8"/>
<circle cx="525.9" cy="16.9" r="2.5" fill="#000"/>
<text x="531.8" y="20.0" font-size="8.8" text-anchor="start" fill="#000" font-weight="normal" font-style="normal" >-5 ps</text>
<rect x="523.6" y="26.2" width="4.6" height="4.6" fill="#4b2a8c"/>
<text x="531.8" y="31.6" font-size="8.8" text-anchor="start" fill="#000" font-weight="normal" font-style="normal" >50 ps</text>
<path d="M523.1,38.0 L528.7,38.0 L525.9,43.0 Z" fill="#b5277e"/>
<text x="531.8" y="43.3" font-size="8.8" text-anchor="start" fill="#000" font-weight="normal" font-style="normal" >100 ps</text>
<circle cx="525.9" cy="51.3" r="2.75" fill="#f98b5c"/>
<text x="531.8" y="54.3" font-size="8.8" text-anchor="start" fill="#000" font-weight="normal" font-style="normal" >300 ps</text>
<text x="597.3" y="198.5" font-size="10.2" text-anchor="middle" fill="#000" font-weight="normal" font-style="normal" >Photon polarization</text>
<text x="496.3" y="88" font-size="10.0" text-anchor="middle" fill="#000" font-weight="normal" font-style="normal" transform="rotate(-90 496.3 88)" >DW position (<tspan font-style="italic">μ</tspan>m)</text>
<line x1="519.0" y1="176.4" x2="519.0" y2="184.6" stroke="#111" stroke-width="1.0"/>
<path d="M519.0,173.8 L517.3,176.9 L520.7,176.9 Z" fill="#111"/><path d="M519.0,187.2 L517.3,184.1 L520.7,184.1 Z" fill="#111"/>
<line x1="675.4" y1="176.4" x2="675.4" y2="184.6" stroke="#111" stroke-width="1.0"/>
<path d="M675.4,173.8 L673.6999999999999,176.9 L677.1,176.9 Z" fill="#111"/><path d="M675.4,187.2 L673.6999999999999,184.1 L677.1,184.1 Z" fill="#111"/>
<line x1="592.9000000000001" y1="180.6" x2="601.5" y2="180.6" stroke="#111" stroke-width="1.0"/>
<path d="M590.3000000000001,180.6 L593.4000000000001,178.9 L593.4000000000001,182.29999999999998 Z" fill="#111"/><path d="M604.1,180.6 L601.0,178.9 L601.0,182.29999999999998 Z" fill="#111"/>
<ellipse cx="538.55" cy="180.6" rx="3.2" ry="6.1" fill="none" stroke="#111" stroke-width="1.0"/>
<path d="M539.96,186.49 L539.99,182.97 L542.89,184.55 Z" fill="#111"/>
<ellipse cx="558.10" cy="180.6" rx="6.2" ry="6.2" fill="none" stroke="#111" stroke-width="1.0"/>
<path d="M560.98,186.35 L562.18,183.05 L564.39,185.50 Z" fill="#111"/>
<ellipse cx="577.65" cy="180.6" rx="6.1" ry="3.2" fill="none" stroke="#111" stroke-width="1.0"/>
<path d="M579.26,183.84 L581.69,181.31 L582.72,184.45 Z" fill="#111"/>
<ellipse cx="616.75" cy="180.6" rx="6.1" ry="3.2" fill="none" stroke="#111" stroke-width="1.0"/>
<path d="M615.14,183.84 L611.68,184.45 L612.71,181.31 Z" fill="#111"/>
<ellipse cx="636.30" cy="180.6" rx="6.2" ry="6.2" fill="none" stroke="#111" stroke-width="1.0"/>
<path d="M633.42,186.35 L630.01,185.50 L632.22,183.05 Z" fill="#111"/>
<ellipse cx="655.85" cy="180.6" rx="3.2" ry="6.1" fill="none" stroke="#111" stroke-width="1.0"/>
<path d="M654.44,186.49 L651.51,184.55 L654.41,182.97 Z" fill="#111"/>
</g>
<g id="pc">
<text x="7.4" y="232.6" font-size="11.8" text-anchor="start" fill="#000" font-weight="bold" font-style="normal" >c</text>
<text x="74.95" y="233.2" font-size="9.8" text-anchor="middle" fill="#000" font-weight="normal" font-style="normal" ><tspan font-style="italic">t</tspan> &lt; 0</text>
<text x="145.22" y="233.2" font-size="9.8" text-anchor="middle" fill="#000" font-weight="normal" font-style="normal" >1 ps</text>
<text x="215.49" y="233.2" font-size="9.8" text-anchor="middle" fill="#000" font-weight="normal" font-style="normal" >10 ps</text>
<text x="285.76" y="233.2" font-size="9.8" text-anchor="middle" fill="#000" font-weight="normal" font-style="normal" >150 ps</text>
<text x="356.0299999999999" y="233.2" font-size="9.8" text-anchor="middle" fill="#000" font-weight="normal" font-style="normal" >300 ps</text>
<text x="426.2999999999999" y="233.2" font-size="9.8" text-anchor="middle" fill="#000" font-weight="normal" font-style="normal" >1200 ps</text>
<text x="6.8" y="255.6" font-size="10" text-anchor="start" fill="#000" font-weight="normal" font-style="normal" >LCP</text>
<text x="2.2" y="298.6" font-size="10" text-anchor="start" fill="#000" font-weight="normal" font-style="normal" >Linear</text>
<text x="5.8" y="341.8" font-size="10" text-anchor="start" fill="#000" font-weight="normal" font-style="normal" >RCP</text>
<ellipse cx="35.00" cy="251.8" rx="5.6" ry="5.6" fill="none" stroke="#111" stroke-width="1.05"/>
<path d="M32.90,257.26 L29.44,256.65 L31.47,254.05 Z" fill="#111"/>
<ellipse cx="35.00" cy="338" rx="5.6" ry="5.6" fill="none" stroke="#111" stroke-width="1.05"/>
<path d="M37.10,343.46 L38.53,340.25 L40.56,342.85 Z" fill="#111"/>
<line x1="36.4" y1="288.3" x2="36.4" y2="303.7" stroke="#111" stroke-width="1.05"/>
<path d="M36.4,285 L34.4,288.8 L38.4,288.8 Z" fill="#111"/><path d="M36.4,307 L34.4,303.2 L38.4,303.2 Z" fill="#111"/>
<g>
<clipPath id="cp00"><rect x="43.15" y="235.1" width="66.8" height="33.5"/></clipPath>
<g clip-path="url(#cp00)">
<rect x="43.15" y="235.1" width="66.8" height="33.5" fill="#1c1616"/>
<ellipse cx="77.55" cy="243.1" rx="10" ry="9" fill="#9a9292" filter="url(#blur5)" opacity="0.5"/>
<path d="M38.15,252.59 L39.11,252.59 L40.07,252.59 L41.03,252.59 L41.99,252.59 L42.95,252.58 L43.91,252.58 L44.87,252.58 L45.83,252.57 L46.79,252.57 L47.75,252.56 L48.71,252.56 L49.67,252.55 L50.63,252.55 L51.59,252.54 L52.55,252.53 L53.51,252.52 L54.47,252.51 L55.43,252.50 L56.39,252.49 L57.35,252.48 L58.31,252.47 L59.27,252.46 L60.23,252.45 L61.19,252.44 L62.15,252.42 L63.11,252.41 L64.07,252.40 L65.03,252.39 L65.99,252.37 L66.95,252.36 L67.91,252.35 L68.87,252.34 L69.83,252.33 L70.79,252.32 L71.75,252.32 L72.71,252.31 L73.67,252.31 L74.63,252.30 L75.59,252.30 L76.55,252.30 L77.51,252.30 L78.47,252.30 L79.43,252.31 L80.39,252.31 L81.35,252.32 L82.31,252.32 L83.27,252.33 L84.23,252.34 L85.19,252.35 L86.15,252.36 L87.11,252.37 L88.07,252.39 L89.03,252.40 L89.99,252.41 L90.95,252.42 L91.91,252.44 L92.87,252.45 L93.83,252.46 L94.79,252.47 L95.75,252.48 L96.71,252.49 L97.67,252.50 L98.63,252.51 L99.59,252.52 L100.55,252.53 L101.51,252.54 L102.47,252.55 L103.43,252.55 L104.39,252.56 L105.35,252.56 L106.31,252.57 L107.27,252.57 L108.23,252.58 L109.19,252.58 L110.15,252.58 L111.11,252.59 L112.07,252.59 L113.03,252.59 L113.99,252.59 L114.95,252.59" fill="none" stroke="#5e5656" stroke-width="11.5" filter="url(#blur3)" opacity="0.80"/>
<path d="M38.15,252.59 L39.11,252.59 L40.07,252.59 L41.03,252.59 L41.99,252.59 L42.95,252.58 L43.91,252.58 L44.87,252.58 L45.83,252.57 L46.79,252.57 L47.75,252.56 L48.71,252.56 L49.67,252.55 L50.63,252.55 L51.59,252.54 L52.55,252.53 L53.51,252.52 L54.47,252.51 L55.43,252.50 L56.39,252.49 L57.35,252.48 L58.31,252.47 L59.27,252.46 L60.23,252.45 L61.19,252.44 L62.15,252.42 L63.11,252.41 L64.07,252.40 L65.03,252.39 L65.99,252.37 L66.95,252.36 L67.91,252.35 L68.87,252.34 L69.83,252.33 L70.79,252.32 L71.75,252.32 L72.71,252.31 L73.67,252.31 L74.63,252.30 L75.59,252.30 L76.55,252.30 L77.51,252.30 L78.47,252.30 L79.43,252.31 L80.39,252.31 L81.35,252.32 L82.31,252.32 L83.27,252.33 L84.23,252.34 L85.19,252.35 L86.15,252.36 L87.11,252.37 L88.07,252.39 L89.03,252.40 L89.99,252.41 L90.95,252.42 L91.91,252.44 L92.87,252.45 L93.83,252.46 L94.79,252.47 L95.75,252.48 L96.71,252.49 L97.67,252.50 L98.63,252.51 L99.59,252.52 L100.55,252.53 L101.51,252.54 L102.47,252.55 L103.43,252.55 L104.39,252.56 L105.35,252.56 L106.31,252.57 L107.27,252.57 L108.23,252.58 L109.19,252.58 L110.15,252.58 L111.11,252.59 L112.07,252.59 L113.03,252.59 L113.99,252.59 L114.95,252.59" fill="none" stroke="#d4cfcf" stroke-width="6.2" filter="url(#blur2)" opacity="1.00"/>
<path d="M38.15,252.59 L39.11,252.59 L40.07,252.59 L41.03,252.59 L41.99,252.59 L42.95,252.58 L43.91,252.58 L44.87,252.58 L45.83,252.57 L46.79,252.57 L47.75,252.56 L48.71,252.56 L49.67,252.55 L50.63,252.55 L51.59,252.54 L52.55,252.53 L53.51,252.52 L54.47,252.51 L55.43,252.50 L56.39,252.49 L57.35,252.48 L58.31,252.47 L59.27,252.46 L60.23,252.45 L61.19,252.44 L62.15,252.42 L63.11,252.41 L64.07,252.40 L65.03,252.39 L65.99,252.37 L66.95,252.36 L67.91,252.35 L68.87,252.34 L69.83,252.33 L70.79,252.32 L71.75,252.32 L72.71,252.31 L73.67,252.31 L74.63,252.30 L75.59,252.30 L76.55,252.30 L77.51,252.30 L78.47,252.30 L79.43,252.31 L80.39,252.31 L81.35,252.32 L82.31,252.32 L83.27,252.33 L84.23,252.34 L85.19,252.35 L86.15,252.36 L87.11,252.37 L88.07,252.39 L89.03,252.40 L89.99,252.41 L90.95,252.42 L91.91,252.44 L92.87,252.45 L93.83,252.46 L94.79,252.47 L95.75,252.48 L96.71,252.49 L97.67,252.50 L98.63,252.51 L99.59,252.52 L100.55,252.53 L101.51,252.54 L102.47,252.55 L103.43,252.55 L104.39,252.56 L105.35,252.56 L106.31,252.57 L107.27,252.57 L108.23,252.58 L109.19,252.58 L110.15,252.58 L111.11,252.59 L112.07,252.59 L113.03,252.59 L113.99,252.59 L114.95,252.59" fill="none" stroke="#ffffff" stroke-width="3.2" filter="url(#blur1)" opacity="0.75"/>
<rect x="43.15" y="235.1" width="66.8" height="33.5" fill="url(#edgeg)"/>
<rect x="43.15" y="235.1" width="66.8" height="33.5" filter="url(#noisel)" style="mix-blend-mode:multiply"/>
<rect x="43.15" y="235.1" width="66.8" height="33.5" filter="url(#noisem)" style="mix-blend-mode:multiply"/>
</g>
<clipPath id="cp01"><rect x="113.42" y="235.1" width="66.8" height="33.5"/></clipPath>
<g clip-path="url(#cp01)">
<rect x="113.42" y="235.1" width="66.8" height="33.5" fill="#1c1616"/>
<ellipse cx="147.82" cy="243.1" rx="10" ry="9" fill="#9a9292" filter="url(#blur5)" opacity="0.45"/>
<path d="M108.42,252.50 L109.38,252.50 L110.34,252.50 L111.30,252.50 L112.26,252.50 L113.22,252.50 L114.18,252.50 L115.14,252.50 L116.10,252.50 L117.06,252.50 L118.02,252.50 L118.98,252.50 L119.94,252.50 L120.90,252.50 L121.86,252.50 L122.82,252.50 L123.78,252.50 L124.74,252.50 L125.70,252.50 L126.66,252.50 L127.62,252.50 L128.58,252.50 L129.54,252.50 L130.50,252.50 L131.46,252.50 L132.42,252.50 L133.38,252.50 L134.34,252.50 L135.30,252.50 L136.26,252.50 L137.22,252.50 L138.18,252.50 L139.14,252.50 M150.66,252.50 L151.62,252.50 L152.58,252.50 L153.54,252.50 L154.50,252.50 L155.46,252.50 L156.42,252.50 L157.38,252.50 L158.34,252.50 L159.30,252.50 L160.26,252.50 L161.22,252.50 L162.18,252.50 L163.14,252.50 L164.10,252.50 L165.06,252.50 L166.02,252.50 L166.98,252.50 L167.94,252.50 L168.90,252.50 L169.86,252.50 L170.82,252.50 L171.78,252.50 L172.74,252.50 L173.70,252.50 L174.66,252.50 L175.62,252.50 L176.58,252.50 L177.54,252.50 L178.50,252.50 L179.46,252.50 L180.42,252.50 L181.38,252.50 L182.34,252.50 L183.30,252.50 L184.26,252.50 L185.22,252.50" fill="none" stroke="#5e5656" stroke-width="8.0" filter="url(#blur3)" opacity="0.60"/>
<path d="M108.42,252.50 L109.38,252.50 L110.34,252.50 L111.30,252.50 L112.26,252.50 L113.22,252.50 L114.18,252.50 L115.14,252.50 L116.10,252.50 L117.06,252.50 L118.02,252.50 L118.98,252.50 L119.94,252.50 L120.90,252.50 L121.86,252.50 L122.82,252.50 L123.78,252.50 L124.74,252.50 L125.70,252.50 L126.66,252.50 L127.62,252.50 L128.58,252.50 L129.54,252.50 L130.50,252.50 L131.46,252.50 L132.42,252.50 L133.38,252.50 L134.34,252.50 L135.30,252.50 L136.26,252.50 M153.54,252.50 L154.50,252.50 L155.46,252.50 L156.42,252.50 L157.38,252.50 L158.34,252.50 L159.30,252.50 L160.26,252.50 L161.22,252.50 L162.18,252.50 L163.14,252.50 L164.10,252.50 L165.06,252.50 L166.02,252.50 L166.98,252.50 L167.94,252.50 L168.90,252.50 L169.86,252.50 L170.82,252.50 L171.78,252.50 L172.74,252.50 L173.70,252.50 L174.66,252.50 L175.62,252.50 L176.58,252.50 L177.54,252.50 L178.50,252.50 L179.46,252.50 L180.42,252.50 L181.38,252.50 L182.34,252.50 L183.30,252.50 L184.26,252.50 L185.22,252.50" fill="none" stroke="#d4cfcf" stroke-width="4.3" filter="url(#blur2)" opacity="0.75"/>
<path d="M108.42,252.50 L109.38,252.50 L110.34,252.50 L111.30,252.50 L112.26,252.50 L113.22,252.50 L114.18,252.50 L115.14,252.50 L116.10,252.50 L117.06,252.50 L118.02,252.50 L118.98,252.50 L119.94,252.50 L120.90,252.50 L121.86,252.50 L122.82,252.50 L123.78,252.50 L124.74,252.50 L125.70,252.50 L126.66,252.50 L127.62,252.50 L128.58,252.50 L129.54,252.50 L130.50,252.50 L131.46,252.50 L132.42,252.50 L133.38,252.50 L134.34,252.50 L135.30,252.50 L136.26,252.50 M153.54,252.50 L154.50,252.50 L155.46,252.50 L156.42,252.50 L157.38,252.50 L158.34,252.50 L159.30,252.50 L160.26,252.50 L161.22,252.50 L162.18,252.50 L163.14,252.50 L164.10,252.50 L165.06,252.50 L166.02,252.50 L166.98,252.50 L167.94,252.50 L168.90,252.50 L169.86,252.50 L170.82,252.50 L171.78,252.50 L172.74,252.50 L173.70,252.50 L174.66,252.50 L175.62,252.50 L176.58,252.50 L177.54,252.50 L178.50,252.50 L179.46,252.50 L180.42,252.50 L181.38,252.50 L182.34,252.50 L183.30,252.50 L184.26,252.50 L185.22,252.50" fill="none" stroke="#ffffff" stroke-width="2.2" filter="url(#blur1)" opacity="0.56"/>
<rect x="113.42" y="235.1" width="66.8" height="33.5" fill="url(#edgeg)"/>
<rect x="113.42" y="235.1" width="66.8" height="33.5" filter="url(#noisel)" style="mix-blend-mode:multiply"/>
<rect x="113.42" y="235.1" width="66.8" height="33.5" filter="url(#noisem)" style="mix-blend-mode:multiply"/>
</g>
<clipPath id="cp02"><rect x="183.69" y="235.1" width="66.8" height="33.5"/></clipPath>
<g clip-path="url(#cp02)">
<rect x="183.69" y="235.1" width="66.8" height="33.5" fill="#1c1616"/>
<ellipse cx="218.09" cy="243.1" rx="10" ry="9" fill="#9a9292" filter="url(#blur5)" opacity="0.35"/>
<path d="M178.69,252.30 L179.65,252.28 L180.61,252.27 L181.57,252.25 L182.53,252.24 L183.49,252.22 L184.45,252.21 L185.41,252.19 L186.37,252.17 L187.33,252.16 L188.29,252.14 L189.25,252.12 L190.21,252.10 L191.17,252.09 L192.13,252.07 L193.09,252.05 L194.05,252.03 L195.01,252.01 L195.97,251.99 L196.93,251.97 L197.89,251.94 L198.85,251.92 L199.81,251.90 L200.77,251.88 L201.73,251.85 L202.69,251.83 L203.65,251.80 L204.61,251.78 L205.57,251.75 L206.53,251.73 L207.49,251.70 L208.45,251.68 L209.41,251.66 L210.37,251.63 L211.33,251.61 L212.29,251.59 L213.25,251.57 L214.21,251.55 L215.17,251.53 M219.01,251.47 L219.97,251.46 L220.93,251.45 L221.89,251.44 L222.85,251.43 L223.81,251.42 L224.77,251.42 L225.73,251.41 L226.69,251.40 L227.65,251.40 L228.61,251.39 L229.57,251.39 L230.53,251.38 L231.49,251.38 L232.45,251.37 L233.41,251.37 L234.37,251.36 L235.33,251.35 L236.29,251.34 L237.25,251.34 L238.21,251.33 L239.17,251.32 L240.13,251.31 L241.09,251.30 L242.05,251.29 L243.01,251.28 L243.97,251.26 L244.93,251.25 L245.89,251.24 L246.85,251.23 L247.81,251.21 L248.77,251.20 L249.73,251.19 L250.69,251.17 L251.65,251.16 L252.61,251.14 L253.57,251.13 L254.53,251.11 L255.49,251.10" fill="none" stroke="#5e5656" stroke-width="10.0" filter="url(#blur3)" opacity="0.76"/>
<path d="M178.69,252.30 L179.65,252.28 L180.61,252.27 L181.57,252.25 L182.53,252.24 L183.49,252.22 L184.45,252.21 L185.41,252.19 L186.37,252.17 L187.33,252.16 L188.29,252.14 L189.25,252.12 L190.21,252.10 L191.17,252.09 L192.13,252.07 L193.09,252.05 L194.05,252.03 L195.01,252.01 L195.97,251.99 L196.93,251.97 L197.89,251.94 L198.85,251.92 L199.81,251.90 L200.77,251.88 L201.73,251.85 L202.69,251.83 L203.65,251.80 L204.61,251.78 L205.57,251.75 L206.53,251.73 L207.49,251.70 L208.45,251.68 L209.41,251.66 L210.37,251.63 L211.33,251.61 L212.29,251.59 L213.25,251.57 L214.21,251.55 L215.17,251.53 M219.01,251.47 L219.97,251.46 L220.93,251.45 L221.89,251.44 L222.85,251.43 L223.81,251.42 L224.77,251.42 L225.73,251.41 L226.69,251.40 L227.65,251.40 L228.61,251.39 L229.57,251.39 L230.53,251.38 L231.49,251.38 L232.45,251.37 L233.41,251.37 L234.37,251.36 L235.33,251.35 L236.29,251.34 L237.25,251.34 L238.21,251.33 L239.17,251.32 L240.13,251.31 L241.09,251.30 L242.05,251.29 L243.01,251.28 L243.97,251.26 L244.93,251.25 L245.89,251.24 L246.85,251.23 L247.81,251.21 L248.77,251.20 L249.73,251.19 L250.69,251.17 L251.65,251.16 L252.61,251.14 L253.57,251.13 L254.53,251.11 L255.49,251.10" fill="none" stroke="#d4cfcf" stroke-width="5.4" filter="url(#blur2)" opacity="0.95"/>
<path d="M178.69,252.30 L179.65,252.28 L180.61,252.27 L181.57,252.25 L182.53,252.24 L183.49,252.22 L184.45,252.21 L185.41,252.19 L186.37,252.17 L187.33,252.16 L188.29,252.14 L189.25,252.12 L190.21,252.10 L191.17,252.09 L192.13,252.07 L193.09,252.05 L194.05,252.03 L195.01,252.01 L195.97,251.99 L196.93,251.97 L197.89,251.94 L198.85,251.92 L199.81,251.90 L200.77,251.88 L201.73,251.85 L202.69,251.83 L203.65,251.80 L204.61,251.78 L205.57,251.75 L206.53,251.73 L207.49,251.70 L208.45,251.68 L209.41,251.66 L210.37,251.63 L211.33,251.61 L212.29,251.59 L213.25,251.57 L214.21,251.55 L215.17,251.53 M219.01,251.47 L219.97,251.46 L220.93,251.45 L221.89,251.44 L222.85,251.43 L223.81,251.42 L224.77,251.42 L225.73,251.41 L226.69,251.40 L227.65,251.40 L228.61,251.39 L229.57,251.39 L230.53,251.38 L231.49,251.38 L232.45,251.37 L233.41,251.37 L234.37,251.36 L235.33,251.35 L236.29,251.34 L237.25,251.34 L238.21,251.33 L239.17,251.32 L240.13,251.31 L241.09,251.30 L242.05,251.29 L243.01,251.28 L243.97,251.26 L244.93,251.25 L245.89,251.24 L246.85,251.23 L247.81,251.21 L248.77,251.20 L249.73,251.19 L250.69,251.17 L251.65,251.16 L252.61,251.14 L253.57,251.13 L254.53,251.11 L255.49,251.10" fill="none" stroke="#ffffff" stroke-width="2.8" filter="url(#blur1)" opacity="0.71"/>
<rect x="183.69" y="235.1" width="66.8" height="33.5" fill="url(#edgeg)"/>
<rect x="183.69" y="235.1" width="66.8" height="33.5" filter="url(#noisel)" style="mix-blend-mode:multiply"/>
<rect x="183.69" y="235.1" width="66.8" height="33.5" filter="url(#noisem)" style="mix-blend-mode:multiply"/>
</g>
<clipPath id="cp03"><rect x="253.96" y="235.1" width="66.8" height="33.5"/></clipPath>
<g clip-path="url(#cp03)">
<rect x="253.96" y="235.1" width="66.8" height="33.5" fill="#1c1616"/>
<path d="M248.96,251.10 L249.92,251.06 L250.88,251.02 L251.84,250.98 L252.80,250.94 L253.76,250.90 L254.72,250.86 L255.68,250.81 L256.64,250.77 L257.60,250.72 L258.56,250.67 L259.52,250.62 L260.48,250.57 L261.44,250.51 L262.40,250.44 L263.36,250.36 L264.32,250.26 L265.28,250.15 L266.24,250.02 L267.20,249.87 L268.16,249.69 L269.12,249.48 L270.08,249.23 L271.04,248.95 L272.00,248.62 L272.96,248.24 L273.92,247.83 L274.88,247.37 L275.84,246.87 L276.80,246.33 L277.76,245.78 L278.72,245.21 L279.68,244.63 L280.64,244.07 L281.60,243.54 L282.56,243.05 L283.52,242.62 L284.48,242.26 L285.44,241.98 L286.40,241.79 L287.36,241.70 L288.32,241.71 L289.28,241.82 L290.24,242.02 L291.20,242.30 L292.16,242.65 L293.12,243.06 L294.08,243.51 L295.04,243.99 L296.00,244.49 L296.96,244.98 L297.92,245.45 L298.88,245.91 L299.84,246.33 L300.80,246.71 L301.76,247.04 L302.72,247.34 L303.68,247.59 L304.64,247.79 L305.60,247.96 L306.56,248.09 L307.52,248.19 L308.48,248.26 L309.44,248.31 L310.40,248.34 L311.36,248.36 L312.32,248.36 L313.28,248.35 L314.24,248.33 L315.20,248.30 L316.16,248.27 L317.12,248.24 L318.08,248.21 L319.04,248.17 L320.00,248.14 L320.96,248.10 L321.92,248.06 L322.88,248.02 L323.84,247.98 L324.80,247.94 L325.76,247.90" fill="none" stroke="#5e5656" stroke-width="12.5" filter="url(#blur3)" opacity="0.76"/>
<path d="M248.96,251.10 L249.92,251.06 L250.88,251.02 L251.84,250.98 L252.80,250.94 L253.76,250.90 L254.72,250.86 L255.68,250.81 L256.64,250.77 L257.60,250.72 L258.56,250.67 L259.52,250.62 L260.48,250.57 L261.44,250.51 L262.40,250.44 L263.36,250.36 L264.32,250.26 L265.28,250.15 L266.24,250.02 L267.20,249.87 L268.16,249.69 L269.12,249.48 L270.08,249.23 L271.04,248.95 L272.00,248.62 L272.96,248.24 L273.92,247.83 L274.88,247.37 L275.84,246.87 L276.80,246.33 L277.76,245.78 L278.72,245.21 L279.68,244.63 L280.64,244.07 L281.60,243.54 L282.56,243.05 L283.52,242.62 L284.48,242.26 L285.44,241.98 L286.40,241.79 L287.36,241.70 L288.32,241.71 L289.28,241.82 L290.24,242.02 L291.20,242.30 L292.16,242.65 L293.12,243.06 L294.08,243.51 L295.04,243.99 L296.00,244.49 L296.96,244.98 L297.92,245.45 L298.88,245.91 L299.84,246.33 L300.80,246.71 L301.76,247.04 L302.72,247.34 L303.68,247.59 L304.64,247.79 L305.60,247.96 L306.56,248.09 L307.52,248.19 L308.48,248.26 L309.44,248.31 L310.40,248.34 L311.36,248.36 L312.32,248.36 L313.28,248.35 L314.24,248.33 L315.20,248.30 L316.16,248.27 L317.12,248.24 L318.08,248.21 L319.04,248.17 L320.00,248.14 L320.96,248.10 L321.92,248.06 L322.88,248.02 L323.84,247.98 L324.80,247.94 L325.76,247.90" fill="none" stroke="#d4cfcf" stroke-width="6.8" filter="url(#blur2)" opacity="0.95"/>
<path d="M248.96,251.10 L249.92,251.06 L250.88,251.02 L251.84,250.98 L252.80,250.94 L253.76,250.90 L254.72,250.86 L255.68,250.81 L256.64,250.77 L257.60,250.72 L258.56,250.67 L259.52,250.62 L260.48,250.57 L261.44,250.51 L262.40,250.44 L263.36,250.36 L264.32,250.26 L265.28,250.15 L266.24,250.02 L267.20,249.87 L268.16,249.69 L269.12,249.48 L270.08,249.23 L271.04,248.95 L272.00,248.62 L272.96,248.24 L273.92,247.83 L274.88,247.37 L275.84,246.87 L276.80,246.33 L277.76,245.78 L278.72,245.21 L279.68,244.63 L280.64,244.07 L281.60,243.54 L282.56,243.05 L283.52,242.62 L284.48,242.26 L285.44,241.98 L286.40,241.79 L287.36,241.70 L288.32,241.71 L289.28,241.82 L290.24,242.02 L291.20,242.30 L292.16,242.65 L293.12,243.06 L294.08,243.51 L295.04,243.99 L296.00,244.49 L296.96,244.98 L297.92,245.45 L298.88,245.91 L299.84,246.33 L300.80,246.71 L301.76,247.04 L302.72,247.34 L303.68,247.59 L304.64,247.79 L305.60,247.96 L306.56,248.09 L307.52,248.19 L308.48,248.26 L309.44,248.31 L310.40,248.34 L311.36,248.36 L312.32,248.36 L313.28,248.35 L314.24,248.33 L315.20,248.30 L316.16,248.27 L317.12,248.24 L318.08,248.21 L319.04,248.17 L320.00,248.14 L320.96,248.10 L321.92,248.06 L322.88,248.02 L323.84,247.98 L324.80,247.94 L325.76,247.90" fill="none" stroke="#ffffff" stroke-width="3.5" filter="url(#blur1)" opacity="0.71"/>
<rect x="253.96" y="235.1" width="66.8" height="33.5" fill="url(#edgeg)"/>
<rect x="253.96" y="235.1" width="66.8" height="33.5" filter="url(#noisel)" style="mix-blend-mode:multiply"/>
<rect x="253.96" y="235.1" width="66.8" height="33.5" filter="url(#noisem)" style="mix-blend-mode:multiply"/>
</g>
<clipPath id="cp04"><rect x="324.23" y="235.1" width="66.8" height="33.5"/></clipPath>
<g clip-path="url(#cp04)">
<rect x="324.23" y="235.1" width="66.8" height="33.5" fill="#1c1616"/>
<path d="M319.23,250.02 L320.19,249.94 L321.15,249.86 L322.11,249.76 L323.07,249.66 L324.03,249.55 L324.99,249.43 L325.95,249.29 L326.91,249.15 L327.87,249.00 L328.83,248.83 L329.79,248.65 L330.75,248.45 L331.71,248.25 L332.67,248.03 L333.63,247.79 L334.59,247.55 L335.55,247.29 L336.51,247.01 L337.47,246.73 L338.43,246.44 L339.39,246.14 L340.35,245.83 L341.31,245.52 L342.27,245.20 L343.23,244.88 L344.19,244.57 L345.15,244.25 L346.11,243.95 L347.07,243.65 L348.03,243.37 L348.99,243.10 L349.95,242.85 L350.91,242.62 L351.87,242.41 L352.83,242.22 L353.79,242.06 L354.75,241.93 L355.71,241.82 L356.67,241.75 L357.63,241.70 L358.59,241.69 L359.55,241.70 L360.51,241.75 L361.47,241.82 L362.43,241.92 L363.39,242.05 L364.35,242.20 L365.31,242.37 L366.27,242.56 L367.23,242.77 L368.19,242.99 L369.15,243.23 L370.11,243.47 L371.07,243.73 L372.03,243.98 L372.99,244.24 L373.95,244.50 L374.91,244.75 L375.87,245.00 L376.83,245.24 L377.79,245.47 L378.75,245.69 L379.71,245.91 L380.67,246.11 L381.63,246.29 L382.59,246.47 L383.55,246.63 L384.51,246.77 L385.47,246.91 L386.43,247.03 L387.39,247.14 L388.35,247.23 L389.31,247.31 L390.27,247.39 L391.23,247.45 L392.19,247.50 L393.15,247.54 L394.11,247.58 L395.07,247.60 L396.03,247.62" fill="none" stroke="#5e5656" stroke-width="12.5" filter="url(#blur3)" opacity="0.80"/>
<path d="M319.23,250.02 L320.19,249.94 L321.15,249.86 L322.11,249.76 L323.07,249.66 L324.03,249.55 L324.99,249.43 L325.95,249.29 L326.91,249.15 L327.87,249.00 L328.83,248.83 L329.79,248.65 L330.75,248.45 L331.71,248.25 L332.67,248.03 L333.63,247.79 L334.59,247.55 L335.55,247.29 L336.51,247.01 L337.47,246.73 L338.43,246.44 L339.39,246.14 L340.35,245.83 L341.31,245.52 L342.27,245.20 L343.23,244.88 L344.19,244.57 L345.15,244.25 L346.11,243.95 L347.07,243.65 L348.03,243.37 L348.99,243.10 L349.95,242.85 L350.91,242.62 L351.87,242.41 L352.83,242.22 L353.79,242.06 L354.75,241.93 L355.71,241.82 L356.67,241.75 L357.63,241.70 L358.59,241.69 L359.55,241.70 L360.51,241.75 L361.47,241.82 L362.43,241.92 L363.39,242.05 L364.35,242.20 L365.31,242.37 L366.27,242.56 L367.23,242.77 L368.19,242.99 L369.15,243.23 L370.11,243.47 L371.07,243.73 L372.03,243.98 L372.99,244.24 L373.95,244.50 L374.91,244.75 L375.87,245.00 L376.83,245.24 L377.79,245.47 L378.75,245.69 L379.71,245.91 L380.67,246.11 L381.63,246.29 L382.59,246.47 L383.55,246.63 L384.51,246.77 L385.47,246.91 L386.43,247.03 L387.39,247.14 L388.35,247.23 L389.31,247.31 L390.27,247.39 L391.23,247.45 L392.19,247.50 L393.15,247.54 L394.11,247.58 L395.07,247.60 L396.03,247.62" fill="none" stroke="#d4cfcf" stroke-width="6.8" filter="url(#blur2)" opacity="1.00"/>
<path d="M319.23,250.02 L320.19,249.94 L321.15,249.86 L322.11,249.76 L323.07,249.66 L324.03,249.55 L324.99,249.43 L325.95,249.29 L326.91,249.15 L327.87,249.00 L328.83,248.83 L329.79,248.65 L330.75,248.45 L331.71,248.25 L332.67,248.03 L333.63,247.79 L334.59,247.55 L335.55,247.29 L336.51,247.01 L337.47,246.73 L338.43,246.44 L339.39,246.14 L340.35,245.83 L341.31,245.52 L342.27,245.20 L343.23,244.88 L344.19,244.57 L345.15,244.25 L346.11,243.95 L347.07,243.65 L348.03,243.37 L348.99,243.10 L349.95,242.85 L350.91,242.62 L351.87,242.41 L352.83,242.22 L353.79,242.06 L354.75,241.93 L355.71,241.82 L356.67,241.75 L357.63,241.70 L358.59,241.69 L359.55,241.70 L360.51,241.75 L361.47,241.82 L362.43,241.92 L363.39,242.05 L364.35,242.20 L365.31,242.37 L366.27,242.56 L367.23,242.77 L368.19,242.99 L369.15,243.23 L370.11,243.47 L371.07,243.73 L372.03,243.98 L372.99,244.24 L373.95,244.50 L374.91,244.75 L375.87,245.00 L376.83,245.24 L377.79,245.47 L378.75,245.69 L379.71,245.91 L380.67,246.11 L381.63,246.29 L382.59,246.47 L383.55,246.63 L384.51,246.77 L385.47,246.91 L386.43,247.03 L387.39,247.14 L388.35,247.23 L389.31,247.31 L390.27,247.39 L391.23,247.45 L392.19,247.50 L393.15,247.54 L394.11,247.58 L395.07,247.60 L396.03,247.62" fill="none" stroke="#ffffff" stroke-width="3.5" filter="url(#blur1)" opacity="0.75"/>
<rect x="324.23" y="235.1" width="66.8" height="33.5" fill="url(#edgeg)"/>
<rect x="324.23" y="235.1" width="66.8" height="33.5" filter="url(#noisel)" style="mix-blend-mode:multiply"/>
<rect x="324.23" y="235.1" width="66.8" height="33.5" filter="url(#noisem)" style="mix-blend-mode:multiply"/>
</g>
<clipPath id="cp05"><rect x="394.50" y="235.1" width="66.8" height="33.5"/></clipPath>
<g clip-path="url(#cp05)">
<rect x="394.50" y="235.1" width="66.8" height="33.5" fill="#1c1616"/>
<path d="M389.50,248.21 L390.46,248.20 L391.42,248.18 L392.38,248.17 L393.34,248.15 L394.30,248.13 L395.26,248.11 L396.22,248.09 L397.18,248.07 L398.14,248.05 L399.10,248.03 L400.06,248.00 L401.02,247.98 L401.98,247.95 L402.94,247.92 L403.90,247.89 L404.86,247.87 L405.82,247.84 L406.78,247.81 L407.74,247.77 L408.70,247.74 L409.66,247.71 L410.62,247.68 L411.58,247.65 L412.54,247.62 L413.50,247.59 L414.46,247.56 L415.42,247.53 L416.38,247.50 L417.34,247.48 L418.30,247.45 L419.26,247.43 L420.22,247.40 L421.18,247.38 L422.14,247.36 L423.10,247.35 L424.06,247.33 L425.02,247.32 L425.98,247.31 L426.94,247.30 L427.90,247.30 L428.86,247.30 L429.82,247.30 L430.78,247.30 L431.74,247.30 L432.70,247.31 L433.66,247.32 L434.62,247.33 L435.58,247.34 L436.54,247.36 L437.50,247.38 L438.46,247.39 L439.42,247.41 L440.38,247.43 L441.34,247.45 L442.30,247.48 L443.26,247.50 L444.22,247.52 L445.18,247.55 L446.14,247.57 L447.10,247.59 L448.06,247.62 L449.02,247.64 L449.98,247.66 L450.94,247.69 L451.90,247.71 L452.86,247.73 L453.82,247.75 L454.78,247.77 L455.74,247.78 L456.70,247.80 L457.66,247.82 L458.62,247.83 L459.58,247.85 L460.54,247.86 L461.50,247.87 L462.46,247.88 L463.42,247.89 L464.38,247.90 L465.34,247.91 L466.30,247.91" fill="none" stroke="#5e5656" stroke-width="12.5" filter="url(#blur3)" opacity="0.80"/>
<path d="M389.50,248.21 L390.46,248.20 L391.42,248.18 L392.38,248.17 L393.34,248.15 L394.30,248.13 L395.26,248.11 L396.22,248.09 L397.18,248.07 L398.14,248.05 L399.10,248.03 L400.06,248.00 L401.02,247.98 L401.98,247.95 L402.94,247.92 L403.90,247.89 L404.86,247.87 L405.82,247.84 L406.78,247.81 L407.74,247.77 L408.70,247.74 L409.66,247.71 L410.62,247.68 L411.58,247.65 L412.54,247.62 L413.50,247.59 L414.46,247.56 L415.42,247.53 L416.38,247.50 L417.34,247.48 L418.30,247.45 L419.26,247.43 L420.22,247.40 L421.18,247.38 L422.14,247.36 L423.10,247.35 L424.06,247.33 L425.02,247.32 L425.98,247.31 L426.94,247.30 L427.90,247.30 L428.86,247.30 L429.82,247.30 L430.78,247.30 L431.74,247.30 L432.70,247.31 L433.66,247.32 L434.62,247.33 L435.58,247.34 L436.54,247.36 L437.50,247.38 L438.46,247.39 L439.42,247.41 L440.38,247.43 L441.34,247.45 L442.30,247.48 L443.26,247.50 L444.22,247.52 L445.18,247.55 L446.14,247.57 L447.10,247.59 L448.06,247.62 L449.02,247.64 L449.98,247.66 L450.94,247.69 L451.90,247.71 L452.86,247.73 L453.82,247.75 L454.78,247.77 L455.74,247.78 L456.70,247.80 L457.66,247.82 L458.62,247.83 L459.58,247.85 L460.54,247.86 L461.50,247.87 L462.46,247.88 L463.42,247.89 L464.38,247.90 L465.34,247.91 L466.30,247.91" fill="none" stroke="#d4cfcf" stroke-width="6.8" filter="url(#blur2)" opacity="1.00"/>
<path d="M389.50,248.21 L390.46,248.20 L391.42,248.18 L392.38,248.17 L393.34,248.15 L394.30,248.13 L395.26,248.11 L396.22,248.09 L397.18,248.07 L398.14,248.05 L399.10,248.03 L400.06,248.00 L401.02,247.98 L401.98,247.95 L402.94,247.92 L403.90,247.89 L404.86,247.87 L405.82,247.84 L406.78,247.81 L407.74,247.77 L408.70,247.74 L409.66,247.71 L410.62,247.68 L411.58,247.65 L412.54,247.62 L413.50,247.59 L414.46,247.56 L415.42,247.53 L416.38,247.50 L417.34,247.48 L418.30,247.45 L419.26,247.43 L420.22,247.40 L421.18,247.38 L422.14,247.36 L423.10,247.35 L424.06,247.33 L425.02,247.32 L425.98,247.31 L426.94,247.30 L427.90,247.30 L428.86,247.30 L429.82,247.30 L430.78,247.30 L431.74,247.30 L432.70,247.31 L433.66,247.32 L434.62,247.33 L435.58,247.34 L436.54,247.36 L437.50,247.38 L438.46,247.39 L439.42,247.41 L440.38,247.43 L441.34,247.45 L442.30,247.48 L443.26,247.50 L444.22,247.52 L445.18,247.55 L446.14,247.57 L447.10,247.59 L448.06,247.62 L449.02,247.64 L449.98,247.66 L450.94,247.69 L451.90,247.71 L452.86,247.73 L453.82,247.75 L454.78,247.77 L455.74,247.78 L456.70,247.80 L457.66,247.82 L458.62,247.83 L459.58,247.85 L460.54,247.86 L461.50,247.87 L462.46,247.88 L463.42,247.89 L464.38,247.90 L465.34,247.91 L466.30,247.91" fill="none" stroke="#ffffff" stroke-width="3.5" filter="url(#blur1)" opacity="0.75"/>
<rect x="394.50" y="235.1" width="66.8" height="33.5" fill="url(#edgeg)"/>
<rect x="394.50" y="235.1" width="66.8" height="33.5" filter="url(#noisel)" style="mix-blend-mode:multiply"/>
<rect x="394.50" y="235.1" width="66.8" height="33.5" filter="url(#noisem)" style="mix-blend-mode:multiply"/>
</g>
<clipPath id="cp10"><rect x="43.15" y="277.2" width="66.8" height="33.5"/></clipPath>
<g clip-path="url(#cp10)">
<rect x="43.15" y="277.2" width="66.8" height="33.5" fill="#1c1616"/>
<ellipse cx="77.55" cy="285.2" rx="10" ry="9" fill="#9a9292" filter="url(#blur5)" opacity="0.5"/>
<path d="M38.15,294.39 L39.11,294.39 L40.07,294.39 L41.03,294.38 L41.99,294.38 L42.95,294.38 L43.91,294.37 L44.87,294.37 L45.83,294.36 L46.79,294.36 L47.75,294.35 L48.71,294.34 L49.67,294.34 L50.63,294.33 L51.59,294.32 L52.55,294.31 L53.51,294.30 L54.47,294.28 L55.43,294.27 L56.39,294.26 L57.35,294.24 L58.31,294.23 L59.27,294.21 L60.23,294.20 L61.19,294.18 L62.15,294.16 L63.11,294.15 L64.07,294.13 L65.03,294.11 L65.99,294.10 L66.95,294.08 L67.91,294.07 L68.87,294.06 L69.83,294.04 L70.79,294.03 L71.75,294.02 L72.71,294.01 L73.67,294.01 L74.63,294.00 L75.59,294.00 L76.55,294.00 L77.51,294.00 L78.47,294.00 L79.43,294.01 L80.39,294.01 L81.35,294.02 L82.31,294.03 L83.27,294.04 L84.23,294.06 L85.19,294.07 L86.15,294.08 L87.11,294.10 L88.07,294.11 L89.03,294.13 L89.99,294.15 L90.95,294.16 L91.91,294.18 L92.87,294.20 L93.83,294.21 L94.79,294.23 L95.75,294.24 L96.71,294.26 L97.67,294.27 L98.63,294.28 L99.59,294.30 L100.55,294.31 L101.51,294.32 L102.47,294.33 L103.43,294.34 L104.39,294.34 L105.35,294.35 L106.31,294.36 L107.27,294.36 L108.23,294.37 L109.19,294.37 L110.15,294.38 L111.11,294.38 L112.07,294.38 L113.03,294.39 L113.99,294.39 L114.95,294.39" fill="none" stroke="#5e5656" stroke-width="11.5" filter="url(#blur3)" opacity="0.80"/>
<path d="M38.15,294.39 L39.11,294.39 L40.07,294.39 L41.03,294.38 L41.99,294.38 L42.95,294.38 L43.91,294.37 L44.87,294.37 L45.83,294.36 L46.79,294.36 L47.75,294.35 L48.71,294.34 L49.67,294.34 L50.63,294.33 L51.59,294.32 L52.55,294.31 L53.51,294.30 L54.47,294.28 L55.43,294.27 L56.39,294.26 L57.35,294.24 L58.31,294.23 L59.27,294.21 L60.23,294.20 L61.19,294.18 L62.15,294.16 L63.11,294.15 L64.07,294.13 L65.03,294.11 L65.99,294.10 L66.95,294.08 L67.91,294.07 L68.87,294.06 L69.83,294.04 L70.79,294.03 L71.75,294.02 L72.71,294.01 L73.67,294.01 L74.63,294.00 L75.59,294.00 L76.55,294.00 L77.51,294.00 L78.47,294.00 L79.43,294.01 L80.39,294.01 L81.35,294.02 L82.31,294.03 L83.27,294.04 L84.23,294.06 L85.19,294.07 L86.15,294.08 L87.11,294.10 L88.07,294.11 L89.03,294.13 L89.99,294.15 L90.95,294.16 L91.91,294.18 L92.87,294.20 L93.83,294.21 L94.79,294.23 L95.75,294.24 L96.71,294.26 L97.67,294.27 L98.63,294.28 L99.59,294.30 L100.55,294.31 L101.51,294.32 L102.47,294.33 L103.43,294.34 L104.39,294.34 L105.35,294.35 L106.31,294.36 L107.27,294.36 L108.23,294.37 L109.19,294.37 L110.15,294.38 L111.11,294.38 L112.07,294.38 L113.03,294.39 L113.99,294.39 L114.95,294.39" fill="none" stroke="#d4cfcf" stroke-width="6.2" filter="url(#blur2)" opacity="1.00"/>
<path d="M38.15,294.39 L39.11,294.39 L40.07,294.39 L41.03,294.38 L41.99,294.38 L42.95,294.38 L43.91,294.37 L44.87,294.37 L45.83,294.36 L46.79,294.36 L47.75,294.35 L48.71,294.34 L49.67,294.34 L50.63,294.33 L51.59,294.32 L52.55,294.31 L53.51,294.30 L54.47,294.28 L55.43,294.27 L56.39,294.26 L57.35,294.24 L58.31,294.23 L59.27,294.21 L60.23,294.20 L61.19,294.18 L62.15,294.16 L63.11,294.15 L64.07,294.13 L65.03,294.11 L65.99,294.10 L66.95,294.08 L67.91,294.07 L68.87,294.06 L69.83,294.04 L70.79,294.03 L71.75,294.02 L72.71,294.01 L73.67,294.01 L74.63,294.00 L75.59,294.00 L76.55,294.00 L77.51,294.00 L78.47,294.00 L79.43,294.01 L80.39,294.01 L81.35,294.02 L82.31,294.03 L83.27,294.04 L84.23,294.06 L85.19,294.07 L86.15,294.08 L87.11,294.10 L88.07,294.11 L89.03,294.13 L89.99,294.15 L90.95,294.16 L91.91,294.18 L92.87,294.20 L93.83,294.21 L94.79,294.23 L95.75,294.24 L96.71,294.26 L97.67,294.27 L98.63,294.28 L99.59,294.30 L100.55,294.31 L101.51,294.32 L102.47,294.33 L103.43,294.34 L104.39,294.34 L105.35,294.35 L106.31,294.36 L107.27,294.36 L108.23,294.37 L109.19,294.37 L110.15,294.38 L111.11,294.38 L112.07,294.38 L113.03,294.39 L113.99,294.39 L114.95,294.39" fill="none" stroke="#ffffff" stroke-width="3.2" filter="url(#blur1)" opacity="0.75"/>
<rect x="43.15" y="277.2" width="66.8" height="33.5" fill="url(#edgeg)"/>
<rect x="43.15" y="277.2" width="66.8" height="33.5" filter="url(#noisel)" style="mix-blend-mode:multiply"/>
<rect x="43.15" y="277.2" width="66.8" height="33.5" filter="url(#noisem)" style="mix-blend-mode:multiply"/>
</g>
<clipPath id="cp11"><rect x="113.42" y="277.2" width="66.8" height="33.5"/></clipPath>
<g clip-path="url(#cp11)">
<rect x="113.42" y="277.2" width="66.8" height="33.5" fill="#1c1616"/>
<ellipse cx="147.82" cy="285.2" rx="10" ry="9" fill="#9a9292" filter="url(#blur5)" opacity="0.45"/>
<path d="M108.42,294.10 L109.38,294.10 L110.34,294.10 L111.30,294.10 L112.26,294.10 L113.22,294.10 L114.18,294.10 L115.14,294.10 L116.10,294.10 L117.06,294.10 L118.02,294.10 L118.98,294.10 L119.94,294.10 L120.90,294.10 L121.86,294.10 L122.82,294.10 L123.78,294.10 L124.74,294.10 L125.70,294.10 L126.66,294.10 L127.62,294.10 L128.58,294.10 L129.54,294.10 L130.50,294.10 L131.46,294.10 L132.42,294.10 L133.38,294.10 L134.34,294.10 L135.30,294.10 L136.26,294.10 L137.22,294.10 L138.18,294.10 L139.14,294.10 L140.10,294.10 M152.58,294.10 L153.54,294.10 L154.50,294.10 L155.46,294.10 L156.42,294.10 L157.38,294.10 L158.34,294.10 L159.30,294.10 L160.26,294.10 L161.22,294.10 L162.18,294.10 L163.14,294.10 L164.10,294.10 L165.06,294.10 L166.02,294.10 L166.98,294.10 L167.94,294.10 L168.90,294.10 L169.86,294.10 L170.82,294.10 L171.78,294.10 L172.74,294.10 L173.70,294.10 L174.66,294.10 L175.62,294.10 L176.58,294.10 L177.54,294.10 L178.50,294.10 L179.46,294.10 L180.42,294.10 L181.38,294.10 L182.34,294.10 L183.30,294.10 L184.26,294.10 L185.22,294.10" fill="none" stroke="#5e5656" stroke-width="8.0" filter="url(#blur3)" opacity="0.60"/>
<path d="M108.42,294.10 L109.38,294.10 L110.34,294.10 L111.30,294.10 L112.26,294.10 L113.22,294.10 L114.18,294.10 L115.14,294.10 L116.10,294.10 L117.06,294.10 L118.02,294.10 L118.98,294.10 L119.94,294.10 L120.90,294.10 L121.86,294.10 L122.82,294.10 L123.78,294.10 L124.74,294.10 L125.70,294.10 L126.66,294.10 L127.62,294.10 L128.58,294.10 L129.54,294.10 L130.50,294.10 L131.46,294.10 L132.42,294.10 L133.38,294.10 L134.34,294.10 L135.30,294.10 L136.26,294.10 L137.22,294.10 M155.46,294.10 L156.42,294.10 L157.38,294.10 L158.34,294.10 L159.30,294.10 L160.26,294.10 L161.22,294.10 L162.18,294.10 L163.14,294.10 L164.10,294.10 L165.06,294.10 L166.02,294.10 L166.98,294.10 L167.94,294.10 L168.90,294.10 L169.86,294.10 L170.82,294.10 L171.78,294.10 L172.74,294.10 L173.70,294.10 L174.66,294.10 L175.62,294.10 L176.58,294.10 L177.54,294.10 L178.50,294.10 L179.46,294.10 L180.42,294.10 L181.38,294.10 L182.34,294.10 L183.30,294.10 L184.26,294.10 L185.22,294.10" fill="none" stroke="#d4cfcf" stroke-width="4.3" filter="url(#blur2)" opacity="0.75"/>
<path d="M108.42,294.10 L109.38,294.10 L110.34,294.10 L111.30,294.10 L112.26,294.10 L113.22,294.10 L114.18,294.10 L115.14,294.10 L116.10,294.10 L117.06,294.10 L118.02,294.10 L118.98,294.10 L119.94,294.10 L120.90,294.10 L121.86,294.10 L122.82,294.10 L123.78,294.10 L124.74,294.10 L125.70,294.10 L126.66,294.10 L127.62,294.10 L128.58,294.10 L129.54,294.10 L130.50,294.10 L131.46,294.10 L132.42,294.10 L133.38,294.10 L134.34,294.10 L135.30,294.10 L136.26,294.10 L137.22,294.10 M155.46,294.10 L156.42,294.10 L157.38,294.10 L158.34,294.10 L159.30,294.10 L160.26,294.10 L161.22,294.10 L162.18,294.10 L163.14,294.10 L164.10,294.10 L165.06,294.10 L166.02,294.10 L166.98,294.10 L167.94,294.10 L168.90,294.10 L169.86,294.10 L170.82,294.10 L171.78,294.10 L172.74,294.10 L173.70,294.10 L174.66,294.10 L175.62,294.10 L176.58,294.10 L177.54,294.10 L178.50,294.10 L179.46,294.10 L180.42,294.10 L181.38,294.10 L182.34,294.10 L183.30,294.10 L184.26,294.10 L185.22,294.10" fill="none" stroke="#ffffff" stroke-width="2.2" filter="url(#blur1)" opacity="0.56"/>
<rect x="113.42" y="277.2" width="66.8" height="33.5" fill="url(#edgeg)"/>
<rect x="113.42" y="277.2" width="66.8" height="33.5" filter="url(#noisel)" style="mix-blend-mode:multiply"/>
<rect x="113.42" y="277.2" width="66.8" height="33.5" filter="url(#noisem)" style="mix-blend-mode:multiply"/>
</g>
<clipPath id="cp12"><rect x="183.69" y="277.2" width="66.8" height="33.5"/></clipPath>
<g clip-path="url(#cp12)">
<rect x="183.69" y="277.2" width="66.8" height="33.5" fill="#1c1616"/>
<ellipse cx="218.09" cy="285.2" rx="10" ry="9" fill="#9a9292" filter="url(#blur5)" opacity="0.4"/>
<path d="M178.69,293.80 L179.65,293.79 L180.61,293.79 L181.57,293.78 L182.53,293.78 L183.49,293.77 L184.45,293.77 L185.41,293.76 L186.37,293.75 L187.33,293.75 L188.29,293.74 L189.25,293.73 L190.21,293.72 L191.17,293.72 L192.13,293.71 L193.09,293.70 L194.05,293.69 L195.01,293.68 L195.97,293.67 L196.93,293.66 L197.89,293.64 L198.85,293.63 L199.81,293.62 L200.77,293.61 L201.73,293.59 L202.69,293.58 L203.65,293.56 L204.61,293.55 L205.57,293.53 L206.53,293.52 L207.49,293.50 L208.45,293.49 L209.41,293.48 L210.37,293.46 L211.33,293.45 L212.29,293.44 L213.25,293.43 L214.21,293.42 L215.17,293.41 M218.05,293.40 L219.01,293.39 L219.97,293.39 L220.93,293.39 L221.89,293.39 L222.85,293.39 L223.81,293.39 L224.77,293.40 L225.73,293.40 L226.69,293.40 L227.65,293.41 L228.61,293.41 L229.57,293.42 L230.53,293.42 L231.49,293.43 L232.45,293.43 L233.41,293.44 L234.37,293.44 L235.33,293.44 L236.29,293.44 L237.25,293.45 L238.21,293.45 L239.17,293.45 L240.13,293.45 L241.09,293.45 L242.05,293.45 L243.01,293.45 L243.97,293.44 L244.93,293.44 L245.89,293.44 L246.85,293.44 L247.81,293.43 L248.77,293.43 L249.73,293.43 L250.69,293.42 L251.65,293.42 L252.61,293.41 L253.57,293.41 L254.53,293.40 L255.49,293.40" fill="none" stroke="#5e5656" stroke-width="10.0" filter="url(#blur3)" opacity="0.76"/>
<path d="M178.69,293.80 L179.65,293.79 L180.61,293.79 L181.57,293.78 L182.53,293.78 L183.49,293.77 L184.45,293.77 L185.41,293.76 L186.37,293.75 L187.33,293.75 L188.29,293.74 L189.25,293.73 L190.21,293.72 L191.17,293.72 L192.13,293.71 L193.09,293.70 L194.05,293.69 L195.01,293.68 L195.97,293.67 L196.93,293.66 L197.89,293.64 L198.85,293.63 L199.81,293.62 L200.77,293.61 L201.73,293.59 L202.69,293.58 L203.65,293.56 L204.61,293.55 L205.57,293.53 L206.53,293.52 L207.49,293.50 L208.45,293.49 L209.41,293.48 L210.37,293.46 L211.33,293.45 L212.29,293.44 L213.25,293.43 L214.21,293.42 L215.17,293.41 M218.05,293.40 L219.01,293.39 L219.97,293.39 L220.93,293.39 L221.89,293.39 L222.85,293.39 L223.81,293.39 L224.77,293.40 L225.73,293.40 L226.69,293.40 L227.65,293.41 L228.61,293.41 L229.57,293.42 L230.53,293.42 L231.49,293.43 L232.45,293.43 L233.41,293.44 L234.37,293.44 L235.33,293.44 L236.29,293.44 L237.25,293.45 L238.21,293.45 L239.17,293.45 L240.13,293.45 L241.09,293.45 L242.05,293.45 L243.01,293.45 L243.97,293.44 L244.93,293.44 L245.89,293.44 L246.85,293.44 L247.81,293.43 L248.77,293.43 L249.73,293.43 L250.69,293.42 L251.65,293.42 L252.61,293.41 L253.57,293.41 L254.53,293.40 L255.49,293.40" fill="none" stroke="#d4cfcf" stroke-width="5.4" filter="url(#blur2)" opacity="0.95"/>
<path d="M178.69,293.80 L179.65,293.79 L180.61,293.79 L181.57,293.78 L182.53,293.78 L183.49,293.77 L184.45,293.77 L185.41,293.76 L186.37,293.75 L187.33,293.75 L188.29,293.74 L189.25,293.73 L190.21,293.72 L191.17,293.72 L192.13,293.71 L193.09,293.70 L194.05,293.69 L195.01,293.68 L195.97,293.67 L196.93,293.66 L197.89,293.64 L198.85,293.63 L199.81,293.62 L200.77,293.61 L201.73,293.59 L202.69,293.58 L203.65,293.56 L204.61,293.55 L205.57,293.53 L206.53,293.52 L207.49,293.50 L208.45,293.49 L209.41,293.48 L210.37,293.46 L211.33,293.45 L212.29,293.44 L213.25,293.43 L214.21,293.42 L215.17,293.41 M218.05,293.40 L219.01,293.39 L219.97,293.39 L220.93,293.39 L221.89,293.39 L222.85,293.39 L223.81,293.39 L224.77,293.40 L225.73,293.40 L226.69,293.40 L227.65,293.41 L228.61,293.41 L229.57,293.42 L230.53,293.42 L231.49,293.43 L232.45,293.43 L233.41,293.44 L234.37,293.44 L235.33,293.44 L236.29,293.44 L237.25,293.45 L238.21,293.45 L239.17,293.45 L240.13,293.45 L241.09,293.45 L242.05,293.45 L243.01,293.45 L243.97,293.44 L244.93,293.44 L245.89,293.44 L246.85,293.44 L247.81,293.43 L248.77,293.43 L249.73,293.43 L250.69,293.42 L251.65,293.42 L252.61,293.41 L253.57,293.41 L254.53,293.40 L255.49,293.40" fill="none" stroke="#ffffff" stroke-width="2.8" filter="url(#blur1)" opacity="0.71"/>
<rect x="183.69" y="277.2" width="66.8" height="33.5" fill="url(#edgeg)"/>
<rect x="183.69" y="277.2" width="66.8" height="33.5" filter="url(#noisel)" style="mix-blend-mode:multiply"/>
<rect x="183.69" y="277.2" width="66.8" height="33.5" filter="url(#noisem)" style="mix-blend-mode:multiply"/>
</g>
<clipPath id="cp13"><rect x="253.96" y="277.2" width="66.8" height="33.5"/></clipPath>
<g clip-path="url(#cp13)">
<rect x="253.96" y="277.2" width="66.8" height="33.5" fill="#1c1616"/>
<ellipse cx="288.36" cy="285.2" rx="10" ry="9" fill="#9a9292" filter="url(#blur5)" opacity="0.45"/>
<path d="M248.96,293.70 L249.92,293.70 L250.88,293.70 L251.84,293.70 L252.80,293.70 L253.76,293.70 L254.72,293.70 L255.68,293.70 L256.64,293.70 L257.60,293.70 L258.56,293.70 L259.52,293.70 L260.48,293.70 L261.44,293.70 L262.40,293.70 L263.36,293.70 L264.32,293.70 L265.28,293.70 L266.24,293.69 L267.20,293.69 L268.16,293.69 L269.12,293.69 L270.08,293.68 L271.04,293.68 L272.00,293.67 L272.96,293.66 L273.92,293.65 L274.88,293.64 L275.84,293.63 L276.80,293.62 L277.76,293.60 L278.72,293.59 L279.68,293.57 L280.64,293.56 L281.60,293.55 L282.56,293.53 L283.52,293.52 L284.48,293.51 L285.44,293.51 L286.40,293.50 L287.36,293.50 L288.32,293.50 L289.28,293.51 L290.24,293.51 L291.20,293.52 L292.16,293.53 L293.12,293.55 L294.08,293.56 L295.04,293.57 L296.00,293.59 L296.96,293.60 L297.92,293.62 L298.88,293.63 L299.84,293.64 L300.80,293.65 L301.76,293.66 L302.72,293.67 L303.68,293.68 L304.64,293.68 L305.60,293.69 L306.56,293.69 L307.52,293.69 L308.48,293.69 L309.44,293.70 L310.40,293.70 L311.36,293.70 L312.32,293.70 L313.28,293.70 L314.24,293.70 L315.20,293.70 L316.16,293.70 L317.12,293.70 L318.08,293.70 L319.04,293.70 L320.00,293.70 L320.96,293.70 L321.92,293.70 L322.88,293.70 L323.84,293.70 L324.80,293.70 L325.76,293.70" fill="none" stroke="#5e5656" stroke-width="12.5" filter="url(#blur3)" opacity="0.80"/>
<path d="M248.96,293.70 L249.92,293.70 L250.88,293.70 L251.84,293.70 L252.80,293.70 L253.76,293.70 L254.72,293.70 L255.68,293.70 L256.64,293.70 L257.60,293.70 L258.56,293.70 L259.52,293.70 L260.48,293.70 L261.44,293.70 L262.40,293.70 L263.36,293.70 L264.32,293.70 L265.28,293.70 L266.24,293.69 L267.20,293.69 L268.16,293.69 L269.12,293.69 L270.08,293.68 L271.04,293.68 L272.00,293.67 L272.96,293.66 L273.92,293.65 L274.88,293.64 L275.84,293.63 L276.80,293.62 L277.76,293.60 L278.72,293.59 L279.68,293.57 L280.64,293.56 L281.60,293.55 L282.56,293.53 L283.52,293.52 L284.48,293.51 L285.44,293.51 L286.40,293.50 L287.36,293.50 L288.32,293.50 L289.28,293.51 L290.24,293.51 L291.20,293.52 L292.16,293.53 L293.12,293.55 L294.08,293.56 L295.04,293.57 L296.00,293.59 L296.96,293.60 L297.92,293.62 L298.88,293.63 L299.84,293.64 L300.80,293.65 L301.76,293.66 L302.72,293.67 L303.68,293.68 L304.64,293.68 L305.60,293.69 L306.56,293.69 L307.52,293.69 L308.48,293.69 L309.44,293.70 L310.40,293.70 L311.36,293.70 L312.32,293.70 L313.28,293.70 L314.24,293.70 L315.20,293.70 L316.16,293.70 L317.12,293.70 L318.08,293.70 L319.04,293.70 L320.00,293.70 L320.96,293.70 L321.92,293.70 L322.88,293.70 L323.84,293.70 L324.80,293.70 L325.76,293.70" fill="none" stroke="#d4cfcf" stroke-width="6.8" filter="url(#blur2)" opacity="1.00"/>
<path d="M248.96,293.70 L249.92,293.70 L250.88,293.70 L251.84,293.70 L252.80,293.70 L253.76,293.70 L254.72,293.70 L255.68,293.70 L256.64,293.70 L257.60,293.70 L258.56,293.70 L259.52,293.70 L260.48,293.70 L261.44,293.70 L262.40,293.70 L263.36,293.70 L264.32,293.70 L265.28,293.70 L266.24,293.69 L267.20,293.69 L268.16,293.69 L269.12,293.69 L270.08,293.68 L271.04,293.68 L272.00,293.67 L272.96,293.66 L273.92,293.65 L274.88,293.64 L275.84,293.63 L276.80,293.62 L277.76,293.60 L278.72,293.59 L279.68,293.57 L280.64,293.56 L281.60,293.55 L282.56,293.53 L283.52,293.52 L284.48,293.51 L285.44,293.51 L286.40,293.50 L287.36,293.50 L288.32,293.50 L289.28,293.51 L290.24,293.51 L291.20,293.52 L292.16,293.53 L293.12,293.55 L294.08,293.56 L295.04,293.57 L296.00,293.59 L296.96,293.60 L297.92,293.62 L298.88,293.63 L299.84,293.64 L300.80,293.65 L301.76,293.66 L302.72,293.67 L303.68,293.68 L304.64,293.68 L305.60,293.69 L306.56,293.69 L307.52,293.69 L308.48,293.69 L309.44,293.70 L310.40,293.70 L311.36,293.70 L312.32,293.70 L313.28,293.70 L314.24,293.70 L315.20,293.70 L316.16,293.70 L317.12,293.70 L318.08,293.70 L319.04,293.70 L320.00,293.70 L320.96,293.70 L321.92,293.70 L322.88,293.70 L323.84,293.70 L324.80,293.70 L325.76,293.70" fill="none" stroke="#ffffff" stroke-width="3.5" filter="url(#blur1)" opacity="0.75"/>
<rect x="253.96" y="277.2" width="66.8" height="33.5" fill="url(#edgeg)"/>
<rect x="253.96" y="277.2" width="66.8" height="33.5" filter="url(#noisel)" style="mix-blend-mode:multiply"/>
<rect x="253.96" y="277.2" width="66.8" height="33.5" filter="url(#noisem)" style="mix-blend-mode:multiply"/>
</g>
<clipPath id="cp14"><rect x="324.23" y="277.2" width="66.8" height="33.5"/></clipPath>
<g clip-path="url(#cp14)">
<rect x="324.23" y="277.2" width="66.8" height="33.5" fill="#1c1616"/>
<ellipse cx="358.63" cy="285.2" rx="10" ry="9" fill="#9a9292" filter="url(#blur5)" opacity="0.45"/>
<path d="M319.23,293.70 L320.19,293.70 L321.15,293.70 L322.11,293.70 L323.07,293.69 L324.03,293.69 L324.99,293.69 L325.95,293.69 L326.91,293.69 L327.87,293.69 L328.83,293.69 L329.79,293.69 L330.75,293.68 L331.71,293.68 L332.67,293.68 L333.63,293.68 L334.59,293.68 L335.55,293.67 L336.51,293.67 L337.47,293.67 L338.43,293.66 L339.39,293.66 L340.35,293.65 L341.31,293.64 L342.27,293.63 L343.23,293.62 L344.19,293.61 L345.15,293.59 L346.11,293.58 L347.07,293.56 L348.03,293.54 L348.99,293.52 L349.95,293.50 L350.91,293.48 L351.87,293.46 L352.83,293.45 L353.79,293.43 L354.75,293.42 L355.71,293.41 L356.67,293.40 L357.63,293.40 L358.59,293.40 L359.55,293.40 L360.51,293.41 L361.47,293.42 L362.43,293.43 L363.39,293.45 L364.35,293.47 L365.31,293.48 L366.27,293.50 L367.23,293.52 L368.19,293.53 L369.15,293.55 L370.11,293.56 L371.07,293.57 L372.03,293.58 L372.99,293.59 L373.95,293.60 L374.91,293.60 L375.87,293.61 L376.83,293.61 L377.79,293.61 L378.75,293.61 L379.71,293.62 L380.67,293.62 L381.63,293.62 L382.59,293.62 L383.55,293.61 L384.51,293.61 L385.47,293.61 L386.43,293.61 L387.39,293.61 L388.35,293.61 L389.31,293.61 L390.27,293.61 L391.23,293.61 L392.19,293.60 L393.15,293.60 L394.11,293.60 L395.07,293.60 L396.03,293.60" fill="none" stroke="#5e5656" stroke-width="12.5" filter="url(#blur3)" opacity="0.80"/>
<path d="M319.23,293.70 L320.19,293.70 L321.15,293.70 L322.11,293.70 L323.07,293.69 L324.03,293.69 L324.99,293.69 L325.95,293.69 L326.91,293.69 L327.87,293.69 L328.83,293.69 L329.79,293.69 L330.75,293.68 L331.71,293.68 L332.67,293.68 L333.63,293.68 L334.59,293.68 L335.55,293.67 L336.51,293.67 L337.47,293.67 L338.43,293.66 L339.39,293.66 L340.35,293.65 L341.31,293.64 L342.27,293.63 L343.23,293.62 L344.19,293.61 L345.15,293.59 L346.11,293.58 L347.07,293.56 L348.03,293.54 L348.99,293.52 L349.95,293.50 L350.91,293.48 L351.87,293.46 L352.83,293.45 L353.79,293.43 L354.75,293.42 L355.71,293.41 L356.67,293.40 L357.63,293.40 L358.59,293.40 L359.55,293.40 L360.51,293.41 L361.47,293.42 L362.43,293.43 L363.39,293.45 L364.35,293.47 L365.31,293.48 L366.27,293.50 L367.23,293.52 L368.19,293.53 L369.15,293.55 L370.11,293.56 L371.07,293.57 L372.03,293.58 L372.99,293.59 L373.95,293.60 L374.91,293.60 L375.87,293.61 L376.83,293.61 L377.79,293.61 L378.75,293.61 L379.71,293.62 L380.67,293.62 L381.63,293.62 L382.59,293.62 L383.55,293.61 L384.51,293.61 L385.47,293.61 L386.43,293.61 L387.39,293.61 L388.35,293.61 L389.31,293.61 L390.27,293.61 L391.23,293.61 L392.19,293.60 L393.15,293.60 L394.11,293.60 L395.07,293.60 L396.03,293.60" fill="none" stroke="#d4cfcf" stroke-width="6.8" filter="url(#blur2)" opacity="1.00"/>
<path d="M319.23,293.70 L320.19,293.70 L321.15,293.70 L322.11,293.70 L323.07,293.69 L324.03,293.69 L324.99,293.69 L325.95,293.69 L326.91,293.69 L327.87,293.69 L328.83,293.69 L329.79,293.69 L330.75,293.68 L331.71,293.68 L332.67,293.68 L333.63,293.68 L334.59,293.68 L335.55,293.67 L336.51,293.67 L337.47,293.67 L338.43,293.66 L339.39,293.66 L340.35,293.65 L341.31,293.64 L342.27,293.63 L343.23,293.62 L344.19,293.61 L345.15,293.59 L346.11,293.58 L347.07,293.56 L348.03,293.54 L348.99,293.52 L349.95,293.50 L350.91,293.48 L351.87,293.46 L352.83,293.45 L353.79,293.43 L354.75,293.42 L355.71,293.41 L356.67,293.40 L357.63,293.40 L358.59,293.40 L359.55,293.40 L360.51,293.41 L361.47,293.42 L362.43,293.43 L363.39,293.45 L364.35,293.47 L365.31,293.48 L366.27,293.50 L367.23,293.52 L368.19,293.53 L369.15,293.55 L370.11,293.56 L371.07,293.57 L372.03,293.58 L372.99,293.59 L373.95,293.60 L374.91,293.60 L375.87,293.61 L376.83,293.61 L377.79,293.61 L378.75,293.61 L379.71,293.62 L380.67,293.62 L381.63,293.62 L382.59,293.62 L383.55,293.61 L384.51,293.61 L385.47,293.61 L386.43,293.61 L387.39,293.61 L388.35,293.61 L389.31,293.61 L390.27,293.61 L391.23,293.61 L392.19,293.60 L393.15,293.60 L394.11,293.60 L395.07,293.60 L396.03,293.60" fill="none" stroke="#ffffff" stroke-width="3.5" filter="url(#blur1)" opacity="0.75"/>
<rect x="324.23" y="277.2" width="66.8" height="33.5" fill="url(#edgeg)"/>
<rect x="324.23" y="277.2" width="66.8" height="33.5" filter="url(#noisel)" style="mix-blend-mode:multiply"/>
<rect x="324.23" y="277.2" width="66.8" height="33.5" filter="url(#noisem)" style="mix-blend-mode:multiply"/>
</g>
<clipPath id="cp15"><rect x="394.50" y="277.2" width="66.8" height="33.5"/></clipPath>
<g clip-path="url(#cp15)">
<rect x="394.50" y="277.2" width="66.8" height="33.5" fill="#1c1616"/>
<ellipse cx="428.90" cy="285.2" rx="10" ry="9" fill="#9a9292" filter="url(#blur5)" opacity="0.55"/>
<path d="M389.50,294.20 L390.46,294.20 L391.42,294.20 L392.38,294.20 L393.34,294.20 L394.30,294.20 L395.26,294.20 L396.22,294.20 L397.18,294.20 L398.14,294.20 L399.10,294.20 L400.06,294.20 L401.02,294.20 L401.98,294.20 L402.94,294.20 L403.90,294.20 L404.86,294.20 L405.82,294.20 L406.78,294.19 L407.74,294.19 L408.70,294.19 L409.66,294.19 L410.62,294.18 L411.58,294.18 L412.54,294.17 L413.50,294.16 L414.46,294.15 L415.42,294.14 L416.38,294.13 L417.34,294.12 L418.30,294.10 L419.26,294.09 L420.22,294.07 L421.18,294.06 L422.14,294.05 L423.10,294.03 L424.06,294.02 L425.02,294.01 L425.98,294.01 L426.94,294.00 L427.90,294.00 L428.86,294.00 L429.82,294.01 L430.78,294.01 L431.74,294.02 L432.70,294.03 L433.66,294.05 L434.62,294.06 L435.58,294.07 L436.54,294.09 L437.50,294.10 L438.46,294.12 L439.42,294.13 L440.38,294.14 L441.34,294.15 L442.30,294.16 L443.26,294.17 L444.22,294.18 L445.18,294.18 L446.14,294.19 L447.10,294.19 L448.06,294.19 L449.02,294.19 L449.98,294.20 L450.94,294.20 L451.90,294.20 L452.86,294.20 L453.82,294.20 L454.78,294.20 L455.74,294.20 L456.70,294.20 L457.66,294.20 L458.62,294.20 L459.58,294.20 L460.54,294.20 L461.50,294.20 L462.46,294.20 L463.42,294.20 L464.38,294.20 L465.34,294.20 L466.30,294.20" fill="none" stroke="#5e5656" stroke-width="12.5" filter="url(#blur3)" opacity="0.76"/>
<path d="M389.50,294.20 L390.46,294.20 L391.42,294.20 L392.38,294.20 L393.34,294.20 L394.30,294.20 L395.26,294.20 L396.22,294.20 L397.18,294.20 L398.14,294.20 L399.10,294.20 L400.06,294.20 L401.02,294.20 L401.98,294.20 L402.94,294.20 L403.90,294.20 L404.86,294.20 L405.82,294.20 L406.78,294.19 L407.74,294.19 L408.70,294.19 L409.66,294.19 L410.62,294.18 L411.58,294.18 L412.54,294.17 L413.50,294.16 L414.46,294.15 L415.42,294.14 L416.38,294.13 L417.34,294.12 L418.30,294.10 L419.26,294.09 L420.22,294.07 L421.18,294.06 L422.14,294.05 L423.10,294.03 L424.06,294.02 L425.02,294.01 L425.98,294.01 L426.94,294.00 L427.90,294.00 L428.86,294.00 L429.82,294.01 L430.78,294.01 L431.74,294.02 L432.70,294.03 L433.66,294.05 L434.62,294.06 L435.58,294.07 L436.54,294.09 L437.50,294.10 L438.46,294.12 L439.42,294.13 L440.38,294.14 L441.34,294.15 L442.30,294.16 L443.26,294.17 L444.22,294.18 L445.18,294.18 L446.14,294.19 L447.10,294.19 L448.06,294.19 L449.02,294.19 L449.98,294.20 L450.94,294.20 L451.90,294.20 L452.86,294.20 L453.82,294.20 L454.78,294.20 L455.74,294.20 L456.70,294.20 L457.66,294.20 L458.62,294.20 L459.58,294.20 L460.54,294.20 L461.50,294.20 L462.46,294.20 L463.42,294.20 L464.38,294.20 L465.34,294.20 L466.30,294.20" fill="none" stroke="#d4cfcf" stroke-width="6.8" filter="url(#blur2)" opacity="0.95"/>
<path d="M389.50,294.20 L390.46,294.20 L391.42,294.20 L392.38,294.20 L393.34,294.20 L394.30,294.20 L395.26,294.20 L396.22,294.20 L397.18,294.20 L398.14,294.20 L399.10,294.20 L400.06,294.20 L401.02,294.20 L401.98,294.20 L402.94,294.20 L403.90,294.20 L404.86,294.20 L405.82,294.20 L406.78,294.19 L407.74,294.19 L408.70,294.19 L409.66,294.19 L410.62,294.18 L411.58,294.18 L412.54,294.17 L413.50,294.16 L414.46,294.15 L415.42,294.14 L416.38,294.13 L417.34,294.12 L418.30,294.10 L419.26,294.09 L420.22,294.07 L421.18,294.06 L422.14,294.05 L423.10,294.03 L424.06,294.02 L425.02,294.01 L425.98,294.01 L426.94,294.00 L427.90,294.00 L428.86,294.00 L429.82,294.01 L430.78,294.01 L431.74,294.02 L432.70,294.03 L433.66,294.05 L434.62,294.06 L435.58,294.07 L436.54,294.09 L437.50,294.10 L438.46,294.12 L439.42,294.13 L440.38,294.14 L441.34,294.15 L442.30,294.16 L443.26,294.17 L444.22,294.18 L445.18,294.18 L446.14,294.19 L447.10,294.19 L448.06,294.19 L449.02,294.19 L449.98,294.20 L450.94,294.20 L451.90,294.20 L452.86,294.20 L453.82,294.20 L454.78,294.20 L455.74,294.20 L456.70,294.20 L457.66,294.20 L458.62,294.20 L459.58,294.20 L460.54,294.20 L461.50,294.20 L462.46,294.20 L463.42,294.20 L464.38,294.20 L465.34,294.20 L466.30,294.20" fill="none" stroke="#ffffff" stroke-width="3.5" filter="url(#blur1)" opacity="0.71"/>
<rect x="394.50" y="277.2" width="66.8" height="33.5" fill="url(#edgeg)"/>
<rect x="394.50" y="277.2" width="66.8" height="33.5" filter="url(#noisel)" style="mix-blend-mode:multiply"/>
<rect x="394.50" y="277.2" width="66.8" height="33.5" filter="url(#noisem)" style="mix-blend-mode:multiply"/>
</g>
<clipPath id="cp20"><rect x="43.15" y="319.5" width="66.8" height="33.5"/></clipPath>
<g clip-path="url(#cp20)">
<rect x="43.15" y="319.5" width="66.8" height="33.5" fill="#1c1616"/>
<ellipse cx="77.55" cy="327.5" rx="10" ry="9" fill="#9a9292" filter="url(#blur5)" opacity="0.45"/>
<path d="M38.15,336.10 L39.11,336.10 L40.07,336.10 L41.03,336.10 L41.99,336.10 L42.95,336.10 L43.91,336.10 L44.87,336.10 L45.83,336.10 L46.79,336.10 L47.75,336.10 L48.71,336.10 L49.67,336.10 L50.63,336.10 L51.59,336.10 L52.55,336.10 L53.51,336.10 L54.47,336.10 L55.43,336.10 L56.39,336.10 L57.35,336.10 L58.31,336.10 L59.27,336.10 L60.23,336.10 L61.19,336.10 L62.15,336.10 L63.11,336.10 L64.07,336.10 L65.03,336.10 L65.99,336.10 L66.95,336.10 L67.91,336.10 L68.87,336.10 L69.83,336.10 L70.79,336.10 L71.75,336.10 L72.71,336.10 L73.67,336.10 L74.63,336.10 L75.59,336.10 L76.55,336.10 L77.51,336.10 L78.47,336.10 L79.43,336.10 L80.39,336.10 L81.35,336.10 L82.31,336.10 L83.27,336.10 L84.23,336.10 L85.19,336.10 L86.15,336.10 L87.11,336.10 L88.07,336.10 L89.03,336.10 L89.99,336.10 L90.95,336.10 L91.91,336.10 L92.87,336.10 L93.83,336.10 L94.79,336.10 L95.75,336.10 L96.71,336.10 L97.67,336.10 L98.63,336.10 L99.59,336.10 L100.55,336.10 L101.51,336.10 L102.47,336.10 L103.43,336.10 L104.39,336.10 L105.35,336.10 L106.31,336.10 L107.27,336.10 L108.23,336.10 L109.19,336.10 L110.15,336.10 L111.11,336.10 L112.07,336.10 L113.03,336.10 L113.99,336.10 L114.95,336.10" fill="none" stroke="#5e5656" stroke-width="11.5" filter="url(#blur3)" opacity="0.80"/>
<path d="M38.15,336.10 L39.11,336.10 L40.07,336.10 L41.03,336.10 L41.99,336.10 L42.95,336.10 L43.91,336.10 L44.87,336.10 L45.83,336.10 L46.79,336.10 L47.75,336.10 L48.71,336.10 L49.67,336.10 L50.63,336.10 L51.59,336.10 L52.55,336.10 L53.51,336.10 L54.47,336.10 L55.43,336.10 L56.39,336.10 L57.35,336.10 L58.31,336.10 L59.27,336.10 L60.23,336.10 L61.19,336.10 L62.15,336.10 L63.11,336.10 L64.07,336.10 L65.03,336.10 L65.99,336.10 L66.95,336.10 L67.91,336.10 L68.87,336.10 L69.83,336.10 L70.79,336.10 L71.75,336.10 L72.71,336.10 L73.67,336.10 L74.63,336.10 L75.59,336.10 L76.55,336.10 L77.51,336.10 L78.47,336.10 L79.43,336.10 L80.39,336.10 L81.35,336.10 L82.31,336.10 L83.27,336.10 L84.23,336.10 L85.19,336.10 L86.15,336.10 L87.11,336.10 L88.07,336.10 L89.03,336.10 L89.99,336.10 L90.95,336.10 L91.91,336.10 L92.87,336.10 L93.83,336.10 L94.79,336.10 L95.75,336.10 L96.71,336.10 L97.67,336.10 L98.63,336.10 L99.59,336.10 L100.55,336.10 L101.51,336.10 L102.47,336.10 L103.43,336.10 L104.39,336.10 L105.35,336.10 L106.31,336.10 L107.27,336.10 L108.23,336.10 L109.19,336.10 L110.15,336.10 L111.11,336.10 L112.07,336.10 L113.03,336.10 L113.99,336.10 L114.95,336.10" fill="none" stroke="#d4cfcf" stroke-width="6.2" filter="url(#blur2)" opacity="1.00"/>
<path d="M38.15,336.10 L39.11,336.10 L40.07,336.10 L41.03,336.10 L41.99,336.10 L42.95,336.10 L43.91,336.10 L44.87,336.10 L45.83,336.10 L46.79,336.10 L47.75,336.10 L48.71,336.10 L49.67,336.10 L50.63,336.10 L51.59,336.10 L52.55,336.10 L53.51,336.10 L54.47,336.10 L55.43,336.10 L56.39,336.10 L57.35,336.10 L58.31,336.10 L59.27,336.10 L60.23,336.10 L61.19,336.10 L62.15,336.10 L63.11,336.10 L64.07,336.10 L65.03,336.10 L65.99,336.10 L66.95,336.10 L67.91,336.10 L68.87,336.10 L69.83,336.10 L70.79,336.10 L71.75,336.10 L72.71,336.10 L73.67,336.10 L74.63,336.10 L75.59,336.10 L76.55,336.10 L77.51,336.10 L78.47,336.10 L79.43,336.10 L80.39,336.10 L81.35,336.10 L82.31,336.10 L83.27,336.10 L84.23,336.10 L85.19,336.10 L86.15,336.10 L87.11,336.10 L88.07,336.10 L89.03,336.10 L89.99,336.10 L90.95,336.10 L91.91,336.10 L92.87,336.10 L93.83,336.10 L94.79,336.10 L95.75,336.10 L96.71,336.10 L97.67,336.10 L98.63,336.10 L99.59,336.10 L100.55,336.10 L101.51,336.10 L102.47,336.10 L103.43,336.10 L104.39,336.10 L105.35,336.10 L106.31,336.10 L107.27,336.10 L108.23,336.10 L109.19,336.10 L110.15,336.10 L111.11,336.10 L112.07,336.10 L113.03,336.10 L113.99,336.10 L114.95,336.10" fill="none" stroke="#ffffff" stroke-width="3.2" filter="url(#blur1)" opacity="0.75"/>
<rect x="43.15" y="319.5" width="66.8" height="33.5" fill="url(#edgeg)"/>
<rect x="43.15" y="319.5" width="66.8" height="33.5" filter="url(#noisel)" style="mix-blend-mode:multiply"/>
<rect x="43.15" y="319.5" width="66.8" height="33.5" filter="url(#noisem)" style="mix-blend-mode:multiply"/>
</g>
<clipPath id="cp21"><rect x="113.42" y="319.5" width="66.8" height="33.5"/></clipPath>
<g clip-path="url(#cp21)">
<rect x="113.42" y="319.5" width="66.8" height="33.5" fill="#1c1616"/>
<ellipse cx="147.82" cy="327.5" rx="10" ry="9" fill="#9a9292" filter="url(#blur5)" opacity="0.4"/>
<path d="M108.42,336.10 L109.38,336.10 L110.34,336.10 L111.30,336.10 L112.26,336.10 L113.22,336.10 L114.18,336.10 L115.14,336.10 L116.10,336.10 L117.06,336.10 L118.02,336.10 L118.98,336.10 L119.94,336.10 L120.90,336.10 L121.86,336.10 L122.82,336.10 L123.78,336.10 L124.74,336.10 L125.70,336.10 L126.66,336.10 L127.62,336.10 L128.58,336.10 L129.54,336.10 L130.50,336.10 L131.46,336.10 L132.42,336.10 L133.38,336.10 L134.34,336.10 L135.30,336.10 L136.26,336.10 L137.22,336.10 M151.62,336.10 L152.58,336.10 L153.54,336.10 L154.50,336.10 L155.46,336.10 L156.42,336.10 L157.38,336.10 L158.34,336.10 L159.30,336.10 L160.26,336.10 L161.22,336.10 L162.18,336.10 L163.14,336.10 L164.10,336.10 L165.06,336.10 L166.02,336.10 L166.98,336.10 L167.94,336.10 L168.90,336.10 L169.86,336.10 L170.82,336.10 L171.78,336.10 L172.74,336.10 L173.70,336.10 L174.66,336.10 L175.62,336.10 L176.58,336.10 L177.54,336.10 L178.50,336.10 L179.46,336.10 L180.42,336.10 L181.38,336.10 L182.34,336.10 L183.30,336.10 L184.26,336.10 L185.22,336.10" fill="none" stroke="#5e5656" stroke-width="8.0" filter="url(#blur3)" opacity="0.60"/>
<path d="M108.42,336.10 L109.38,336.10 L110.34,336.10 L111.30,336.10 L112.26,336.10 L113.22,336.10 L114.18,336.10 L115.14,336.10 L116.10,336.10 L117.06,336.10 L118.02,336.10 L118.98,336.10 L119.94,336.10 L120.90,336.10 L121.86,336.10 L122.82,336.10 L123.78,336.10 L124.74,336.10 L125.70,336.10 L126.66,336.10 L127.62,336.10 L128.58,336.10 L129.54,336.10 L130.50,336.10 L131.46,336.10 L132.42,336.10 L133.38,336.10 L134.34,336.10 M154.50,336.10 L155.46,336.10 L156.42,336.10 L157.38,336.10 L158.34,336.10 L159.30,336.10 L160.26,336.10 L161.22,336.10 L162.18,336.10 L163.14,336.10 L164.10,336.10 L165.06,336.10 L166.02,336.10 L166.98,336.10 L167.94,336.10 L168.90,336.10 L169.86,336.10 L170.82,336.10 L171.78,336.10 L172.74,336.10 L173.70,336.10 L174.66,336.10 L175.62,336.10 L176.58,336.10 L177.54,336.10 L178.50,336.10 L179.46,336.10 L180.42,336.10 L181.38,336.10 L182.34,336.10 L183.30,336.10 L184.26,336.10 L185.22,336.10" fill="none" stroke="#d4cfcf" stroke-width="4.3" filter="url(#blur2)" opacity="0.75"/>
<path d="M108.42,336.10 L109.38,336.10 L110.34,336.10 L111.30,336.10 L112.26,336.10 L113.22,336.10 L114.18,336.10 L115.14,336.10 L116.10,336.10 L117.06,336.10 L118.02,336.10 L118.98,336.10 L119.94,336.10 L120.90,336.10 L121.86,336.10 L122.82,336.10 L123.78,336.10 L124.74,336.10 L125.70,336.10 L126.66,336.10 L127.62,336.10 L128.58,336.10 L129.54,336.10 L130.50,336.10 L131.46,336.10 L132.42,336.10 L133.38,336.10 L134.34,336.10 M154.50,336.10 L155.46,336.10 L156.42,336.10 L157.38,336.10 L158.34,336.10 L159.30,336.10 L160.26,336.10 L161.22,336.10 L162.18,336.10 L163.14,336.10 L164.10,336.10 L165.06,336.10 L166.02,336.10 L166.98,336.10 L167.94,336.10 L168.90,336.10 L169.86,336.10 L170.82,336.10 L171.78,336.10 L172.74,336.10 L173.70,336.10 L174.66,336.10 L175.62,336.10 L176.58,336.10 L177.54,336.10 L178.50,336.10 L179.46,336.10 L180.42,336.10 L181.38,336.10 L182.34,336.10 L183.30,336.10 L184.26,336.10 L185.22,336.10" fill="none" stroke="#ffffff" stroke-width="2.2" filter="url(#blur1)" opacity="0.56"/>
<rect x="113.42" y="319.5" width="66.8" height="33.5" fill="url(#edgeg)"/>
<rect x="113.42" y="319.5" width="66.8" height="33.5" filter="url(#noisel)" style="mix-blend-mode:multiply"/>
<rect x="113.42" y="319.5" width="66.8" height="33.5" filter="url(#noisem)" style="mix-blend-mode:multiply"/>
</g>
<clipPath id="cp22"><rect x="183.69" y="319.5" width="66.8" height="33.5"/></clipPath>
<g clip-path="url(#cp22)">
<rect x="183.69" y="319.5" width="66.8" height="33.5" fill="#1c1616"/>
<ellipse cx="218.09" cy="327.5" rx="10" ry="9" fill="#9a9292" filter="url(#blur5)" opacity="0.35"/>
<path d="M178.69,335.90 L179.65,335.89 L180.61,335.88 L181.57,335.87 L182.53,335.86 L183.49,335.85 L184.45,335.84 L185.41,335.83 L186.37,335.82 L187.33,335.81 L188.29,335.80 L189.25,335.79 L190.21,335.78 L191.17,335.77 L192.13,335.76 L193.09,335.75 L194.05,335.74 L195.01,335.73 L195.97,335.72 L196.93,335.71 L197.89,335.70 L198.85,335.69 L199.81,335.68 L200.77,335.67 L201.73,335.66 L202.69,335.65 L203.65,335.64 L204.61,335.63 L205.57,335.62 L206.53,335.61 L207.49,335.61 L208.45,335.62 L209.41,335.64 L210.37,335.70 L211.33,335.81 L212.29,335.99 L213.25,336.25 M217.09,337.10 L218.05,337.01 L219.01,336.78 L219.97,336.48 L220.93,336.17 L221.89,335.89 L222.85,335.69 L223.81,335.56 L224.77,335.48 L225.73,335.44 L226.69,335.41 L227.65,335.39 L228.61,335.38 L229.57,335.37 L230.53,335.36 L231.49,335.35 L232.45,335.34 L233.41,335.33 L234.37,335.32 L235.33,335.31 L236.29,335.30 L237.25,335.29 L238.21,335.28 L239.17,335.27 L240.13,335.26 L241.09,335.25 L242.05,335.24 L243.01,335.23 L243.97,335.22 L244.93,335.21 L245.89,335.20 L246.85,335.19 L247.81,335.18 L248.77,335.17 L249.73,335.16 L250.69,335.15 L251.65,335.14 L252.61,335.13 L253.57,335.12 L254.53,335.11 L255.49,335.10" fill="none" stroke="#5e5656" stroke-width="10.0" filter="url(#blur3)" opacity="0.76"/>
<path d="M178.69,335.90 L179.65,335.89 L180.61,335.88 L181.57,335.87 L182.53,335.86 L183.49,335.85 L184.45,335.84 L185.41,335.83 L186.37,335.82 L187.33,335.81 L188.29,335.80 L189.25,335.79 L190.21,335.78 L191.17,335.77 L192.13,335.76 L193.09,335.75 L194.05,335.74 L195.01,335.73 L195.97,335.72 L196.93,335.71 L197.89,335.70 L198.85,335.69 L199.81,335.68 L200.77,335.67 L201.73,335.66 L202.69,335.65 L203.65,335.64 L204.61,335.63 L205.57,335.62 L206.53,335.61 L207.49,335.61 L208.45,335.62 L209.41,335.64 L210.37,335.70 L211.33,335.81 L212.29,335.99 L213.25,336.25 M217.09,337.10 L218.05,337.01 L219.01,336.78 L219.97,336.48 L220.93,336.17 L221.89,335.89 L222.85,335.69 L223.81,335.56 L224.77,335.48 L225.73,335.44 L226.69,335.41 L227.65,335.39 L228.61,335.38 L229.57,335.37 L230.53,335.36 L231.49,335.35 L232.45,335.34 L233.41,335.33 L234.37,335.32 L235.33,335.31 L236.29,335.30 L237.25,335.29 L238.21,335.28 L239.17,335.27 L240.13,335.26 L241.09,335.25 L242.05,335.24 L243.01,335.23 L243.97,335.22 L244.93,335.21 L245.89,335.20 L246.85,335.19 L247.81,335.18 L248.77,335.17 L249.73,335.16 L250.69,335.15 L251.65,335.14 L252.61,335.13 L253.57,335.12 L254.53,335.11 L255.49,335.10" fill="none" stroke="#d4cfcf" stroke-width="5.4" filter="url(#blur2)" opacity="0.95"/>
<path d="M178.69,335.90 L179.65,335.89 L180.61,335.88 L181.57,335.87 L182.53,335.86 L183.49,335.85 L184.45,335.84 L185.41,335.83 L186.37,335.82 L187.33,335.81 L188.29,335.80 L189.25,335.79 L190.21,335.78 L191.17,335.77 L192.13,335.76 L193.09,335.75 L194.05,335.74 L195.01,335.73 L195.97,335.72 L196.93,335.71 L197.89,335.70 L198.85,335.69 L199.81,335.68 L200.77,335.67 L201.73,335.66 L202.69,335.65 L203.65,335.64 L204.61,335.63 L205.57,335.62 L206.53,335.61 L207.49,335.61 L208.45,335.62 L209.41,335.64 L210.37,335.70 L211.33,335.81 L212.29,335.99 L213.25,336.25 M217.09,337.10 L218.05,337.01 L219.01,336.78 L219.97,336.48 L220.93,336.17 L221.89,335.89 L222.85,335.69 L223.81,335.56 L224.77,335.48 L225.73,335.44 L226.69,335.41 L227.65,335.39 L228.61,335.38 L229.57,335.37 L230.53,335.36 L231.49,335.35 L232.45,335.34 L233.41,335.33 L234.37,335.32 L235.33,335.31 L236.29,335.30 L237.25,335.29 L238.21,335.28 L239.17,335.27 L240.13,335.26 L241.09,335.25 L242.05,335.24 L243.01,335.23 L243.97,335.22 L244.93,335.21 L245.89,335.20 L246.85,335.19 L247.81,335.18 L248.77,335.17 L249.73,335.16 L250.69,335.15 L251.65,335.14 L252.61,335.13 L253.57,335.12 L254.53,335.11 L255.49,335.10" fill="none" stroke="#ffffff" stroke-width="2.8" filter="url(#blur1)" opacity="0.71"/>
<rect x="183.69" y="319.5" width="66.8" height="33.5" fill="url(#edgeg)"/>
<rect x="183.69" y="319.5" width="66.8" height="33.5" filter="url(#noisel)" style="mix-blend-mode:multiply"/>
<rect x="183.69" y="319.5" width="66.8" height="33.5" filter="url(#noisem)" style="mix-blend-mode:multiply"/>
</g>
<clipPath id="cp23"><rect x="253.96" y="319.5" width="66.8" height="33.5"/></clipPath>
<g clip-path="url(#cp23)">
<rect x="253.96" y="319.5" width="66.8" height="33.5" fill="#1c1616"/>
<ellipse cx="288.36" cy="327.5" rx="10" ry="9" fill="#9a9292" filter="url(#blur5)" opacity="0.3"/>
<path d="M248.96,336.02 L249.92,336.03 L250.88,336.04 L251.84,336.05 L252.80,336.06 L253.76,336.08 L254.72,336.10 L255.68,336.13 L256.64,336.15 L257.60,336.19 L258.56,336.23 L259.52,336.28 L260.48,336.33 L261.44,336.40 L262.40,336.47 L263.36,336.55 L264.32,336.65 L265.28,336.75 L266.24,336.87 L267.20,337.00 L268.16,337.14 L269.12,337.29 L270.08,337.45 L271.04,337.63 L272.00,337.81 L272.96,338.00 L273.92,338.19 L274.88,338.39 L275.84,338.59 L276.80,338.78 L277.76,338.98 L278.72,339.16 L279.68,339.34 L280.64,339.50 L281.60,339.65 L282.56,339.78 L283.52,339.90 L284.48,339.98 L285.44,340.05 L286.40,340.09 L287.36,340.10 L288.32,340.09 L289.28,340.05 L290.24,339.98 L291.20,339.90 L292.16,339.78 L293.12,339.65 L294.08,339.50 L295.04,339.34 L296.00,339.16 L296.96,338.98 L297.92,338.78 L298.88,338.59 L299.84,338.39 L300.80,338.19 L301.76,338.00 L302.72,337.81 L303.68,337.63 L304.64,337.45 L305.60,337.29 L306.56,337.14 L307.52,337.00 L308.48,336.87 L309.44,336.75 L310.40,336.65 L311.36,336.55 L312.32,336.47 L313.28,336.40 L314.24,336.33 L315.20,336.28 L316.16,336.23 L317.12,336.19 L318.08,336.15 L319.04,336.13 L320.00,336.10 L320.96,336.08 L321.92,336.06 L322.88,336.05 L323.84,336.04 L324.80,336.03 L325.76,336.02" fill="none" stroke="#5e5656" stroke-width="12.5" filter="url(#blur3)" opacity="0.76"/>
<path d="M248.96,336.02 L249.92,336.03 L250.88,336.04 L251.84,336.05 L252.80,336.06 L253.76,336.08 L254.72,336.10 L255.68,336.13 L256.64,336.15 L257.60,336.19 L258.56,336.23 L259.52,336.28 L260.48,336.33 L261.44,336.40 L262.40,336.47 L263.36,336.55 L264.32,336.65 L265.28,336.75 L266.24,336.87 L267.20,337.00 L268.16,337.14 L269.12,337.29 L270.08,337.45 L271.04,337.63 L272.00,337.81 L272.96,338.00 L273.92,338.19 L274.88,338.39 L275.84,338.59 L276.80,338.78 L277.76,338.98 L278.72,339.16 L279.68,339.34 L280.64,339.50 L281.60,339.65 L282.56,339.78 L283.52,339.90 L284.48,339.98 L285.44,340.05 L286.40,340.09 L287.36,340.10 L288.32,340.09 L289.28,340.05 L290.24,339.98 L291.20,339.90 L292.16,339.78 L293.12,339.65 L294.08,339.50 L295.04,339.34 L296.00,339.16 L296.96,338.98 L297.92,338.78 L298.88,338.59 L299.84,338.39 L300.80,338.19 L301.76,338.00 L302.72,337.81 L303.68,337.63 L304.64,337.45 L305.60,337.29 L306.56,337.14 L307.52,337.00 L308.48,336.87 L309.44,336.75 L310.40,336.65 L311.36,336.55 L312.32,336.47 L313.28,336.40 L314.24,336.33 L315.20,336.28 L316.16,336.23 L317.12,336.19 L318.08,336.15 L319.04,336.13 L320.00,336.10 L320.96,336.08 L321.92,336.06 L322.88,336.05 L323.84,336.04 L324.80,336.03 L325.76,336.02" fill="none" stroke="#d4cfcf" stroke-width="6.8" filter="url(#blur2)" opacity="0.95"/>
<path d="M248.96,336.02 L249.92,336.03 L250.88,336.04 L251.84,336.05 L252.80,336.06 L253.76,336.08 L254.72,336.10 L255.68,336.13 L256.64,336.15 L257.60,336.19 L258.56,336.23 L259.52,336.28 L260.48,336.33 L261.44,336.40 L262.40,336.47 L263.36,336.55 L264.32,336.65 L265.28,336.75 L266.24,336.87 L267.20,337.00 L268.16,337.14 L269.12,337.29 L270.08,337.45 L271.04,337.63 L272.00,337.81 L272.96,338.00 L273.92,338.19 L274.88,338.39 L275.84,338.59 L276.80,338.78 L277.76,338.98 L278.72,339.16 L279.68,339.34 L280.64,339.50 L281.60,339.65 L282.56,339.78 L283.52,339.90 L284.48,339.98 L285.44,340.05 L286.40,340.09 L287.36,340.10 L288.32,340.09 L289.28,340.05 L290.24,339.98 L291.20,339.90 L292.16,339.78 L293.12,339.65 L294.08,339.50 L295.04,339.34 L296.00,339.16 L296.96,338.98 L297.92,338.78 L298.88,338.59 L299.84,338.39 L300.80,338.19 L301.76,338.00 L302.72,337.81 L303.68,337.63 L304.64,337.45 L305.60,337.29 L306.56,337.14 L307.52,337.00 L308.48,336.87 L309.44,336.75 L310.40,336.65 L311.36,336.55 L312.32,336.47 L313.28,336.40 L314.24,336.33 L315.20,336.28 L316.16,336.23 L317.12,336.19 L318.08,336.15 L319.04,336.13 L320.00,336.10 L320.96,336.08 L321.92,336.06 L322.88,336.05 L323.84,336.04 L324.80,336.03 L325.76,336.02" fill="none" stroke="#ffffff" stroke-width="3.5" filter="url(#blur1)" opacity="0.71"/>
<rect x="253.96" y="319.5" width="66.8" height="33.5" fill="url(#edgeg)"/>
<rect x="253.96" y="319.5" width="66.8" height="33.5" filter="url(#noisel)" style="mix-blend-mode:multiply"/>
<rect x="253.96" y="319.5" width="66.8" height="33.5" filter="url(#noisem)" style="mix-blend-mode:multiply"/>
</g>
<clipPath id="cp24"><rect x="324.23" y="319.5" width="66.8" height="33.5"/></clipPath>
<g clip-path="url(#cp24)">
<rect x="324.23" y="319.5" width="66.8" height="33.5" fill="#1c1616"/>
<ellipse cx="358.63" cy="327.5" rx="10" ry="9" fill="#9a9292" filter="url(#blur5)" opacity="0.25"/>
<path d="M319.23,336.69 L320.19,336.72 L321.15,336.76 L322.11,336.80 L323.07,336.85 L324.03,336.91 L324.99,336.97 L325.95,337.04 L326.91,337.11 L327.87,337.20 L328.83,337.29 L329.79,337.39 L330.75,337.50 L331.71,337.62 L332.67,337.75 L333.63,337.89 L334.59,338.04 L335.55,338.19 L336.51,338.36 L337.47,338.53 L338.43,338.70 L339.39,338.89 L340.35,339.08 L341.31,339.27 L342.27,339.46 L343.23,339.65 L344.19,339.85 L345.15,340.04 L346.11,340.22 L347.07,340.40 L348.03,340.57 L348.99,340.74 L349.95,340.89 L350.91,341.02 L351.87,341.14 L352.83,341.25 L353.79,341.34 L354.75,341.41 L355.71,341.46 L356.67,341.49 L357.63,341.50 L358.59,341.49 L359.55,341.46 L360.51,341.41 L361.47,341.34 L362.43,341.25 L363.39,341.14 L364.35,341.02 L365.31,340.89 L366.27,340.74 L367.23,340.57 L368.19,340.40 L369.15,340.22 L370.11,340.04 L371.07,339.85 L372.03,339.65 L372.99,339.46 L373.95,339.27 L374.91,339.08 L375.87,338.89 L376.83,338.70 L377.79,338.53 L378.75,338.36 L379.71,338.19 L380.67,338.04 L381.63,337.89 L382.59,337.75 L383.55,337.62 L384.51,337.50 L385.47,337.39 L386.43,337.29 L387.39,337.20 L388.35,337.11 L389.31,337.04 L390.27,336.97 L391.23,336.91 L392.19,336.85 L393.15,336.80 L394.11,336.76 L395.07,336.72 L396.03,336.69" fill="none" stroke="#5e5656" stroke-width="12.5" filter="url(#blur3)" opacity="0.80"/>
<path d="M319.23,336.69 L320.19,336.72 L321.15,336.76 L322.11,336.80 L323.07,336.85 L324.03,336.91 L324.99,336.97 L325.95,337.04 L326.91,337.11 L327.87,337.20 L328.83,337.29 L329.79,337.39 L330.75,337.50 L331.71,337.62 L332.67,337.75 L333.63,337.89 L334.59,338.04 L335.55,338.19 L336.51,338.36 L337.47,338.53 L338.43,338.70 L339.39,338.89 L340.35,339.08 L341.31,339.27 L342.27,339.46 L343.23,339.65 L344.19,339.85 L345.15,340.04 L346.11,340.22 L347.07,340.40 L348.03,340.57 L348.99,340.74 L349.95,340.89 L350.91,341.02 L351.87,341.14 L352.83,341.25 L353.79,341.34 L354.75,341.41 L355.71,341.46 L356.67,341.49 L357.63,341.50 L358.59,341.49 L359.55,341.46 L360.51,341.41 L361.47,341.34 L362.43,341.25 L363.39,341.14 L364.35,341.02 L365.31,340.89 L366.27,340.74 L367.23,340.57 L368.19,340.40 L369.15,340.22 L370.11,340.04 L371.07,339.85 L372.03,339.65 L372.99,339.46 L373.95,339.27 L374.91,339.08 L375.87,338.89 L376.83,338.70 L377.79,338.53 L378.75,338.36 L379.71,338.19 L380.67,338.04 L381.63,337.89 L382.59,337.75 L383.55,337.62 L384.51,337.50 L385.47,337.39 L386.43,337.29 L387.39,337.20 L388.35,337.11 L389.31,337.04 L390.27,336.97 L391.23,336.91 L392.19,336.85 L393.15,336.80 L394.11,336.76 L395.07,336.72 L396.03,336.69" fill="none" stroke="#d4cfcf" stroke-width="6.8" filter="url(#blur2)" opacity="1.00"/>
<path d="M319.23,336.69 L320.19,336.72 L321.15,336.76 L322.11,336.80 L323.07,336.85 L324.03,336.91 L324.99,336.97 L325.95,337.04 L326.91,337.11 L327.87,337.20 L328.83,337.29 L329.79,337.39 L330.75,337.50 L331.71,337.62 L332.67,337.75 L333.63,337.89 L334.59,338.04 L335.55,338.19 L336.51,338.36 L337.47,338.53 L338.43,338.70 L339.39,338.89 L340.35,339.08 L341.31,339.27 L342.27,339.46 L343.23,339.65 L344.19,339.85 L345.15,340.04 L346.11,340.22 L347.07,340.40 L348.03,340.57 L348.99,340.74 L349.95,340.89 L350.91,341.02 L351.87,341.14 L352.83,341.25 L353.79,341.34 L354.75,341.41 L355.71,341.46 L356.67,341.49 L357.63,341.50 L358.59,341.49 L359.55,341.46 L360.51,341.41 L361.47,341.34 L362.43,341.25 L363.39,341.14 L364.35,341.02 L365.31,340.89 L366.27,340.74 L367.23,340.57 L368.19,340.40 L369.15,340.22 L370.11,340.04 L371.07,339.85 L372.03,339.65 L372.99,339.46 L373.95,339.27 L374.91,339.08 L375.87,338.89 L376.83,338.70 L377.79,338.53 L378.75,338.36 L379.71,338.19 L380.67,338.04 L381.63,337.89 L382.59,337.75 L383.55,337.62 L384.51,337.50 L385.47,337.39 L386.43,337.29 L387.39,337.20 L388.35,337.11 L389.31,337.04 L390.27,336.97 L391.23,336.91 L392.19,336.85 L393.15,336.80 L394.11,336.76 L395.07,336.72 L396.03,336.69" fill="none" stroke="#ffffff" stroke-width="3.5" filter="url(#blur1)" opacity="0.75"/>
<rect x="324.23" y="319.5" width="66.8" height="33.5" fill="url(#edgeg)"/>
<rect x="324.23" y="319.5" width="66.8" height="33.5" filter="url(#noisel)" style="mix-blend-mode:multiply"/>
<rect x="324.23" y="319.5" width="66.8" height="33.5" filter="url(#noisem)" style="mix-blend-mode:multiply"/>
</g>
<clipPath id="cp25"><rect x="394.50" y="319.5" width="66.8" height="33.5"/></clipPath>
<g clip-path="url(#cp25)">
<rect x="394.50" y="319.5" width="66.8" height="33.5" fill="#1c1616"/>
<ellipse cx="428.90" cy="327.5" rx="10" ry="9" fill="#9a9292" filter="url(#blur5)" opacity="0.1"/>
<path d="M389.50,337.83 L390.46,337.85 L391.42,337.87 L392.38,337.89 L393.34,337.91 L394.30,337.93 L395.26,337.95 L396.22,337.98 L397.18,338.00 L398.14,338.03 L399.10,338.06 L400.06,338.09 L401.02,338.13 L401.98,338.16 L402.94,338.20 L403.90,338.23 L404.86,338.27 L405.82,338.31 L406.78,338.35 L407.74,338.39 L408.70,338.44 L409.66,338.48 L410.62,338.52 L411.58,338.56 L412.54,338.60 L413.50,338.64 L414.46,338.68 L415.42,338.72 L416.38,338.76 L417.34,338.79 L418.30,338.83 L419.26,338.86 L420.22,338.89 L421.18,338.91 L422.14,338.94 L423.10,338.95 L424.06,338.97 L425.02,338.98 L425.98,338.99 L426.94,339.00 L427.90,339.00 L428.86,339.00 L429.82,338.99 L430.78,338.98 L431.74,338.97 L432.70,338.95 L433.66,338.94 L434.62,338.91 L435.58,338.89 L436.54,338.86 L437.50,338.83 L438.46,338.79 L439.42,338.76 L440.38,338.72 L441.34,338.68 L442.30,338.64 L443.26,338.60 L444.22,338.56 L445.18,338.52 L446.14,338.48 L447.10,338.44 L448.06,338.39 L449.02,338.35 L449.98,338.31 L450.94,338.27 L451.90,338.23 L452.86,338.20 L453.82,338.16 L454.78,338.13 L455.74,338.09 L456.70,338.06 L457.66,338.03 L458.62,338.00 L459.58,337.98 L460.54,337.95 L461.50,337.93 L462.46,337.91 L463.42,337.89 L464.38,337.87 L465.34,337.85 L466.30,337.83" fill="none" stroke="#5e5656" stroke-width="12.5" filter="url(#blur3)" opacity="0.76"/>
<path d="M389.50,337.83 L390.46,337.85 L391.42,337.87 L392.38,337.89 L393.34,337.91 L394.30,337.93 L395.26,337.95 L396.22,337.98 L397.18,338.00 L398.14,338.03 L399.10,338.06 L400.06,338.09 L401.02,338.13 L401.98,338.16 L402.94,338.20 L403.90,338.23 L404.86,338.27 L405.82,338.31 L406.78,338.35 L407.74,338.39 L408.70,338.44 L409.66,338.48 L410.62,338.52 L411.58,338.56 L412.54,338.60 L413.50,338.64 L414.46,338.68 L415.42,338.72 L416.38,338.76 L417.34,338.79 L418.30,338.83 L419.26,338.86 L420.22,338.89 L421.18,338.91 L422.14,338.94 L423.10,338.95 L424.06,338.97 L425.02,338.98 L425.98,338.99 L426.94,339.00 L427.90,339.00 L428.86,339.00 L429.82,338.99 L430.78,338.98 L431.74,338.97 L432.70,338.95 L433.66,338.94 L434.62,338.91 L435.58,338.89 L436.54,338.86 L437.50,338.83 L438.46,338.79 L439.42,338.76 L440.38,338.72 L441.34,338.68 L442.30,338.64 L443.26,338.60 L444.22,338.56 L445.18,338.52 L446.14,338.48 L447.10,338.44 L448.06,338.39 L449.02,338.35 L449.98,338.31 L450.94,338.27 L451.90,338.23 L452.86,338.20 L453.82,338.16 L454.78,338.13 L455.74,338.09 L456.70,338.06 L457.66,338.03 L458.62,338.00 L459.58,337.98 L460.54,337.95 L461.50,337.93 L462.46,337.91 L463.42,337.89 L464.38,337.87 L465.34,337.85 L466.30,337.83" fill="none" stroke="#d4cfcf" stroke-width="6.8" filter="url(#blur2)" opacity="0.95"/>
<path d="M389.50,337.83 L390.46,337.85 L391.42,337.87 L392.38,337.89 L393.34,337.91 L394.30,337.93 L395.26,337.95 L396.22,337.98 L397.18,338.00 L398.14,338.03 L399.10,338.06 L400.06,338.09 L401.02,338.13 L401.98,338.16 L402.94,338.20 L403.90,338.23 L404.86,338.27 L405.82,338.31 L406.78,338.35 L407.74,338.39 L408.70,338.44 L409.66,338.48 L410.62,338.52 L411.58,338.56 L412.54,338.60 L413.50,338.64 L414.46,338.68 L415.42,338.72 L416.38,338.76 L417.34,338.79 L418.30,338.83 L419.26,338.86 L420.22,338.89 L421.18,338.91 L422.14,338.94 L423.10,338.95 L424.06,338.97 L425.02,338.98 L425.98,338.99 L426.94,339.00 L427.90,339.00 L428.86,339.00 L429.82,338.99 L430.78,338.98 L431.74,338.97 L432.70,338.95 L433.66,338.94 L434.62,338.91 L435.58,338.89 L436.54,338.86 L437.50,338.83 L438.46,338.79 L439.42,338.76 L440.38,338.72 L441.34,338.68 L442.30,338.64 L443.26,338.60 L444.22,338.56 L445.18,338.52 L446.14,338.48 L447.10,338.44 L448.06,338.39 L449.02,338.35 L449.98,338.31 L450.94,338.27 L451.90,338.23 L452.86,338.20 L453.82,338.16 L454.78,338.13 L455.74,338.09 L456.70,338.06 L457.66,338.03 L458.62,338.00 L459.58,337.98 L460.54,337.95 L461.50,337.93 L462.46,337.91 L463.42,337.89 L464.38,337.87 L465.34,337.85 L466.30,337.83" fill="none" stroke="#ffffff" stroke-width="3.5" filter="url(#blur1)" opacity="0.71"/>
<rect x="394.50" y="319.5" width="66.8" height="33.5" fill="url(#edgeg)"/>
<rect x="394.50" y="319.5" width="66.8" height="33.5" filter="url(#noisel)" style="mix-blend-mode:multiply"/>
<rect x="394.50" y="319.5" width="66.8" height="33.5" filter="url(#noisem)" style="mix-blend-mode:multiply"/>
</g>
</g>
<clipPath id="cpall">
<rect x="43.15" y="235.1" width="66.8" height="33.5"/>
<rect x="113.42" y="235.1" width="66.8" height="33.5"/>
<rect x="183.69" y="235.1" width="66.8" height="33.5"/>
<rect x="253.96" y="235.1" width="66.8" height="33.5"/>
<rect x="324.23" y="235.1" width="66.8" height="33.5"/>
<rect x="394.50" y="235.1" width="66.8" height="33.5"/>
<rect x="43.15" y="277.2" width="66.8" height="33.5"/>
<rect x="113.42" y="277.2" width="66.8" height="33.5"/>
<rect x="183.69" y="277.2" width="66.8" height="33.5"/>
<rect x="253.96" y="277.2" width="66.8" height="33.5"/>
<rect x="324.23" y="277.2" width="66.8" height="33.5"/>
<rect x="394.50" y="277.2" width="66.8" height="33.5"/>
<rect x="43.15" y="319.5" width="66.8" height="33.5"/>
<rect x="113.42" y="319.5" width="66.8" height="33.5"/>
<rect x="183.69" y="319.5" width="66.8" height="33.5"/>
<rect x="253.96" y="319.5" width="66.8" height="33.5"/>
<rect x="324.23" y="319.5" width="66.8" height="33.5"/>
<rect x="394.50" y="319.5" width="66.8" height="33.5"/>
</clipPath>
<g clip-path="url(#cpall)"><rect x="43" y="235" width="420" height="119" filter="url(#noise)" opacity="0.16"/></g>
<path d="M61.8,277.3 C61.5,298 68,308 79,308 C90,308 96,298 95.3,277.3" fill="none" stroke="#f5a31f" stroke-width="1.75" stroke-dasharray="3.3,2"/>
<text x="97" y="346.6" font-size="8.8" text-anchor="middle" fill="#fff" font-weight="normal" font-style="normal" >10 <tspan font-style="italic">μ</tspan>m</text>
<rect x="89.2" y="348.3" width="16.4" height="2.0" fill="#fff"/>
<path d="M-4.90,-1.25 L0.40,-1.25 L0.40,-2.85 L4.90,0.00 L0.40,2.85 L0.40,1.25 L-4.90,1.25 Z" transform="translate(470,264) rotate(0)" fill="#4a9fe2" stroke="#1f5482" stroke-width="0.65" stroke-linejoin="round"/>
<path d="M-4.90,-1.25 L0.40,-1.25 L0.40,-2.85 L4.90,0.00 L0.40,2.85 L0.40,1.25 L-4.90,1.25 Z" transform="translate(470,273.3) rotate(32)" fill="#4a9fe2" stroke="#1f5482" stroke-width="0.65" stroke-linejoin="round"/>
<path d="M-4.90,-1.25 L0.40,-1.25 L0.40,-2.85 L4.90,0.00 L0.40,2.85 L0.40,1.25 L-4.90,1.25 Z" transform="translate(470,283.5) rotate(65)" fill="#4a9fe2" stroke="#1f5482" stroke-width="0.65" stroke-linejoin="round"/>
<path d="M-4.90,-1.25 L0.40,-1.25 L0.40,-2.85 L4.90,0.00 L0.40,2.85 L0.40,1.25 L-4.90,1.25 Z" transform="translate(470,293.7) rotate(90)" fill="#4a9fe2" stroke="#1f5482" stroke-width="0.65" stroke-linejoin="round"/>
<path d="M-4.90,-1.25 L0.40,-1.25 L0.40,-2.85 L4.90,0.00 L0.40,2.85 L0.40,1.25 L-4.90,1.25 Z" transform="translate(470,304) rotate(115)" fill="#4a9fe2" stroke="#1f5482" stroke-width="0.65" stroke-linejoin="round"/>
<path d="M-4.90,-1.25 L0.40,-1.25 L0.40,-2.85 L4.90,0.00 L0.40,2.85 L0.40,1.25 L-4.90,1.25 Z" transform="translate(470,314.4) rotate(148)" fill="#4a9fe2" stroke="#1f5482" stroke-width="0.65" stroke-linejoin="round"/>
<path d="M-4.90,-1.25 L0.40,-1.25 L0.40,-2.85 L4.90,0.00 L0.40,2.85 L0.40,1.25 L-4.90,1.25 Z" transform="translate(470,324) rotate(180)" fill="#4a9fe2" stroke="#1f5482" stroke-width="0.65" stroke-linejoin="round"/>
<text x="470" y="336.6" font-size="8.8" text-anchor="middle" fill="#000" font-weight="bold" font-style="normal" >n</text>
</g>
<g id="pf">
<text x="498.8" y="252" font-size="11.8" text-anchor="start" fill="#000" font-weight="bold" font-style="normal" >f</text>
<text x="549" y="254.2" font-size="10.1" text-anchor="middle"><tspan font-style="italic">w</tspan> = -1/2</text>
<text x="641.2" y="254.2" font-size="10.1" text-anchor="middle"><tspan font-style="italic">w</tspan> = +1/2</text>
<text x="495.6" y="279.5" font-size="10" text-anchor="start" fill="#000" font-weight="normal" font-style="normal" >LCP</text>
<text x="495.6" y="318.8" font-size="10" text-anchor="start" fill="#000" font-weight="normal" font-style="normal" >RCP</text>
<text x="597.4" y="346" font-size="9.6" text-anchor="middle"><tspan font-style="italic">t</tspan> = 200 ps</text>
<clipPath id="cf1"><rect x="519.5" y="260.2" width="60.4" height="30.3"/></clipPath><g clip-path="url(#cf1)">
<rect x="519.5" y="260.2" width="60.4" height="30.3" fill="#303030"/>
<path d="M514.50,272.66 L515.38,272.60 L516.26,272.54 L517.14,272.47 L518.02,272.40 L518.90,272.32 L519.78,272.23 L520.66,272.14 L521.54,272.03 L522.42,271.92 L523.30,271.80 L524.18,271.67 L525.06,271.54 L525.94,271.39 L526.82,271.24 L527.70,271.08 L528.58,270.91 L529.46,270.74 L530.34,270.56 L531.22,270.38 L532.10,270.19 L532.98,269.99 L533.86,269.80 L534.74,269.60 L535.62,269.41 L536.50,269.21 L537.38,269.02 L538.26,268.83 L539.14,268.65 L540.02,268.47 L540.90,268.31 L541.78,268.15 L542.66,268.01 L543.54,267.88 L544.42,267.76 L545.30,267.66 L546.18,267.57 L547.06,267.50 L547.94,267.45 L548.82,267.42 L549.70,267.40 L550.58,267.40 L551.46,267.42 L552.34,267.46 L553.22,267.52 L554.10,267.59 L554.98,267.68 L555.86,267.79 L556.74,267.91 L557.62,268.04 L558.50,268.18 L559.38,268.34 L560.26,268.50 L561.14,268.67 L562.02,268.84 L562.90,269.02 L563.78,269.21 L564.66,269.39 L565.54,269.57 L566.42,269.76 L567.30,269.94 L568.18,270.11 L569.06,270.29 L569.94,270.45 L570.82,270.61 L571.70,270.77 L572.58,270.92 L573.46,271.06 L574.34,271.19 L575.22,271.31 L576.10,271.43 L576.98,271.53 L577.86,271.63 L578.74,271.72 L579.62,271.81 L580.50,271.88 L581.38,271.95 L582.26,272.01 L583.14,272.07 L584.02,272.12 L584.90,272.16" fill="none" stroke="#707070" stroke-width="10" filter="url(#blur3)" opacity="0.8"/>
<path d="M514.50,272.66 L515.38,272.60 L516.26,272.54 L517.14,272.47 L518.02,272.40 L518.90,272.32 L519.78,272.23 L520.66,272.14 L521.54,272.03 L522.42,271.92 L523.30,271.80 L524.18,271.67 L525.06,271.54 L525.94,271.39 L526.82,271.24 L527.70,271.08 L528.58,270.91 L529.46,270.74 L530.34,270.56 L531.22,270.38 L532.10,270.19 L532.98,269.99 L533.86,269.80 L534.74,269.60 L535.62,269.41 L536.50,269.21 L537.38,269.02 L538.26,268.83 L539.14,268.65 L540.02,268.47 L540.90,268.31 L541.78,268.15 L542.66,268.01 L543.54,267.88 L544.42,267.76 L545.30,267.66 L546.18,267.57 L547.06,267.50 L547.94,267.45 L548.82,267.42 L549.70,267.40 L550.58,267.40 L551.46,267.42 L552.34,267.46 L553.22,267.52 L554.10,267.59 L554.98,267.68 L555.86,267.79 L556.74,267.91 L557.62,268.04 L558.50,268.18 L559.38,268.34 L560.26,268.50 L561.14,268.67 L562.02,268.84 L562.90,269.02 L563.78,269.21 L564.66,269.39 L565.54,269.57 L566.42,269.76 L567.30,269.94 L568.18,270.11 L569.06,270.29 L569.94,270.45 L570.82,270.61 L571.70,270.77 L572.58,270.92 L573.46,271.06 L574.34,271.19 L575.22,271.31 L576.10,271.43 L576.98,271.53 L577.86,271.63 L578.74,271.72 L579.62,271.81 L580.50,271.88 L581.38,271.95 L582.26,272.01 L583.14,272.07 L584.02,272.12 L584.90,272.16" fill="none" stroke="#bdbdbd" stroke-width="5.5" filter="url(#blur2)" opacity="0.95"/>
<path d="M514.50,272.66 L515.38,272.60 L516.26,272.54 L517.14,272.47 L518.02,272.40 L518.90,272.32 L519.78,272.23 L520.66,272.14 L521.54,272.03 L522.42,271.92 L523.30,271.80 L524.18,271.67 L525.06,271.54 L525.94,271.39 L526.82,271.24 L527.70,271.08 L528.58,270.91 L529.46,270.74 L530.34,270.56 L531.22,270.38 L532.10,270.19 L532.98,269.99 L533.86,269.80 L534.74,269.60 L535.62,269.41 L536.50,269.21 L537.38,269.02 L538.26,268.83 L539.14,268.65 L540.02,268.47 L540.90,268.31 L541.78,268.15 L542.66,268.01 L543.54,267.88 L544.42,267.76 L545.30,267.66 L546.18,267.57 L547.06,267.50 L547.94,267.45 L548.82,267.42 L549.70,267.40 L550.58,267.40 L551.46,267.42 L552.34,267.46 L553.22,267.52 L554.10,267.59 L554.98,267.68 L555.86,267.79 L556.74,267.91 L557.62,268.04 L558.50,268.18 L559.38,268.34 L560.26,268.50 L561.14,268.67 L562.02,268.84 L562.90,269.02 L563.78,269.21 L564.66,269.39 L565.54,269.57 L566.42,269.76 L567.30,269.94 L568.18,270.11 L569.06,270.29 L569.94,270.45 L570.82,270.61 L571.70,270.77 L572.58,270.92 L573.46,271.06 L574.34,271.19 L575.22,271.31 L576.10,271.43 L576.98,271.53 L577.86,271.63 L578.74,271.72 L579.62,271.81 L580.50,271.88 L581.38,271.95 L582.26,272.01 L583.14,272.07 L584.02,272.12 L584.90,272.16" fill="none" stroke="#f4f4f4" stroke-width="2.2" filter="url(#blur1)" opacity="0.4"/>
<rect x="519.5" y="260.2" width="60.4" height="30.3" filter="url(#noisem)" style="mix-blend-mode:multiply" opacity="0.7"/>
</g>
<clipPath id="cf2"><rect x="519.5" y="299" width="60.4" height="30.3"/></clipPath><g clip-path="url(#cf2)">
<rect x="519.5" y="299" width="60.4" height="30.3" fill="#303030"/>
<path d="M514.50,315.53 L515.38,315.58 L516.26,315.64 L517.14,315.71 L518.02,315.78 L518.90,315.86 L519.78,315.94 L520.66,316.03 L521.54,316.13 L522.42,316.24 L523.30,316.36 L524.18,316.48 L525.06,316.61 L525.94,316.75 L526.82,316.89 L527.70,317.05 L528.58,317.21 L529.46,317.38 L530.34,317.55 L531.22,317.73 L532.10,317.91 L532.98,318.10 L533.86,318.29 L534.74,318.48 L535.62,318.67 L536.50,318.86 L537.38,319.04 L538.26,319.22 L539.14,319.40 L540.02,319.57 L540.90,319.73 L541.78,319.88 L542.66,320.02 L543.54,320.14 L544.42,320.26 L545.30,320.36 L546.18,320.44 L547.06,320.51 L547.94,320.55 L548.82,320.59 L549.70,320.60 L550.58,320.60 L551.46,320.57 L552.34,320.54 L553.22,320.48 L554.10,320.41 L554.98,320.32 L555.86,320.21 L556.74,320.10 L557.62,319.97 L558.50,319.83 L559.38,319.68 L560.26,319.52 L561.14,319.35 L562.02,319.18 L562.90,319.01 L563.78,318.83 L564.66,318.65 L565.54,318.47 L566.42,318.29 L567.30,318.11 L568.18,317.94 L569.06,317.77 L569.94,317.61 L570.82,317.45 L571.70,317.30 L572.58,317.15 L573.46,317.02 L574.34,316.89 L575.22,316.77 L576.10,316.66 L576.98,316.55 L577.86,316.45 L578.74,316.36 L579.62,316.28 L580.50,316.21 L581.38,316.14 L582.26,316.08 L583.14,316.02 L584.02,315.97 L584.90,315.93" fill="none" stroke="#707070" stroke-width="10" filter="url(#blur3)" opacity="0.8"/>
<path d="M514.50,315.53 L515.38,315.58 L516.26,315.64 L517.14,315.71 L518.02,315.78 L518.90,315.86 L519.78,315.94 L520.66,316.03 L521.54,316.13 L522.42,316.24 L523.30,316.36 L524.18,316.48 L525.06,316.61 L525.94,316.75 L526.82,316.89 L527.70,317.05 L528.58,317.21 L529.46,317.38 L530.34,317.55 L531.22,317.73 L532.10,317.91 L532.98,318.10 L533.86,318.29 L534.74,318.48 L535.62,318.67 L536.50,318.86 L537.38,319.04 L538.26,319.22 L539.14,319.40 L540.02,319.57 L540.90,319.73 L541.78,319.88 L542.66,320.02 L543.54,320.14 L544.42,320.26 L545.30,320.36 L546.18,320.44 L547.06,320.51 L547.94,320.55 L548.82,320.59 L549.70,320.60 L550.58,320.60 L551.46,320.57 L552.34,320.54 L553.22,320.48 L554.10,320.41 L554.98,320.32 L555.86,320.21 L556.74,320.10 L557.62,319.97 L558.50,319.83 L559.38,319.68 L560.26,319.52 L561.14,319.35 L562.02,319.18 L562.90,319.01 L563.78,318.83 L564.66,318.65 L565.54,318.47 L566.42,318.29 L567.30,318.11 L568.18,317.94 L569.06,317.77 L569.94,317.61 L570.82,317.45 L571.70,317.30 L572.58,317.15 L573.46,317.02 L574.34,316.89 L575.22,316.77 L576.10,316.66 L576.98,316.55 L577.86,316.45 L578.74,316.36 L579.62,316.28 L580.50,316.21 L581.38,316.14 L582.26,316.08 L583.14,316.02 L584.02,315.97 L584.90,315.93" fill="none" stroke="#bdbdbd" stroke-width="5.5" filter="url(#blur2)" opacity="0.95"/>
<path d="M514.50,315.53 L515.38,315.58 L516.26,315.64 L517.14,315.71 L518.02,315.78 L518.90,315.86 L519.78,315.94 L520.66,316.03 L521.54,316.13 L522.42,316.24 L523.30,316.36 L524.18,316.48 L525.06,316.61 L525.94,316.75 L526.82,316.89 L527.70,317.05 L528.58,317.21 L529.46,317.38 L530.34,317.55 L531.22,317.73 L532.10,317.91 L532.98,318.10 L533.86,318.29 L534.74,318.48 L535.62,318.67 L536.50,318.86 L537.38,319.04 L538.26,319.22 L539.14,319.40 L540.02,319.57 L540.90,319.73 L541.78,319.88 L542.66,320.02 L543.54,320.14 L544.42,320.26 L545.30,320.36 L546.18,320.44 L547.06,320.51 L547.94,320.55 L548.82,320.59 L549.70,320.60 L550.58,320.60 L551.46,320.57 L552.34,320.54 L553.22,320.48 L554.10,320.41 L554.98,320.32 L555.86,320.21 L556.74,320.10 L557.62,319.97 L558.50,319.83 L559.38,319.68 L560.26,319.52 L561.14,319.35 L562.02,319.18 L562.90,319.01 L563.78,318.83 L564.66,318.65 L565.54,318.47 L566.42,318.29 L567.30,318.11 L568.18,317.94 L569.06,317.77 L569.94,317.61 L570.82,317.45 L571.70,317.30 L572.58,317.15 L573.46,317.02 L574.34,316.89 L575.22,316.77 L576.10,316.66 L576.98,316.55 L577.86,316.45 L578.74,316.36 L579.62,316.28 L580.50,316.21 L581.38,316.14 L582.26,316.08 L583.14,316.02 L584.02,315.97 L584.90,315.93" fill="none" stroke="#f4f4f4" stroke-width="2.2" filter="url(#blur1)" opacity="0.4"/>
<rect x="519.5" y="299" width="60.4" height="30.3" filter="url(#noisem)" style="mix-blend-mode:multiply" opacity="0.7"/>
</g>
<line x1="519.5" y1="276.2" x2="579.9" y2="276.2" stroke="#ecd161" stroke-width="1.3" stroke-dasharray="4,2.6"/>
<line x1="519.5" y1="315.2" x2="579.9" y2="315.2" stroke="#ecd161" stroke-width="1.3" stroke-dasharray="4,2.6"/>
<path d="M-4.90,-1.25 L0.40,-1.25 L0.40,-2.85 L4.90,0.00 L0.40,2.85 L0.40,1.25 L-4.90,1.25 Z" transform="translate(589.7,263.5) rotate(0)" fill="#4a9fe2" stroke="#1f5482" stroke-width="0.65" stroke-linejoin="round"/>
<path d="M-4.90,-1.25 L0.40,-1.25 L0.40,-2.85 L4.90,0.00 L0.40,2.85 L0.40,1.25 L-4.90,1.25 Z" transform="translate(589.7,272.8) rotate(32)" fill="#4a9fe2" stroke="#1f5482" stroke-width="0.65" stroke-linejoin="round"/>
<path d="M-4.90,-1.25 L0.40,-1.25 L0.40,-2.85 L4.90,0.00 L0.40,2.85 L0.40,1.25 L-4.90,1.25 Z" transform="translate(589.7,283.0) rotate(65)" fill="#4a9fe2" stroke="#1f5482" stroke-width="0.65" stroke-linejoin="round"/>
<path d="M-4.90,-1.25 L0.40,-1.25 L0.40,-2.85 L4.90,0.00 L0.40,2.85 L0.40,1.25 L-4.90,1.25 Z" transform="translate(589.7,293.2) rotate(90)" fill="#4a9fe2" stroke="#1f5482" stroke-width="0.65" stroke-linejoin="round"/>
<path d="M-4.90,-1.25 L0.40,-1.25 L0.40,-2.85 L4.90,0.00 L0.40,2.85 L0.40,1.25 L-4.90,1.25 Z" transform="translate(589.7,303.5) rotate(115)" fill="#4a9fe2" stroke="#1f5482" stroke-width="0.65" stroke-linejoin="round"/>
<path d="M-4.90,-1.25 L0.40,-1.25 L0.40,-2.85 L4.90,0.00 L0.40,2.85 L0.40,1.25 L-4.90,1.25 Z" transform="translate(589.7,313.9) rotate(148)" fill="#4a9fe2" stroke="#1f5482" stroke-width="0.65" stroke-linejoin="round"/>
<path d="M-4.90,-1.25 L0.40,-1.25 L0.40,-2.85 L4.90,0.00 L0.40,2.85 L0.40,1.25 L-4.90,1.25 Z" transform="translate(589.7,323.5) rotate(180)" fill="#4a9fe2" stroke="#1f5482" stroke-width="0.65" stroke-linejoin="round"/>
<g shape-rendering="crispEdges">
<rect x="610.60" y="259.60" width="3.31" height="3.29" fill="rgb(64,64,64)"/>
<rect x="613.61" y="259.60" width="3.31" height="3.29" fill="rgb(75,75,75)"/>
<rect x="616.62" y="259.60" width="3.31" height="3.29" fill="rgb(73,73,73)"/>
<rect x="619.63" y="259.60" width="3.31" height="3.29" fill="rgb(28,28,28)"/>
<rect x="622.64" y="259.60" width="3.31" height="3.29" fill="rgb(89,89,89)"/>
<rect x="625.65" y="259.60" width="3.31" height="3.29" fill="rgb(89,89,89)"/>
<rect x="628.66" y="259.60" width="3.31" height="3.29" fill="rgb(64,64,64)"/>
<rect x="631.67" y="259.60" width="3.31" height="3.29" fill="rgb(73,73,73)"/>
<rect x="634.68" y="259.60" width="3.31" height="3.29" fill="rgb(42,42,42)"/>
<rect x="637.69" y="259.60" width="3.31" height="3.29" fill="rgb(65,65,65)"/>
<rect x="640.70" y="259.60" width="3.31" height="3.29" fill="rgb(103,103,103)"/>
<rect x="643.71" y="259.60" width="3.31" height="3.29" fill="rgb(110,110,110)"/>
<rect x="646.72" y="259.60" width="3.31" height="3.29" fill="rgb(96,96,96)"/>
<rect x="649.73" y="259.60" width="3.31" height="3.29" fill="rgb(49,49,49)"/>
<rect x="652.74" y="259.60" width="3.31" height="3.29" fill="rgb(56,56,56)"/>
<rect x="655.75" y="259.60" width="3.31" height="3.29" fill="rgb(101,101,101)"/>
<rect x="658.76" y="259.60" width="3.31" height="3.29" fill="rgb(52,52,52)"/>
<rect x="661.77" y="259.60" width="3.31" height="3.29" fill="rgb(65,65,65)"/>
<rect x="664.78" y="259.60" width="3.31" height="3.29" fill="rgb(41,41,41)"/>
<rect x="667.79" y="259.60" width="3.31" height="3.29" fill="rgb(71,71,71)"/>
<rect x="610.60" y="262.59" width="3.31" height="3.29" fill="rgb(81,81,81)"/>
<rect x="613.61" y="262.59" width="3.31" height="3.29" fill="rgb(48,48,48)"/>
<rect x="616.62" y="262.59" width="3.31" height="3.29" fill="rgb(35,35,35)"/>
<rect x="619.63" y="262.59" width="3.31" height="3.29" fill="rgb(47,47,47)"/>
<rect x="622.64" y="262.59" width="3.31" height="3.29" fill="rgb(30,30,30)"/>
<rect x="625.65" y="262.59" width="3.31" height="3.29" fill="rgb(56,56,56)"/>
<rect x="628.66" y="262.59" width="3.31" height="3.29" fill="rgb(92,92,92)"/>
<rect x="631.67" y="262.59" width="3.31" height="3.29" fill="rgb(65,65,65)"/>
<rect x="634.68" y="262.59" width="3.31" height="3.29" fill="rgb(96,96,96)"/>
<rect x="637.69" y="262.59" width="3.31" height="3.29" fill="rgb(123,123,123)"/>
<rect x="640.70" y="262.59" width="3.31" height="3.29" fill="rgb(122,122,122)"/>
<rect x="643.71" y="262.59" width="3.31" height="3.29" fill="rgb(85,85,85)"/>
<rect x="646.72" y="262.59" width="3.31" height="3.29" fill="rgb(104,104,104)"/>
<rect x="649.73" y="262.59" width="3.31" height="3.29" fill="rgb(66,66,66)"/>
<rect x="652.74" y="262.59" width="3.31" height="3.29" fill="rgb(64,64,64)"/>
<rect x="655.75" y="262.59" width="3.31" height="3.29" fill="rgb(57,57,57)"/>
<rect x="658.76" y="262.59" width="3.31" height="3.29" fill="rgb(99,99,99)"/>
<rect x="661.77" y="262.59" width="3.31" height="3.29" fill="rgb(56,56,56)"/>
<rect x="664.78" y="262.59" width="3.31" height="3.29" fill="rgb(64,64,64)"/>
<rect x="667.79" y="262.59" width="3.31" height="3.29" fill="rgb(34,34,34)"/>
<rect x="610.60" y="265.58" width="3.31" height="3.29" fill="rgb(75,75,75)"/>
<rect x="613.61" y="265.58" width="3.31" height="3.29" fill="rgb(27,27,27)"/>
<rect x="616.62" y="265.58" width="3.31" height="3.29" fill="rgb(32,32,32)"/>
<rect x="619.63" y="265.58" width="3.31" height="3.29" fill="rgb(68,68,68)"/>
<rect x="622.64" y="265.58" width="3.31" height="3.29" fill="rgb(53,53,53)"/>
<rect x="625.65" y="265.58" width="3.31" height="3.29" fill="rgb(71,71,71)"/>
<rect x="628.66" y="265.58" width="3.31" height="3.29" fill="rgb(61,61,61)"/>
<rect x="631.67" y="265.58" width="3.31" height="3.29" fill="rgb(52,52,52)"/>
<rect x="634.68" y="265.58" width="3.31" height="3.29" fill="rgb(100,100,100)"/>
<rect x="637.69" y="265.58" width="3.31" height="3.29" fill="rgb(79,79,79)"/>
<rect x="640.70" y="265.58" width="3.31" height="3.29" fill="rgb(156,156,156)"/>
<rect x="643.71" y="265.58" width="3.31" height="3.29" fill="rgb(137,137,137)"/>
<rect x="646.72" y="265.58" width="3.31" height="3.29" fill="rgb(143,143,143)"/>
<rect x="649.73" y="265.58" width="3.31" height="3.29" fill="rgb(109,109,109)"/>
<rect x="652.74" y="265.58" width="3.31" height="3.29" fill="rgb(62,62,62)"/>
<rect x="655.75" y="265.58" width="3.31" height="3.29" fill="rgb(50,50,50)"/>
<rect x="658.76" y="265.58" width="3.31" height="3.29" fill="rgb(95,95,95)"/>
<rect x="661.77" y="265.58" width="3.31" height="3.29" fill="rgb(83,83,83)"/>
<rect x="664.78" y="265.58" width="3.31" height="3.29" fill="rgb(72,72,72)"/>
<rect x="667.79" y="265.58" width="3.31" height="3.29" fill="rgb(35,35,35)"/>
<rect x="610.60" y="268.57" width="3.31" height="3.29" fill="rgb(34,34,34)"/>
<rect x="613.61" y="268.57" width="3.31" height="3.29" fill="rgb(44,44,44)"/>
<rect x="616.62" y="268.57" width="3.31" height="3.29" fill="rgb(91,91,91)"/>
<rect x="619.63" y="268.57" width="3.31" height="3.29" fill="rgb(91,91,91)"/>
<rect x="622.64" y="268.57" width="3.31" height="3.29" fill="rgb(62,62,62)"/>
<rect x="625.65" y="268.57" width="3.31" height="3.29" fill="rgb(65,65,65)"/>
<rect x="628.66" y="268.57" width="3.31" height="3.29" fill="rgb(65,65,65)"/>
<rect x="631.67" y="268.57" width="3.31" height="3.29" fill="rgb(69,69,69)"/>
<rect x="634.68" y="268.57" width="3.31" height="3.29" fill="rgb(115,115,115)"/>
<rect x="637.69" y="268.57" width="3.31" height="3.29" fill="rgb(102,102,102)"/>
<rect x="640.70" y="268.57" width="3.31" height="3.29" fill="rgb(109,109,109)"/>
<rect x="643.71" y="268.57" width="3.31" height="3.29" fill="rgb(182,182,182)"/>
<rect x="646.72" y="268.57" width="3.31" height="3.29" fill="rgb(146,146,146)"/>
<rect x="649.73" y="268.57" width="3.31" height="3.29" fill="rgb(137,137,137)"/>
<rect x="652.74" y="268.57" width="3.31" height="3.29" fill="rgb(102,102,102)"/>
<rect x="655.75" y="268.57" width="3.31" height="3.29" fill="rgb(69,69,69)"/>
<rect x="658.76" y="268.57" width="3.31" height="3.29" fill="rgb(57,57,57)"/>
<rect x="661.77" y="268.57" width="3.31" height="3.29" fill="rgb(85,85,85)"/>
<rect x="664.78" y="268.57" width="3.31" height="3.29" fill="rgb(50,50,50)"/>
<rect x="667.79" y="268.57" width="3.31" height="3.29" fill="rgb(70,70,70)"/>
<rect x="610.60" y="271.56" width="3.31" height="3.29" fill="rgb(29,29,29)"/>
<rect x="613.61" y="271.56" width="3.31" height="3.29" fill="rgb(45,45,45)"/>
<rect x="616.62" y="271.56" width="3.31" height="3.29" fill="rgb(60,60,60)"/>
<rect x="619.63" y="271.56" width="3.31" height="3.29" fill="rgb(74,74,74)"/>
<rect x="622.64" y="271.56" width="3.31" height="3.29" fill="rgb(56,56,56)"/>
<rect x="625.65" y="271.56" width="3.31" height="3.29" fill="rgb(84,84,84)"/>
<rect x="628.66" y="271.56" width="3.31" height="3.29" fill="rgb(62,62,62)"/>
<rect x="631.67" y="271.56" width="3.31" height="3.29" fill="rgb(99,99,99)"/>
<rect x="634.68" y="271.56" width="3.31" height="3.29" fill="rgb(114,114,114)"/>
<rect x="637.69" y="271.56" width="3.31" height="3.29" fill="rgb(102,102,102)"/>
<rect x="640.70" y="271.56" width="3.31" height="3.29" fill="rgb(119,119,119)"/>
<rect x="643.71" y="271.56" width="3.31" height="3.29" fill="rgb(203,203,203)"/>
<rect x="646.72" y="271.56" width="3.31" height="3.29" fill="rgb(176,176,176)"/>
<rect x="649.73" y="271.56" width="3.31" height="3.29" fill="rgb(135,135,135)"/>
<rect x="652.74" y="271.56" width="3.31" height="3.29" fill="rgb(107,107,107)"/>
<rect x="655.75" y="271.56" width="3.31" height="3.29" fill="rgb(87,87,87)"/>
<rect x="658.76" y="271.56" width="3.31" height="3.29" fill="rgb(80,80,80)"/>
<rect x="661.77" y="271.56" width="3.31" height="3.29" fill="rgb(77,77,77)"/>
<rect x="664.78" y="271.56" width="3.31" height="3.29" fill="rgb(33,33,33)"/>
<rect x="667.79" y="271.56" width="3.31" height="3.29" fill="rgb(60,60,60)"/>
<rect x="610.60" y="274.55" width="3.31" height="3.29" fill="rgb(65,65,65)"/>
<rect x="613.61" y="274.55" width="3.31" height="3.29" fill="rgb(83,83,83)"/>
<rect x="616.62" y="274.55" width="3.31" height="3.29" fill="rgb(76,76,76)"/>
<rect x="619.63" y="274.55" width="3.31" height="3.29" fill="rgb(48,48,48)"/>
<rect x="622.64" y="274.55" width="3.31" height="3.29" fill="rgb(67,67,67)"/>
<rect x="625.65" y="274.55" width="3.31" height="3.29" fill="rgb(58,58,58)"/>
<rect x="628.66" y="274.55" width="3.31" height="3.29" fill="rgb(82,82,82)"/>
<rect x="631.67" y="274.55" width="3.31" height="3.29" fill="rgb(97,97,97)"/>
<rect x="634.68" y="274.55" width="3.31" height="3.29" fill="rgb(83,83,83)"/>
<rect x="637.69" y="274.55" width="3.31" height="3.29" fill="rgb(77,77,77)"/>
<rect x="640.70" y="274.55" width="3.31" height="3.29" fill="rgb(133,133,133)"/>
<rect x="643.71" y="274.55" width="3.31" height="3.29" fill="rgb(163,163,163)"/>
<rect x="646.72" y="274.55" width="3.31" height="3.29" fill="rgb(158,158,158)"/>
<rect x="649.73" y="274.55" width="3.31" height="3.29" fill="rgb(133,133,133)"/>
<rect x="652.74" y="274.55" width="3.31" height="3.29" fill="rgb(102,102,102)"/>
<rect x="655.75" y="274.55" width="3.31" height="3.29" fill="rgb(102,102,102)"/>
<rect x="658.76" y="274.55" width="3.31" height="3.29" fill="rgb(106,106,106)"/>
<rect x="661.77" y="274.55" width="3.31" height="3.29" fill="rgb(107,107,107)"/>
<rect x="664.78" y="274.55" width="3.31" height="3.29" fill="rgb(69,69,69)"/>
<rect x="667.79" y="274.55" width="3.31" height="3.29" fill="rgb(89,89,89)"/>
<rect x="610.60" y="277.54" width="3.31" height="3.29" fill="rgb(170,170,170)"/>
<rect x="613.61" y="277.54" width="3.31" height="3.29" fill="rgb(124,124,124)"/>
<rect x="616.62" y="277.54" width="3.31" height="3.29" fill="rgb(129,129,129)"/>
<rect x="619.63" y="277.54" width="3.31" height="3.29" fill="rgb(100,100,100)"/>
<rect x="622.64" y="277.54" width="3.31" height="3.29" fill="rgb(117,117,117)"/>
<rect x="625.65" y="277.54" width="3.31" height="3.29" fill="rgb(148,148,148)"/>
<rect x="628.66" y="277.54" width="3.31" height="3.29" fill="rgb(114,114,114)"/>
<rect x="631.67" y="277.54" width="3.31" height="3.29" fill="rgb(100,100,100)"/>
<rect x="634.68" y="277.54" width="3.31" height="3.29" fill="rgb(155,155,155)"/>
<rect x="637.69" y="277.54" width="3.31" height="3.29" fill="rgb(189,189,189)"/>
<rect x="640.70" y="277.54" width="3.31" height="3.29" fill="rgb(170,170,170)"/>
<rect x="643.71" y="277.54" width="3.31" height="3.29" fill="rgb(232,232,232)"/>
<rect x="646.72" y="277.54" width="3.31" height="3.29" fill="rgb(180,180,180)"/>
<rect x="649.73" y="277.54" width="3.31" height="3.29" fill="rgb(190,190,190)"/>
<rect x="652.74" y="277.54" width="3.31" height="3.29" fill="rgb(120,120,120)"/>
<rect x="655.75" y="277.54" width="3.31" height="3.29" fill="rgb(107,107,107)"/>
<rect x="658.76" y="277.54" width="3.31" height="3.29" fill="rgb(113,113,113)"/>
<rect x="661.77" y="277.54" width="3.31" height="3.29" fill="rgb(155,155,155)"/>
<rect x="664.78" y="277.54" width="3.31" height="3.29" fill="rgb(93,93,93)"/>
<rect x="667.79" y="277.54" width="3.31" height="3.29" fill="rgb(125,125,125)"/>
<rect x="610.60" y="280.53" width="3.31" height="3.29" fill="rgb(149,149,149)"/>
<rect x="613.61" y="280.53" width="3.31" height="3.29" fill="rgb(111,111,111)"/>
<rect x="616.62" y="280.53" width="3.31" height="3.29" fill="rgb(165,165,165)"/>
<rect x="619.63" y="280.53" width="3.31" height="3.29" fill="rgb(150,150,150)"/>
<rect x="622.64" y="280.53" width="3.31" height="3.29" fill="rgb(159,159,159)"/>
<rect x="625.65" y="280.53" width="3.31" height="3.29" fill="rgb(141,141,141)"/>
<rect x="628.66" y="280.53" width="3.31" height="3.29" fill="rgb(151,151,151)"/>
<rect x="631.67" y="280.53" width="3.31" height="3.29" fill="rgb(139,139,139)"/>
<rect x="634.68" y="280.53" width="3.31" height="3.29" fill="rgb(135,135,135)"/>
<rect x="637.69" y="280.53" width="3.31" height="3.29" fill="rgb(146,146,146)"/>
<rect x="640.70" y="280.53" width="3.31" height="3.29" fill="rgb(196,196,196)"/>
<rect x="643.71" y="280.53" width="3.31" height="3.29" fill="rgb(151,151,151)"/>
<rect x="646.72" y="280.53" width="3.31" height="3.29" fill="rgb(207,207,207)"/>
<rect x="649.73" y="280.53" width="3.31" height="3.29" fill="rgb(194,194,194)"/>
<rect x="652.74" y="280.53" width="3.31" height="3.29" fill="rgb(134,134,134)"/>
<rect x="655.75" y="280.53" width="3.31" height="3.29" fill="rgb(145,145,145)"/>
<rect x="658.76" y="280.53" width="3.31" height="3.29" fill="rgb(165,165,165)"/>
<rect x="661.77" y="280.53" width="3.31" height="3.29" fill="rgb(164,164,164)"/>
<rect x="664.78" y="280.53" width="3.31" height="3.29" fill="rgb(131,131,131)"/>
<rect x="667.79" y="280.53" width="3.31" height="3.29" fill="rgb(151,151,151)"/>
<rect x="610.60" y="283.52" width="3.31" height="3.29" fill="rgb(112,112,112)"/>
<rect x="613.61" y="283.52" width="3.31" height="3.29" fill="rgb(97,97,97)"/>
<rect x="616.62" y="283.52" width="3.31" height="3.29" fill="rgb(124,124,124)"/>
<rect x="619.63" y="283.52" width="3.31" height="3.29" fill="rgb(109,109,109)"/>
<rect x="622.64" y="283.52" width="3.31" height="3.29" fill="rgb(128,128,128)"/>
<rect x="625.65" y="283.52" width="3.31" height="3.29" fill="rgb(114,114,114)"/>
<rect x="628.66" y="283.52" width="3.31" height="3.29" fill="rgb(108,108,108)"/>
<rect x="631.67" y="283.52" width="3.31" height="3.29" fill="rgb(94,94,94)"/>
<rect x="634.68" y="283.52" width="3.31" height="3.29" fill="rgb(121,121,121)"/>
<rect x="637.69" y="283.52" width="3.31" height="3.29" fill="rgb(113,113,113)"/>
<rect x="640.70" y="283.52" width="3.31" height="3.29" fill="rgb(155,155,155)"/>
<rect x="643.71" y="283.52" width="3.31" height="3.29" fill="rgb(117,117,117)"/>
<rect x="646.72" y="283.52" width="3.31" height="3.29" fill="rgb(185,185,185)"/>
<rect x="649.73" y="283.52" width="3.31" height="3.29" fill="rgb(123,123,123)"/>
<rect x="652.74" y="283.52" width="3.31" height="3.29" fill="rgb(130,130,130)"/>
<rect x="655.75" y="283.52" width="3.31" height="3.29" fill="rgb(139,139,139)"/>
<rect x="658.76" y="283.52" width="3.31" height="3.29" fill="rgb(115,115,115)"/>
<rect x="661.77" y="283.52" width="3.31" height="3.29" fill="rgb(114,114,114)"/>
<rect x="664.78" y="283.52" width="3.31" height="3.29" fill="rgb(95,95,95)"/>
<rect x="667.79" y="283.52" width="3.31" height="3.29" fill="rgb(96,96,96)"/>
<rect x="610.60" y="286.51" width="3.31" height="3.29" fill="rgb(77,77,77)"/>
<rect x="613.61" y="286.51" width="3.31" height="3.29" fill="rgb(47,47,47)"/>
<rect x="616.62" y="286.51" width="3.31" height="3.29" fill="rgb(42,42,42)"/>
<rect x="619.63" y="286.51" width="3.31" height="3.29" fill="rgb(82,82,82)"/>
<rect x="622.64" y="286.51" width="3.31" height="3.29" fill="rgb(95,95,95)"/>
<rect x="625.65" y="286.51" width="3.31" height="3.29" fill="rgb(68,68,68)"/>
<rect x="628.66" y="286.51" width="3.31" height="3.29" fill="rgb(81,81,81)"/>
<rect x="631.67" y="286.51" width="3.31" height="3.29" fill="rgb(101,101,101)"/>
<rect x="634.68" y="286.51" width="3.31" height="3.29" fill="rgb(48,48,48)"/>
<rect x="637.69" y="286.51" width="3.31" height="3.29" fill="rgb(56,56,56)"/>
<rect x="640.70" y="286.51" width="3.31" height="3.29" fill="rgb(86,86,86)"/>
<rect x="643.71" y="286.51" width="3.31" height="3.29" fill="rgb(91,91,91)"/>
<rect x="646.72" y="286.51" width="3.31" height="3.29" fill="rgb(70,70,70)"/>
<rect x="649.73" y="286.51" width="3.31" height="3.29" fill="rgb(66,66,66)"/>
<rect x="652.74" y="286.51" width="3.31" height="3.29" fill="rgb(73,73,73)"/>
<rect x="655.75" y="286.51" width="3.31" height="3.29" fill="rgb(56,56,56)"/>
<rect x="658.76" y="286.51" width="3.31" height="3.29" fill="rgb(86,86,86)"/>
<rect x="661.77" y="286.51" width="3.31" height="3.29" fill="rgb(90,90,90)"/>
<rect x="664.78" y="286.51" width="3.31" height="3.29" fill="rgb(49,49,49)"/>
<rect x="667.79" y="286.51" width="3.31" height="3.29" fill="rgb(44,44,44)"/>
</g>
<g shape-rendering="crispEdges">
<rect x="610.60" y="298.50" width="3.31" height="3.29" fill="rgb(57,57,57)"/>
<rect x="613.61" y="298.50" width="3.31" height="3.29" fill="rgb(76,76,76)"/>
<rect x="616.62" y="298.50" width="3.31" height="3.29" fill="rgb(40,40,40)"/>
<rect x="619.63" y="298.50" width="3.31" height="3.29" fill="rgb(21,21,21)"/>
<rect x="622.64" y="298.50" width="3.31" height="3.29" fill="rgb(22,22,22)"/>
<rect x="625.65" y="298.50" width="3.31" height="3.29" fill="rgb(81,81,81)"/>
<rect x="628.66" y="298.50" width="3.31" height="3.29" fill="rgb(33,33,33)"/>
<rect x="631.67" y="298.50" width="3.31" height="3.29" fill="rgb(82,82,82)"/>
<rect x="634.68" y="298.50" width="3.31" height="3.29" fill="rgb(74,74,74)"/>
<rect x="637.69" y="298.50" width="3.31" height="3.29" fill="rgb(65,65,65)"/>
<rect x="640.70" y="298.50" width="3.31" height="3.29" fill="rgb(46,46,46)"/>
<rect x="643.71" y="298.50" width="3.31" height="3.29" fill="rgb(78,78,78)"/>
<rect x="646.72" y="298.50" width="3.31" height="3.29" fill="rgb(63,63,63)"/>
<rect x="649.73" y="298.50" width="3.31" height="3.29" fill="rgb(85,85,85)"/>
<rect x="652.74" y="298.50" width="3.31" height="3.29" fill="rgb(76,76,76)"/>
<rect x="655.75" y="298.50" width="3.31" height="3.29" fill="rgb(76,76,76)"/>
<rect x="658.76" y="298.50" width="3.31" height="3.29" fill="rgb(58,58,58)"/>
<rect x="661.77" y="298.50" width="3.31" height="3.29" fill="rgb(67,67,67)"/>
<rect x="664.78" y="298.50" width="3.31" height="3.29" fill="rgb(25,25,25)"/>
<rect x="667.79" y="298.50" width="3.31" height="3.29" fill="rgb(32,32,32)"/>
<rect x="610.60" y="301.49" width="3.31" height="3.29" fill="rgb(81,81,81)"/>
<rect x="613.61" y="301.49" width="3.31" height="3.29" fill="rgb(71,71,71)"/>
<rect x="616.62" y="301.49" width="3.31" height="3.29" fill="rgb(53,53,53)"/>
<rect x="619.63" y="301.49" width="3.31" height="3.29" fill="rgb(62,62,62)"/>
<rect x="622.64" y="301.49" width="3.31" height="3.29" fill="rgb(51,51,51)"/>
<rect x="625.65" y="301.49" width="3.31" height="3.29" fill="rgb(32,32,32)"/>
<rect x="628.66" y="301.49" width="3.31" height="3.29" fill="rgb(47,47,47)"/>
<rect x="631.67" y="301.49" width="3.31" height="3.29" fill="rgb(80,80,80)"/>
<rect x="634.68" y="301.49" width="3.31" height="3.29" fill="rgb(42,42,42)"/>
<rect x="637.69" y="301.49" width="3.31" height="3.29" fill="rgb(43,43,43)"/>
<rect x="640.70" y="301.49" width="3.31" height="3.29" fill="rgb(62,62,62)"/>
<rect x="643.71" y="301.49" width="3.31" height="3.29" fill="rgb(63,63,63)"/>
<rect x="646.72" y="301.49" width="3.31" height="3.29" fill="rgb(85,85,85)"/>
<rect x="649.73" y="301.49" width="3.31" height="3.29" fill="rgb(92,92,92)"/>
<rect x="652.74" y="301.49" width="3.31" height="3.29" fill="rgb(65,65,65)"/>
<rect x="655.75" y="301.49" width="3.31" height="3.29" fill="rgb(34,34,34)"/>
<rect x="658.76" y="301.49" width="3.31" height="3.29" fill="rgb(43,43,43)"/>
<rect x="661.77" y="301.49" width="3.31" height="3.29" fill="rgb(70,70,70)"/>
<rect x="664.78" y="301.49" width="3.31" height="3.29" fill="rgb(35,35,35)"/>
<rect x="667.79" y="301.49" width="3.31" height="3.29" fill="rgb(37,37,37)"/>
<rect x="610.60" y="304.48" width="3.31" height="3.29" fill="rgb(75,75,75)"/>
<rect x="613.61" y="304.48" width="3.31" height="3.29" fill="rgb(61,61,61)"/>
<rect x="616.62" y="304.48" width="3.31" height="3.29" fill="rgb(65,65,65)"/>
<rect x="619.63" y="304.48" width="3.31" height="3.29" fill="rgb(86,86,86)"/>
<rect x="622.64" y="304.48" width="3.31" height="3.29" fill="rgb(45,45,45)"/>
<rect x="625.65" y="304.48" width="3.31" height="3.29" fill="rgb(88,88,88)"/>
<rect x="628.66" y="304.48" width="3.31" height="3.29" fill="rgb(83,83,83)"/>
<rect x="631.67" y="304.48" width="3.31" height="3.29" fill="rgb(101,101,101)"/>
<rect x="634.68" y="304.48" width="3.31" height="3.29" fill="rgb(57,57,57)"/>
<rect x="637.69" y="304.48" width="3.31" height="3.29" fill="rgb(80,80,80)"/>
<rect x="640.70" y="304.48" width="3.31" height="3.29" fill="rgb(126,126,126)"/>
<rect x="643.71" y="304.48" width="3.31" height="3.29" fill="rgb(135,135,135)"/>
<rect x="646.72" y="304.48" width="3.31" height="3.29" fill="rgb(103,103,103)"/>
<rect x="649.73" y="304.48" width="3.31" height="3.29" fill="rgb(141,141,141)"/>
<rect x="652.74" y="304.48" width="3.31" height="3.29" fill="rgb(114,114,114)"/>
<rect x="655.75" y="304.48" width="3.31" height="3.29" fill="rgb(58,58,58)"/>
<rect x="658.76" y="304.48" width="3.31" height="3.29" fill="rgb(65,65,65)"/>
<rect x="661.77" y="304.48" width="3.31" height="3.29" fill="rgb(60,60,60)"/>
<rect x="664.78" y="304.48" width="3.31" height="3.29" fill="rgb(58,58,58)"/>
<rect x="667.79" y="304.48" width="3.31" height="3.29" fill="rgb(55,55,55)"/>
<rect x="610.60" y="307.47" width="3.31" height="3.29" fill="rgb(93,93,93)"/>
<rect x="613.61" y="307.47" width="3.31" height="3.29" fill="rgb(101,101,101)"/>
<rect x="616.62" y="307.47" width="3.31" height="3.29" fill="rgb(67,67,67)"/>
<rect x="619.63" y="307.47" width="3.31" height="3.29" fill="rgb(72,72,72)"/>
<rect x="622.64" y="307.47" width="3.31" height="3.29" fill="rgb(130,130,130)"/>
<rect x="625.65" y="307.47" width="3.31" height="3.29" fill="rgb(120,120,120)"/>
<rect x="628.66" y="307.47" width="3.31" height="3.29" fill="rgb(83,83,83)"/>
<rect x="631.67" y="307.47" width="3.31" height="3.29" fill="rgb(121,121,121)"/>
<rect x="634.68" y="307.47" width="3.31" height="3.29" fill="rgb(123,123,123)"/>
<rect x="637.69" y="307.47" width="3.31" height="3.29" fill="rgb(174,174,174)"/>
<rect x="640.70" y="307.47" width="3.31" height="3.29" fill="rgb(159,159,159)"/>
<rect x="643.71" y="307.47" width="3.31" height="3.29" fill="rgb(213,213,213)"/>
<rect x="646.72" y="307.47" width="3.31" height="3.29" fill="rgb(170,170,170)"/>
<rect x="649.73" y="307.47" width="3.31" height="3.29" fill="rgb(158,158,158)"/>
<rect x="652.74" y="307.47" width="3.31" height="3.29" fill="rgb(156,156,156)"/>
<rect x="655.75" y="307.47" width="3.31" height="3.29" fill="rgb(86,86,86)"/>
<rect x="658.76" y="307.47" width="3.31" height="3.29" fill="rgb(89,89,89)"/>
<rect x="661.77" y="307.47" width="3.31" height="3.29" fill="rgb(120,120,120)"/>
<rect x="664.78" y="307.47" width="3.31" height="3.29" fill="rgb(87,87,87)"/>
<rect x="667.79" y="307.47" width="3.31" height="3.29" fill="rgb(116,116,116)"/>
<rect x="610.60" y="310.46" width="3.31" height="3.29" fill="rgb(103,103,103)"/>
<rect x="613.61" y="310.46" width="3.31" height="3.29" fill="rgb(99,99,99)"/>
<rect x="616.62" y="310.46" width="3.31" height="3.29" fill="rgb(103,103,103)"/>
<rect x="619.63" y="310.46" width="3.31" height="3.29" fill="rgb(130,130,130)"/>
<rect x="622.64" y="310.46" width="3.31" height="3.29" fill="rgb(147,147,147)"/>
<rect x="625.65" y="310.46" width="3.31" height="3.29" fill="rgb(144,144,144)"/>
<rect x="628.66" y="310.46" width="3.31" height="3.29" fill="rgb(145,145,145)"/>
<rect x="631.67" y="310.46" width="3.31" height="3.29" fill="rgb(174,174,174)"/>
<rect x="634.68" y="310.46" width="3.31" height="3.29" fill="rgb(175,175,175)"/>
<rect x="637.69" y="310.46" width="3.31" height="3.29" fill="rgb(171,171,171)"/>
<rect x="640.70" y="310.46" width="3.31" height="3.29" fill="rgb(180,180,180)"/>
<rect x="643.71" y="310.46" width="3.31" height="3.29" fill="rgb(197,197,197)"/>
<rect x="646.72" y="310.46" width="3.31" height="3.29" fill="rgb(237,237,237)"/>
<rect x="649.73" y="310.46" width="3.31" height="3.29" fill="rgb(170,170,170)"/>
<rect x="652.74" y="310.46" width="3.31" height="3.29" fill="rgb(190,190,190)"/>
<rect x="655.75" y="310.46" width="3.31" height="3.29" fill="rgb(96,96,96)"/>
<rect x="658.76" y="310.46" width="3.31" height="3.29" fill="rgb(113,113,113)"/>
<rect x="661.77" y="310.46" width="3.31" height="3.29" fill="rgb(191,191,191)"/>
<rect x="664.78" y="310.46" width="3.31" height="3.29" fill="rgb(136,136,136)"/>
<rect x="667.79" y="310.46" width="3.31" height="3.29" fill="rgb(132,132,132)"/>
<rect x="610.60" y="313.45" width="3.31" height="3.29" fill="rgb(79,79,79)"/>
<rect x="613.61" y="313.45" width="3.31" height="3.29" fill="rgb(114,114,114)"/>
<rect x="616.62" y="313.45" width="3.31" height="3.29" fill="rgb(98,98,98)"/>
<rect x="619.63" y="313.45" width="3.31" height="3.29" fill="rgb(85,85,85)"/>
<rect x="622.64" y="313.45" width="3.31" height="3.29" fill="rgb(106,106,106)"/>
<rect x="625.65" y="313.45" width="3.31" height="3.29" fill="rgb(136,136,136)"/>
<rect x="628.66" y="313.45" width="3.31" height="3.29" fill="rgb(75,75,75)"/>
<rect x="631.67" y="313.45" width="3.31" height="3.29" fill="rgb(136,136,136)"/>
<rect x="634.68" y="313.45" width="3.31" height="3.29" fill="rgb(112,112,112)"/>
<rect x="637.69" y="313.45" width="3.31" height="3.29" fill="rgb(172,172,172)"/>
<rect x="640.70" y="313.45" width="3.31" height="3.29" fill="rgb(197,197,197)"/>
<rect x="643.71" y="313.45" width="3.31" height="3.29" fill="rgb(208,208,208)"/>
<rect x="646.72" y="313.45" width="3.31" height="3.29" fill="rgb(233,233,233)"/>
<rect x="649.73" y="313.45" width="3.31" height="3.29" fill="rgb(166,166,166)"/>
<rect x="652.74" y="313.45" width="3.31" height="3.29" fill="rgb(112,112,112)"/>
<rect x="655.75" y="313.45" width="3.31" height="3.29" fill="rgb(132,132,132)"/>
<rect x="658.76" y="313.45" width="3.31" height="3.29" fill="rgb(96,96,96)"/>
<rect x="661.77" y="313.45" width="3.31" height="3.29" fill="rgb(87,87,87)"/>
<rect x="664.78" y="313.45" width="3.31" height="3.29" fill="rgb(111,111,111)"/>
<rect x="667.79" y="313.45" width="3.31" height="3.29" fill="rgb(119,119,119)"/>
<rect x="610.60" y="316.44" width="3.31" height="3.29" fill="rgb(57,57,57)"/>
<rect x="613.61" y="316.44" width="3.31" height="3.29" fill="rgb(101,101,101)"/>
<rect x="616.62" y="316.44" width="3.31" height="3.29" fill="rgb(89,89,89)"/>
<rect x="619.63" y="316.44" width="3.31" height="3.29" fill="rgb(55,55,55)"/>
<rect x="622.64" y="316.44" width="3.31" height="3.29" fill="rgb(86,86,86)"/>
<rect x="625.65" y="316.44" width="3.31" height="3.29" fill="rgb(34,34,34)"/>
<rect x="628.66" y="316.44" width="3.31" height="3.29" fill="rgb(45,45,45)"/>
<rect x="631.67" y="316.44" width="3.31" height="3.29" fill="rgb(94,94,94)"/>
<rect x="634.68" y="316.44" width="3.31" height="3.29" fill="rgb(95,95,95)"/>
<rect x="637.69" y="316.44" width="3.31" height="3.29" fill="rgb(112,112,112)"/>
<rect x="640.70" y="316.44" width="3.31" height="3.29" fill="rgb(143,143,143)"/>
<rect x="643.71" y="316.44" width="3.31" height="3.29" fill="rgb(151,151,151)"/>
<rect x="646.72" y="316.44" width="3.31" height="3.29" fill="rgb(166,166,166)"/>
<rect x="649.73" y="316.44" width="3.31" height="3.29" fill="rgb(109,109,109)"/>
<rect x="652.74" y="316.44" width="3.31" height="3.29" fill="rgb(78,78,78)"/>
<rect x="655.75" y="316.44" width="3.31" height="3.29" fill="rgb(64,64,64)"/>
<rect x="658.76" y="316.44" width="3.31" height="3.29" fill="rgb(73,73,73)"/>
<rect x="661.77" y="316.44" width="3.31" height="3.29" fill="rgb(70,70,70)"/>
<rect x="664.78" y="316.44" width="3.31" height="3.29" fill="rgb(97,97,97)"/>
<rect x="667.79" y="316.44" width="3.31" height="3.29" fill="rgb(86,86,86)"/>
<rect x="610.60" y="319.43" width="3.31" height="3.29" fill="rgb(57,57,57)"/>
<rect x="613.61" y="319.43" width="3.31" height="3.29" fill="rgb(45,45,45)"/>
<rect x="616.62" y="319.43" width="3.31" height="3.29" fill="rgb(65,65,65)"/>
<rect x="619.63" y="319.43" width="3.31" height="3.29" fill="rgb(39,39,39)"/>
<rect x="622.64" y="319.43" width="3.31" height="3.29" fill="rgb(26,26,26)"/>
<rect x="625.65" y="319.43" width="3.31" height="3.29" fill="rgb(59,59,59)"/>
<rect x="628.66" y="319.43" width="3.31" height="3.29" fill="rgb(68,68,68)"/>
<rect x="631.67" y="319.43" width="3.31" height="3.29" fill="rgb(82,82,82)"/>
<rect x="634.68" y="319.43" width="3.31" height="3.29" fill="rgb(73,73,73)"/>
<rect x="637.69" y="319.43" width="3.31" height="3.29" fill="rgb(90,90,90)"/>
<rect x="640.70" y="319.43" width="3.31" height="3.29" fill="rgb(131,131,131)"/>
<rect x="643.71" y="319.43" width="3.31" height="3.29" fill="rgb(140,140,140)"/>
<rect x="646.72" y="319.43" width="3.31" height="3.29" fill="rgb(143,143,143)"/>
<rect x="649.73" y="319.43" width="3.31" height="3.29" fill="rgb(82,82,82)"/>
<rect x="652.74" y="319.43" width="3.31" height="3.29" fill="rgb(99,99,99)"/>
<rect x="655.75" y="319.43" width="3.31" height="3.29" fill="rgb(90,90,90)"/>
<rect x="658.76" y="319.43" width="3.31" height="3.29" fill="rgb(47,47,47)"/>
<rect x="661.77" y="319.43" width="3.31" height="3.29" fill="rgb(47,47,47)"/>
<rect x="664.78" y="319.43" width="3.31" height="3.29" fill="rgb(65,65,65)"/>
<rect x="667.79" y="319.43" width="3.31" height="3.29" fill="rgb(81,81,81)"/>
<rect x="610.60" y="322.42" width="3.31" height="3.29" fill="rgb(44,44,44)"/>
<rect x="613.61" y="322.42" width="3.31" height="3.29" fill="rgb(63,63,63)"/>
<rect x="616.62" y="322.42" width="3.31" height="3.29" fill="rgb(65,65,65)"/>
<rect x="619.63" y="322.42" width="3.31" height="3.29" fill="rgb(76,76,76)"/>
<rect x="622.64" y="322.42" width="3.31" height="3.29" fill="rgb(39,39,39)"/>
<rect x="625.65" y="322.42" width="3.31" height="3.29" fill="rgb(59,59,59)"/>
<rect x="628.66" y="322.42" width="3.31" height="3.29" fill="rgb(30,30,30)"/>
<rect x="631.67" y="322.42" width="3.31" height="3.29" fill="rgb(69,69,69)"/>
<rect x="634.68" y="322.42" width="3.31" height="3.29" fill="rgb(26,26,26)"/>
<rect x="637.69" y="322.42" width="3.31" height="3.29" fill="rgb(86,86,86)"/>
<rect x="640.70" y="322.42" width="3.31" height="3.29" fill="rgb(97,97,97)"/>
<rect x="643.71" y="322.42" width="3.31" height="3.29" fill="rgb(95,95,95)"/>
<rect x="646.72" y="322.42" width="3.31" height="3.29" fill="rgb(126,126,126)"/>
<rect x="649.73" y="322.42" width="3.31" height="3.29" fill="rgb(68,68,68)"/>
<rect x="652.74" y="322.42" width="3.31" height="3.29" fill="rgb(94,94,94)"/>
<rect x="655.75" y="322.42" width="3.31" height="3.29" fill="rgb(24,24,24)"/>
<rect x="658.76" y="322.42" width="3.31" height="3.29" fill="rgb(56,56,56)"/>
<rect x="661.77" y="322.42" width="3.31" height="3.29" fill="rgb(31,31,31)"/>
<rect x="664.78" y="322.42" width="3.31" height="3.29" fill="rgb(57,57,57)"/>
<rect x="667.79" y="322.42" width="3.31" height="3.29" fill="rgb(64,64,64)"/>
<rect x="610.60" y="325.41" width="3.31" height="3.29" fill="rgb(23,23,23)"/>
<rect x="613.61" y="325.41" width="3.31" height="3.29" fill="rgb(73,73,73)"/>
<rect x="616.62" y="325.41" width="3.31" height="3.29" fill="rgb(39,39,39)"/>
<rect x="619.63" y="325.41" width="3.31" height="3.29" fill="rgb(60,60,60)"/>
<rect x="622.64" y="325.41" width="3.31" height="3.29" fill="rgb(33,33,33)"/>
<rect x="625.65" y="325.41" width="3.31" height="3.29" fill="rgb(73,73,73)"/>
<rect x="628.66" y="325.41" width="3.31" height="3.29" fill="rgb(25,25,25)"/>
<rect x="631.67" y="325.41" width="3.31" height="3.29" fill="rgb(29,29,29)"/>
<rect x="634.68" y="325.41" width="3.31" height="3.29" fill="rgb(30,30,30)"/>
<rect x="637.69" y="325.41" width="3.31" height="3.29" fill="rgb(33,33,33)"/>
<rect x="640.70" y="325.41" width="3.31" height="3.29" fill="rgb(84,84,84)"/>
<rect x="643.71" y="325.41" width="3.31" height="3.29" fill="rgb(99,99,99)"/>
<rect x="646.72" y="325.41" width="3.31" height="3.29" fill="rgb(107,107,107)"/>
<rect x="649.73" y="325.41" width="3.31" height="3.29" fill="rgb(77,77,77)"/>
<rect x="652.74" y="325.41" width="3.31" height="3.29" fill="rgb(33,33,33)"/>
<rect x="655.75" y="325.41" width="3.31" height="3.29" fill="rgb(25,25,25)"/>
<rect x="658.76" y="325.41" width="3.31" height="3.29" fill="rgb(43,43,43)"/>
<rect x="661.77" y="325.41" width="3.31" height="3.29" fill="rgb(63,63,63)"/>
<rect x="664.78" y="325.41" width="3.31" height="3.29" fill="rgb(24,24,24)"/>
<rect x="667.79" y="325.41" width="3.31" height="3.29" fill="rgb(54,54,54)"/>
</g>
<line x1="610.6" y1="277" x2="670.8" y2="275.2" stroke="#ecd161" stroke-width="1.3" stroke-dasharray="5,2.7" stroke-dashoffset="-1"/>
<line x1="610.6" y1="315.3" x2="670.8" y2="314.6" stroke="#ecd161" stroke-width="1.3" stroke-dasharray="5,2.7" stroke-dashoffset="-1"/>
<path d="M-4.90,-1.25 L0.40,-1.25 L0.40,-2.85 L4.90,0.00 L0.40,2.85 L0.40,1.25 L-4.90,1.25 Z" transform="translate(680.5,263.5) rotate(0)" fill="#4a9fe2" stroke="#1f5482" stroke-width="0.65" stroke-linejoin="round"/>
<path d="M-4.90,-1.25 L0.40,-1.25 L0.40,-2.85 L4.90,0.00 L0.40,2.85 L0.40,1.25 L-4.90,1.25 Z" transform="translate(680.5,272.8) rotate(-32)" fill="#4a9fe2" stroke="#1f5482" stroke-width="0.65" stroke-linejoin="round"/>
<path d="M-4.90,-1.25 L0.40,-1.25 L0.40,-2.85 L4.90,0.00 L0.40,2.85 L0.40,1.25 L-4.90,1.25 Z" transform="translate(680.5,283.0) rotate(-65)" fill="#4a9fe2" stroke="#1f5482" stroke-width="0.65" stroke-linejoin="round"/>
<path d="M-4.90,-1.25 L0.40,-1.25 L0.40,-2.85 L4.90,0.00 L0.40,2.85 L0.40,1.25 L-4.90,1.25 Z" transform="translate(680.5,293.2) rotate(-90)" fill="#4a9fe2" stroke="#1f5482" stroke-width="0.65" stroke-linejoin="round"/>
<path d="M-4.90,-1.25 L0.40,-1.25 L0.40,-2.85 L4.90,0.00 L0.40,2.85 L0.40,1.25 L-4.90,1.25 Z" transform="translate(680.5,303.5) rotate(-115)" fill="#4a9fe2" stroke="#1f5482" stroke-width="0.65" stroke-linejoin="round"/>
<path d="M-4.90,-1.25 L0.40,-1.25 L0.40,-2.85 L4.90,0.00 L0.40,2.85 L0.40,1.25 L-4.90,1.25 Z" transform="translate(680.5,313.9) rotate(-148)" fill="#4a9fe2" stroke="#1f5482" stroke-width="0.65" stroke-linejoin="round"/>
<path d="M-4.90,-1.25 L0.40,-1.25 L0.40,-2.85 L4.90,0.00 L0.40,2.85 L0.40,1.25 L-4.90,1.25 Z" transform="translate(680.5,323.5) rotate(180)" fill="#4a9fe2" stroke="#1f5482" stroke-width="0.65" stroke-linejoin="round"/>
</g>
</svg>
</body></html>
